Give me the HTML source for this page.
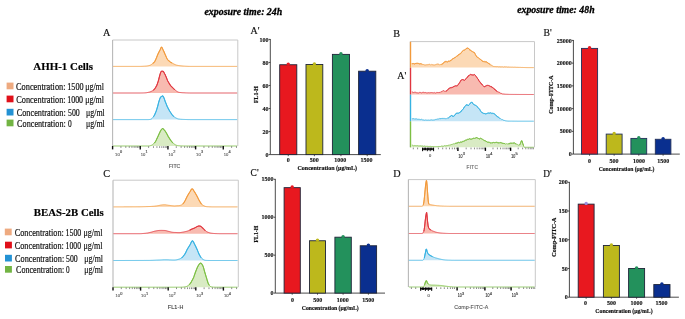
<!DOCTYPE html><html><head><meta charset="utf-8"><style>html,body{margin:0;padding:0;background:#fff;}svg{display:block;will-change:transform;}</style></head><body><svg width="685" height="319" viewBox="0 0 685 319"><rect width="685" height="319" fill="#fff"/><text x="204.5" y="15" font-family='"Liberation Serif", serif' font-size="10" font-weight="bold" font-style="italic" text-anchor="start" fill="#000" stroke="#000" stroke-width="0.3" textLength="77.7" lengthAdjust="spacingAndGlyphs">exposure time: 24h</text>
<text x="517.2" y="13.2" font-family='"Liberation Serif", serif' font-size="10" font-weight="bold" font-style="italic" text-anchor="start" fill="#000" stroke="#000" stroke-width="0.3" textLength="77.4" lengthAdjust="spacingAndGlyphs">exposure time: 48h</text>
<text x="102.9" y="36" font-family='"Liberation Serif", serif' font-size="10.2" font-weight="normal" font-style="normal" text-anchor="start" fill="#111" stroke="#111" stroke-width="0.18">A</text>
<text x="250.6" y="34.2" font-family='"Liberation Serif", serif' font-size="10.2" font-weight="normal" font-style="normal" text-anchor="start" fill="#111" stroke="#111" stroke-width="0.18" textLength="8.9" lengthAdjust="spacingAndGlyphs">A'</text>
<text x="393.2" y="37" font-family='"Liberation Serif", serif' font-size="10.2" font-weight="normal" font-style="normal" text-anchor="start" fill="#111" stroke="#111" stroke-width="0.18">B</text>
<text x="397.3" y="78.5" font-family='"Liberation Serif", serif' font-size="10.2" font-weight="normal" font-style="normal" text-anchor="start" fill="#111" stroke="#111" stroke-width="0.18" textLength="8.9" lengthAdjust="spacingAndGlyphs">A'</text>
<text x="543.5" y="36" font-family='"Liberation Serif", serif' font-size="10.2" font-weight="normal" font-style="normal" text-anchor="start" fill="#111" stroke="#111" stroke-width="0.18" textLength="8.2" lengthAdjust="spacingAndGlyphs">B'</text>
<text x="103.2" y="176.6" font-family='"Liberation Serif", serif' font-size="10.2" font-weight="normal" font-style="normal" text-anchor="start" fill="#111" stroke="#111" stroke-width="0.18">C</text>
<text x="250.6" y="176.3" font-family='"Liberation Serif", serif' font-size="10.2" font-weight="normal" font-style="normal" text-anchor="start" fill="#111" stroke="#111" stroke-width="0.18" textLength="8" lengthAdjust="spacingAndGlyphs">C'</text>
<text x="393.2" y="176.6" font-family='"Liberation Serif", serif' font-size="10.2" font-weight="normal" font-style="normal" text-anchor="start" fill="#111" stroke="#111" stroke-width="0.18">D</text>
<text x="543.2" y="177" font-family='"Liberation Serif", serif' font-size="10.2" font-weight="normal" font-style="normal" text-anchor="start" fill="#111" stroke="#111" stroke-width="0.18" textLength="8.4" lengthAdjust="spacingAndGlyphs">D'</text>
<text x="33.3" y="70" font-family='"Liberation Serif", serif' font-size="11.3" font-weight="bold" font-style="normal" text-anchor="start" fill="#000" stroke="#000" stroke-width="0.18" textLength="59.8" lengthAdjust="spacingAndGlyphs">AHH-1 Cells</text>
<text x="33.7" y="215.9" font-family='"Liberation Serif", serif' font-size="11.3" font-weight="bold" font-style="normal" text-anchor="start" fill="#000" stroke="#000" stroke-width="0.18" textLength="70.1" lengthAdjust="spacingAndGlyphs">BEAS-2B Cells</text>
<rect x="6.6" y="82.6" width="6.9" height="6.7" fill="#eeaa80" stroke="none" stroke-width="1"/>
<text x="16" y="90" font-family='"Liberation Serif", serif' font-size="9.5" font-weight="normal" font-style="normal" text-anchor="start" fill="#111" stroke="#111" stroke-width="0.18" textLength="49.6" lengthAdjust="spacingAndGlyphs">Concentration:</text>
<text x="67.2" y="90" font-family='"Liberation Serif", serif' font-size="9.5" font-weight="normal" font-style="normal" text-anchor="start" fill="#111" stroke="#111" stroke-width="0.18" textLength="16.4" lengthAdjust="spacingAndGlyphs">1500</text>
<text x="85.2" y="90" font-family='"Liberation Serif", serif' font-size="9.5" font-weight="normal" font-style="normal" text-anchor="start" fill="#111" stroke="#111" stroke-width="0.18" textLength="18.8" lengthAdjust="spacingAndGlyphs">μg/ml</text>
<rect x="6.6" y="95.6" width="6.9" height="6.7" fill="#e0101a" stroke="none" stroke-width="1"/>
<text x="16.3" y="103.1" font-family='"Liberation Serif", serif' font-size="9.5" font-weight="normal" font-style="normal" text-anchor="start" fill="#111" stroke="#111" stroke-width="0.18" textLength="49.3" lengthAdjust="spacingAndGlyphs">Concentration:</text>
<text x="67.2" y="103.1" font-family='"Liberation Serif", serif' font-size="9.5" font-weight="normal" font-style="normal" text-anchor="start" fill="#111" stroke="#111" stroke-width="0.18" textLength="15.9" lengthAdjust="spacingAndGlyphs">1000</text>
<text x="85.2" y="103.1" font-family='"Liberation Serif", serif' font-size="9.5" font-weight="normal" font-style="normal" text-anchor="start" fill="#111" stroke="#111" stroke-width="0.18" textLength="18.8" lengthAdjust="spacingAndGlyphs">μg/ml</text>
<rect x="6.6" y="108.8" width="6.9" height="6.7" fill="#2392d4" stroke="none" stroke-width="1"/>
<text x="16.7" y="115.8" font-family='"Liberation Serif", serif' font-size="9.5" font-weight="normal" font-style="normal" text-anchor="start" fill="#111" stroke="#111" stroke-width="0.18" textLength="49.1" lengthAdjust="spacingAndGlyphs">Concentration:</text>
<text x="68" y="115.8" font-family='"Liberation Serif", serif' font-size="9.5" font-weight="normal" font-style="normal" text-anchor="start" fill="#111" stroke="#111" stroke-width="0.18" textLength="11.8" lengthAdjust="spacingAndGlyphs">500</text>
<text x="86" y="115.8" font-family='"Liberation Serif", serif' font-size="9.5" font-weight="normal" font-style="normal" text-anchor="start" fill="#111" stroke="#111" stroke-width="0.18" textLength="18.8" lengthAdjust="spacingAndGlyphs">μg/ml</text>
<rect x="6.6" y="119.6" width="6.9" height="6.7" fill="#72b443" stroke="none" stroke-width="1"/>
<text x="17.1" y="126.8" font-family='"Liberation Serif", serif' font-size="9.5" font-weight="normal" font-style="normal" text-anchor="start" fill="#111" stroke="#111" stroke-width="0.18" textLength="48.7" lengthAdjust="spacingAndGlyphs">Concentration:</text>
<text x="68.1" y="126.8" font-family='"Liberation Serif", serif' font-size="9.5" font-weight="normal" font-style="normal" text-anchor="start" fill="#111" stroke="#111" stroke-width="0.18" textLength="3.7" lengthAdjust="spacingAndGlyphs">0</text>
<text x="86" y="126.8" font-family='"Liberation Serif", serif' font-size="9.5" font-weight="normal" font-style="normal" text-anchor="start" fill="#111" stroke="#111" stroke-width="0.18" textLength="18.8" lengthAdjust="spacingAndGlyphs">μg/ml</text>
<rect x="4.8" y="228.6" width="6.9" height="6.7" fill="#eeaa80" stroke="none" stroke-width="1"/>
<text x="14.7" y="236.2" font-family='"Liberation Serif", serif' font-size="9.5" font-weight="normal" font-style="normal" text-anchor="start" fill="#111" stroke="#111" stroke-width="0.18" textLength="49.2" lengthAdjust="spacingAndGlyphs">Concentration:</text>
<text x="65.5" y="236.2" font-family='"Liberation Serif", serif' font-size="9.5" font-weight="normal" font-style="normal" text-anchor="start" fill="#111" stroke="#111" stroke-width="0.18" textLength="15.8" lengthAdjust="spacingAndGlyphs">1500</text>
<text x="83.5" y="236.2" font-family='"Liberation Serif", serif' font-size="9.5" font-weight="normal" font-style="normal" text-anchor="start" fill="#111" stroke="#111" stroke-width="0.18" textLength="19.1" lengthAdjust="spacingAndGlyphs">μg/ml</text>
<rect x="5" y="241.7" width="6.9" height="6.7" fill="#e0101a" stroke="none" stroke-width="1"/>
<text x="14.7" y="249.3" font-family='"Liberation Serif", serif' font-size="9.5" font-weight="normal" font-style="normal" text-anchor="start" fill="#111" stroke="#111" stroke-width="0.18" textLength="49.2" lengthAdjust="spacingAndGlyphs">Concentration:</text>
<text x="65.5" y="249.3" font-family='"Liberation Serif", serif' font-size="9.5" font-weight="normal" font-style="normal" text-anchor="start" fill="#111" stroke="#111" stroke-width="0.18" textLength="15.5" lengthAdjust="spacingAndGlyphs">1000</text>
<text x="83.5" y="249.3" font-family='"Liberation Serif", serif' font-size="9.5" font-weight="normal" font-style="normal" text-anchor="start" fill="#111" stroke="#111" stroke-width="0.18" textLength="19.1" lengthAdjust="spacingAndGlyphs">μg/ml</text>
<rect x="5" y="254.8" width="6.9" height="6.7" fill="#2392d4" stroke="none" stroke-width="1"/>
<text x="15" y="261.6" font-family='"Liberation Serif", serif' font-size="9.5" font-weight="normal" font-style="normal" text-anchor="start" fill="#111" stroke="#111" stroke-width="0.18" textLength="49.2" lengthAdjust="spacingAndGlyphs">Concentration:</text>
<text x="66" y="261.6" font-family='"Liberation Serif", serif' font-size="9.5" font-weight="normal" font-style="normal" text-anchor="start" fill="#111" stroke="#111" stroke-width="0.18" textLength="11.7" lengthAdjust="spacingAndGlyphs">500</text>
<text x="84.3" y="261.6" font-family='"Liberation Serif", serif' font-size="9.5" font-weight="normal" font-style="normal" text-anchor="start" fill="#111" stroke="#111" stroke-width="0.18" textLength="18.7" lengthAdjust="spacingAndGlyphs">μg/ml</text>
<rect x="5" y="266" width="6.9" height="6.7" fill="#72b443" stroke="none" stroke-width="1"/>
<text x="16" y="272.8" font-family='"Liberation Serif", serif' font-size="9.5" font-weight="normal" font-style="normal" text-anchor="start" fill="#111" stroke="#111" stroke-width="0.18" textLength="48.2" lengthAdjust="spacingAndGlyphs">Concentration:</text>
<text x="66" y="272.8" font-family='"Liberation Serif", serif' font-size="9.5" font-weight="normal" font-style="normal" text-anchor="start" fill="#111" stroke="#111" stroke-width="0.18" textLength="3.6" lengthAdjust="spacingAndGlyphs">0</text>
<text x="84.3" y="272.8" font-family='"Liberation Serif", serif' font-size="9.5" font-weight="normal" font-style="normal" text-anchor="start" fill="#111" stroke="#111" stroke-width="0.18" textLength="18.7" lengthAdjust="spacingAndGlyphs">μg/ml</text>
<line x1="112.6" y1="40" x2="237.8" y2="40" stroke="#c8c8c8" stroke-width="1"/>
<line x1="237.8" y1="40" x2="237.8" y2="146" stroke="#c8c8c8" stroke-width="1"/>
<line x1="112.6" y1="40" x2="112.6" y2="146" stroke="#b8b8b8" stroke-width="1.1"/>
<path d="M113.1 66.4 L113.6 66.4 L114.1 66.4 L114.6 66.4 L115.1 66.4 L115.6 66.4 L116.1 66.4 L116.6 66.4 L117.1 66.4 L117.6 66.4 L118.1 66.4 L118.6 66.4 L119.1 66.4 L119.6 66.4 L120.1 66.4 L120.6 66.4 L121.1 66.4 L121.6 66.4 L122.1 66.4 L122.6 66.4 L123.1 66.4 L123.6 66.4 L124.1 66.4 L124.6 66.4 L125.1 66.4 L125.6 66.4 L126.1 66.4 L126.6 66.4 L127.1 66.4 L127.6 66.4 L128.1 66.4 L128.6 66.4 L129.1 66.4 L129.6 66.4 L130.1 66.4 L130.6 66.4 L131.1 66.4 L131.6 66.4 L132.1 66.4 L132.6 66.4 L133.1 66.4 L133.6 66.4 L134.1 66.4 L134.6 66.4 L135.1 66.4 L135.6 66.4 L136.1 66.4 L136.6 66.4 L137.1 66.4 L137.6 66.4 L138.1 66.4 L138.6 66.4 L139.1 66.4 L139.6 66.4 L140.1 66.4 L140.6 66.38 L141.1 66.37 L141.6 66.35 L142.1 66.33 L142.6 66.31 L143.1 66.28 L143.6 66.25 L144.1 66.22 L144.6 66.19 L145.1 66.16 L145.6 66.12 L146.1 66.08 L146.6 66.03 L147.1 65.96 L147.6 65.88 L148.1 65.79 L148.6 65.69 L149.1 65.57 L149.6 65.42 L150.1 65.24 L150.6 65 L151.1 64.71 L151.6 64.37 L152.1 63.99 L152.6 63.58 L153.1 63.16 L153.6 62.74 L154.1 62.33 L154.6 61.71 L155.1 60.81 L155.6 59.8 L156.1 58.66 L156.6 57.46 L157.1 56.15 L157.6 54.85 L158.1 53.79 L158.6 52.75 L159.1 51.72 L159.6 50.76 L160.1 49.9 L160.6 48.53 L161.1 47.44 L161.6 47.12 L162.1 47.66 L162.6 48.7 L163.1 49.9 L163.6 50.89 L164.1 52.01 L164.6 53.2 L165.1 54.37 L165.6 55.48 L166.1 56.62 L166.6 57.73 L167.1 58.76 L167.6 59.54 L168.1 60.08 L168.6 60.55 L169.1 60.98 L169.6 61.4 L170.1 61.82 L170.6 62.2 L171.1 62.46 L171.6 62.74 L172.1 63.02 L172.6 63.3 L173.1 63.58 L173.6 63.85 L174.1 64.12 L174.6 64.37 L175.1 64.6 L175.6 64.81 L176.1 65 L176.6 65.14 L177.1 65.26 L177.6 65.37 L178.1 65.47 L178.6 65.55 L179.1 65.62 L179.6 65.69 L180.1 65.75 L180.6 65.8 L181.1 65.85 L181.6 65.9 L182.1 65.95 L182.6 66 L183.1 66.05 L183.6 66.09 L184.1 66.13 L184.6 66.16 L185.1 66.19 L185.6 66.22 L186.1 66.25 L186.6 66.28 L187.1 66.3 L187.6 66.32 L188.1 66.34 L188.6 66.36 L189.1 66.37 L189.6 66.39 L190.1 66.4 L190.6 66.4 L191.1 66.4 L191.6 66.4 L192.1 66.4 L192.6 66.4 L193.1 66.4 L193.6 66.4 L194.1 66.4 L194.6 66.4 L195.1 66.4 L195.6 66.4 L196.1 66.4 L196.6 66.4 L197.1 66.4 L197.6 66.4 L198.1 66.4 L198.6 66.4 L199.1 66.4 L199.6 66.4 L200.1 66.4 L200.6 66.4 L201.1 66.4 L201.6 66.4 L202.1 66.4 L202.6 66.4 L203.1 66.4 L203.6 66.4 L204.1 66.4 L204.6 66.4 L205.1 66.4 L205.6 66.4 L206.1 66.4 L206.6 66.4 L207.1 66.4 L207.6 66.4 L208.1 66.4 L208.6 66.4 L209.1 66.4 L209.6 66.4 L210.1 66.4 L210.6 66.4 L211.1 66.4 L211.6 66.4 L212.1 66.4 L212.6 66.4 L213.1 66.4 L213.6 66.4 L214.1 66.4 L214.6 66.4 L215.1 66.4 L215.6 66.4 L216.1 66.4 L216.6 66.4 L217.1 66.4 L217.6 66.4 L218.1 66.4 L218.6 66.4 L219.1 66.4 L219.6 66.4 L220.1 66.4 L220.6 66.4 L221.1 66.4 L221.6 66.4 L222.1 66.4 L222.6 66.4 L223.1 66.4 L223.6 66.4 L224.1 66.4 L224.6 66.4 L225.1 66.4 L225.6 66.4 L226.1 66.4 L226.6 66.4 L227.1 66.4 L227.6 66.4 L228.1 66.4 L228.6 66.4 L229.1 66.4 L229.6 66.4 L230.1 66.4 L230.6 66.4 L231.1 66.4 L231.6 66.4 L232.1 66.4 L232.6 66.4 L233.1 66.4 L233.6 66.4 L234.1 66.4 L234.6 66.4 L235.1 66.4 L235.6 66.4 L236.1 66.4 L236.6 66.4 L237.1 66.4 L237.3 66.4 L113.1 66.4 Z" fill="#fcd9b5" stroke="none"/>
<path d="M113.1 66.4 L113.6 66.4 L114.1 66.4 L114.6 66.4 L115.1 66.4 L115.6 66.4 L116.1 66.4 L116.6 66.4 L117.1 66.4 L117.6 66.4 L118.1 66.4 L118.6 66.4 L119.1 66.4 L119.6 66.4 L120.1 66.4 L120.6 66.4 L121.1 66.4 L121.6 66.4 L122.1 66.4 L122.6 66.4 L123.1 66.4 L123.6 66.4 L124.1 66.4 L124.6 66.4 L125.1 66.4 L125.6 66.4 L126.1 66.4 L126.6 66.4 L127.1 66.4 L127.6 66.4 L128.1 66.4 L128.6 66.4 L129.1 66.4 L129.6 66.4 L130.1 66.4 L130.6 66.4 L131.1 66.4 L131.6 66.4 L132.1 66.4 L132.6 66.4 L133.1 66.4 L133.6 66.4 L134.1 66.4 L134.6 66.4 L135.1 66.4 L135.6 66.4 L136.1 66.4 L136.6 66.4 L137.1 66.4 L137.6 66.4 L138.1 66.4 L138.6 66.4 L139.1 66.4 L139.6 66.4 L140.1 66.4 L140.6 66.38 L141.1 66.37 L141.6 66.35 L142.1 66.33 L142.6 66.31 L143.1 66.28 L143.6 66.25 L144.1 66.22 L144.6 66.19 L145.1 66.16 L145.6 66.12 L146.1 66.08 L146.6 66.03 L147.1 65.96 L147.6 65.88 L148.1 65.79 L148.6 65.69 L149.1 65.57 L149.6 65.42 L150.1 65.24 L150.6 65 L151.1 64.71 L151.6 64.37 L152.1 63.99 L152.6 63.58 L153.1 63.16 L153.6 62.74 L154.1 62.33 L154.6 61.71 L155.1 60.81 L155.6 59.8 L156.1 58.66 L156.6 57.46 L157.1 56.15 L157.6 54.85 L158.1 53.79 L158.6 52.75 L159.1 51.72 L159.6 50.76 L160.1 49.9 L160.6 48.53 L161.1 47.44 L161.6 47.12 L162.1 47.66 L162.6 48.7 L163.1 49.9 L163.6 50.89 L164.1 52.01 L164.6 53.2 L165.1 54.37 L165.6 55.48 L166.1 56.62 L166.6 57.73 L167.1 58.76 L167.6 59.54 L168.1 60.08 L168.6 60.55 L169.1 60.98 L169.6 61.4 L170.1 61.82 L170.6 62.2 L171.1 62.46 L171.6 62.74 L172.1 63.02 L172.6 63.3 L173.1 63.58 L173.6 63.85 L174.1 64.12 L174.6 64.37 L175.1 64.6 L175.6 64.81 L176.1 65 L176.6 65.14 L177.1 65.26 L177.6 65.37 L178.1 65.47 L178.6 65.55 L179.1 65.62 L179.6 65.69 L180.1 65.75 L180.6 65.8 L181.1 65.85 L181.6 65.9 L182.1 65.95 L182.6 66 L183.1 66.05 L183.6 66.09 L184.1 66.13 L184.6 66.16 L185.1 66.19 L185.6 66.22 L186.1 66.25 L186.6 66.28 L187.1 66.3 L187.6 66.32 L188.1 66.34 L188.6 66.36 L189.1 66.37 L189.6 66.39 L190.1 66.4 L190.6 66.4 L191.1 66.4 L191.6 66.4 L192.1 66.4 L192.6 66.4 L193.1 66.4 L193.6 66.4 L194.1 66.4 L194.6 66.4 L195.1 66.4 L195.6 66.4 L196.1 66.4 L196.6 66.4 L197.1 66.4 L197.6 66.4 L198.1 66.4 L198.6 66.4 L199.1 66.4 L199.6 66.4 L200.1 66.4 L200.6 66.4 L201.1 66.4 L201.6 66.4 L202.1 66.4 L202.6 66.4 L203.1 66.4 L203.6 66.4 L204.1 66.4 L204.6 66.4 L205.1 66.4 L205.6 66.4 L206.1 66.4 L206.6 66.4 L207.1 66.4 L207.6 66.4 L208.1 66.4 L208.6 66.4 L209.1 66.4 L209.6 66.4 L210.1 66.4 L210.6 66.4 L211.1 66.4 L211.6 66.4 L212.1 66.4 L212.6 66.4 L213.1 66.4 L213.6 66.4 L214.1 66.4 L214.6 66.4 L215.1 66.4 L215.6 66.4 L216.1 66.4 L216.6 66.4 L217.1 66.4 L217.6 66.4 L218.1 66.4 L218.6 66.4 L219.1 66.4 L219.6 66.4 L220.1 66.4 L220.6 66.4 L221.1 66.4 L221.6 66.4 L222.1 66.4 L222.6 66.4 L223.1 66.4 L223.6 66.4 L224.1 66.4 L224.6 66.4 L225.1 66.4 L225.6 66.4 L226.1 66.4 L226.6 66.4 L227.1 66.4 L227.6 66.4 L228.1 66.4 L228.6 66.4 L229.1 66.4 L229.6 66.4 L230.1 66.4 L230.6 66.4 L231.1 66.4 L231.6 66.4 L232.1 66.4 L232.6 66.4 L233.1 66.4 L233.6 66.4 L234.1 66.4 L234.6 66.4 L235.1 66.4 L235.6 66.4 L236.1 66.4 L236.6 66.4 L237.1 66.4" fill="none" stroke="#f29a3c" stroke-width="1" stroke-opacity="0.85"/>
<path d="M153.1 63.16 L153.6 62.74 L154.1 62.33 L154.6 61.71 L155.1 60.81 L155.6 59.8 L156.1 58.66 L156.6 57.46 L157.1 56.15 L157.6 54.85 L158.1 53.79 L158.6 52.75 L159.1 51.72 L159.6 50.76 L160.1 49.9 L160.6 48.53 L161.1 47.44 L161.6 47.12 L162.1 47.66 L162.6 48.7 L163.1 49.9 L163.6 50.89 L164.1 52.01 L164.6 53.2 L165.1 54.37 L165.6 55.48 L166.1 56.62 L166.6 57.73 L167.1 58.76 L167.6 59.54 L168.1 60.08 L168.6 60.55 L169.1 60.98 L169.6 61.4 L170.1 61.82 L170.6 62.2 L171.1 62.46 L171.6 62.74" fill="none" stroke="#f29a3c" stroke-width="1.05" stroke-linejoin="round" stroke-linecap="round"/>
<path d="M113.1 93 L113.6 93 L114.1 93 L114.6 93 L115.1 93 L115.6 93 L116.1 93 L116.6 93 L117.1 93 L117.6 93 L118.1 93 L118.6 93 L119.1 93 L119.6 93 L120.1 93 L120.6 93 L121.1 93 L121.6 93 L122.1 93 L122.6 93 L123.1 93 L123.6 93 L124.1 93 L124.6 93 L125.1 93 L125.6 93 L126.1 93 L126.6 93 L127.1 93 L127.6 93 L128.1 93 L128.6 93 L129.1 93 L129.6 93 L130.1 93 L130.6 93 L131.1 93 L131.6 93 L132.1 93 L132.6 93 L133.1 93 L133.6 93 L134.1 93 L134.6 93 L135.1 93 L135.6 93 L136.1 93 L136.6 93 L137.1 93 L137.6 93 L138.1 93 L138.6 93 L139.1 93 L139.6 93 L140.1 93 L140.6 92.99 L141.1 92.98 L141.6 92.98 L142.1 92.97 L142.6 92.96 L143.1 92.95 L143.6 92.93 L144.1 92.91 L144.6 92.89 L145.1 92.86 L145.6 92.83 L146.1 92.79 L146.6 92.71 L147.1 92.61 L147.6 92.51 L148.1 92.39 L148.6 92.27 L149.1 92.15 L149.6 92.02 L150.1 91.85 L150.6 91.66 L151.1 91.46 L151.6 91.22 L152.1 90.94 L152.6 90.65 L153.1 90.34 L153.6 89.98 L154.1 89.53 L154.6 88.96 L155.1 88.27 L155.6 87.48 L156.1 86.63 L156.6 85.75 L157.1 84.57 L157.6 83.11 L158.1 81.59 L158.6 79.9 L159.1 77.84 L159.6 76 L160.1 74.14 L160.6 72.65 L161.1 71.5 L161.6 71.25 L162.1 71.2 L162.6 71.19 L163.1 71.29 L163.6 71.75 L164.1 72.66 L164.6 73.68 L165.1 74.58 L165.6 75.71 L166.1 76.85 L166.6 78.08 L167.1 79.41 L167.6 80.7 L168.1 81.55 L168.6 82.42 L169.1 83.28 L169.6 84.12 L170.1 84.93 L170.6 85.62 L171.1 86.17 L171.6 86.7 L172.1 87.22 L172.6 87.72 L173.1 88.2 L173.6 88.67 L174.1 89.11 L174.6 89.55 L175.1 89.98 L175.6 90.4 L176.1 90.79 L176.6 91.17 L177.1 91.5 L177.6 91.8 L178.1 92.04 L178.6 92.22 L179.1 92.36 L179.6 92.45 L180.1 92.52 L180.6 92.57 L181.1 92.61 L181.6 92.66 L182.1 92.71 L182.6 92.74 L183.1 92.76 L183.6 92.79 L184.1 92.81 L184.6 92.84 L185.1 92.86 L185.6 92.88 L186.1 92.9 L186.6 92.91 L187.1 92.93 L187.6 92.94 L188.1 92.96 L188.6 92.97 L189.1 92.98 L189.6 92.99 L190.1 93 L190.6 93 L191.1 93 L191.6 93 L192.1 93 L192.6 93 L193.1 93 L193.6 93 L194.1 93 L194.6 93 L195.1 93 L195.6 93 L196.1 93 L196.6 93 L197.1 93 L197.6 93 L198.1 93 L198.6 93 L199.1 93 L199.6 93 L200.1 93 L200.6 93 L201.1 93 L201.6 93 L202.1 93 L202.6 93 L203.1 93 L203.6 93 L204.1 93 L204.6 93 L205.1 93 L205.6 93 L206.1 93 L206.6 93 L207.1 93 L207.6 93 L208.1 93 L208.6 93 L209.1 93 L209.6 93 L210.1 93 L210.6 93 L211.1 93 L211.6 93 L212.1 93 L212.6 93 L213.1 93 L213.6 93 L214.1 93 L214.6 93 L215.1 93 L215.6 93 L216.1 93 L216.6 93 L217.1 93 L217.6 93 L218.1 93 L218.6 93 L219.1 93 L219.6 93 L220.1 93 L220.6 93 L221.1 93 L221.6 93 L222.1 93 L222.6 93 L223.1 93 L223.6 93 L224.1 93 L224.6 93 L225.1 93 L225.6 93 L226.1 93 L226.6 93 L227.1 93 L227.6 93 L228.1 93 L228.6 93 L229.1 93 L229.6 93 L230.1 93 L230.6 93 L231.1 93 L231.6 93 L232.1 93 L232.6 93 L233.1 93 L233.6 93 L234.1 93 L234.6 93 L235.1 93 L235.6 93 L236.1 93 L236.6 93 L237.1 93 L237.3 93 L113.1 93 Z" fill="#f8bab0" stroke="none"/>
<path d="M113.1 93 L113.6 93 L114.1 93 L114.6 93 L115.1 93 L115.6 93 L116.1 93 L116.6 93 L117.1 93 L117.6 93 L118.1 93 L118.6 93 L119.1 93 L119.6 93 L120.1 93 L120.6 93 L121.1 93 L121.6 93 L122.1 93 L122.6 93 L123.1 93 L123.6 93 L124.1 93 L124.6 93 L125.1 93 L125.6 93 L126.1 93 L126.6 93 L127.1 93 L127.6 93 L128.1 93 L128.6 93 L129.1 93 L129.6 93 L130.1 93 L130.6 93 L131.1 93 L131.6 93 L132.1 93 L132.6 93 L133.1 93 L133.6 93 L134.1 93 L134.6 93 L135.1 93 L135.6 93 L136.1 93 L136.6 93 L137.1 93 L137.6 93 L138.1 93 L138.6 93 L139.1 93 L139.6 93 L140.1 93 L140.6 92.99 L141.1 92.98 L141.6 92.98 L142.1 92.97 L142.6 92.96 L143.1 92.95 L143.6 92.93 L144.1 92.91 L144.6 92.89 L145.1 92.86 L145.6 92.83 L146.1 92.79 L146.6 92.71 L147.1 92.61 L147.6 92.51 L148.1 92.39 L148.6 92.27 L149.1 92.15 L149.6 92.02 L150.1 91.85 L150.6 91.66 L151.1 91.46 L151.6 91.22 L152.1 90.94 L152.6 90.65 L153.1 90.34 L153.6 89.98 L154.1 89.53 L154.6 88.96 L155.1 88.27 L155.6 87.48 L156.1 86.63 L156.6 85.75 L157.1 84.57 L157.6 83.11 L158.1 81.59 L158.6 79.9 L159.1 77.84 L159.6 76 L160.1 74.14 L160.6 72.65 L161.1 71.5 L161.6 71.25 L162.1 71.2 L162.6 71.19 L163.1 71.29 L163.6 71.75 L164.1 72.66 L164.6 73.68 L165.1 74.58 L165.6 75.71 L166.1 76.85 L166.6 78.08 L167.1 79.41 L167.6 80.7 L168.1 81.55 L168.6 82.42 L169.1 83.28 L169.6 84.12 L170.1 84.93 L170.6 85.62 L171.1 86.17 L171.6 86.7 L172.1 87.22 L172.6 87.72 L173.1 88.2 L173.6 88.67 L174.1 89.11 L174.6 89.55 L175.1 89.98 L175.6 90.4 L176.1 90.79 L176.6 91.17 L177.1 91.5 L177.6 91.8 L178.1 92.04 L178.6 92.22 L179.1 92.36 L179.6 92.45 L180.1 92.52 L180.6 92.57 L181.1 92.61 L181.6 92.66 L182.1 92.71 L182.6 92.74 L183.1 92.76 L183.6 92.79 L184.1 92.81 L184.6 92.84 L185.1 92.86 L185.6 92.88 L186.1 92.9 L186.6 92.91 L187.1 92.93 L187.6 92.94 L188.1 92.96 L188.6 92.97 L189.1 92.98 L189.6 92.99 L190.1 93 L190.6 93 L191.1 93 L191.6 93 L192.1 93 L192.6 93 L193.1 93 L193.6 93 L194.1 93 L194.6 93 L195.1 93 L195.6 93 L196.1 93 L196.6 93 L197.1 93 L197.6 93 L198.1 93 L198.6 93 L199.1 93 L199.6 93 L200.1 93 L200.6 93 L201.1 93 L201.6 93 L202.1 93 L202.6 93 L203.1 93 L203.6 93 L204.1 93 L204.6 93 L205.1 93 L205.6 93 L206.1 93 L206.6 93 L207.1 93 L207.6 93 L208.1 93 L208.6 93 L209.1 93 L209.6 93 L210.1 93 L210.6 93 L211.1 93 L211.6 93 L212.1 93 L212.6 93 L213.1 93 L213.6 93 L214.1 93 L214.6 93 L215.1 93 L215.6 93 L216.1 93 L216.6 93 L217.1 93 L217.6 93 L218.1 93 L218.6 93 L219.1 93 L219.6 93 L220.1 93 L220.6 93 L221.1 93 L221.6 93 L222.1 93 L222.6 93 L223.1 93 L223.6 93 L224.1 93 L224.6 93 L225.1 93 L225.6 93 L226.1 93 L226.6 93 L227.1 93 L227.6 93 L228.1 93 L228.6 93 L229.1 93 L229.6 93 L230.1 93 L230.6 93 L231.1 93 L231.6 93 L232.1 93 L232.6 93 L233.1 93 L233.6 93 L234.1 93 L234.6 93 L235.1 93 L235.6 93 L236.1 93 L236.6 93 L237.1 93" fill="none" stroke="#e0363f" stroke-width="1" stroke-opacity="0.85"/>
<path d="M153.6 89.98 L154.1 89.53 L154.6 88.96 L155.1 88.27 L155.6 87.48 L156.1 86.63 L156.6 85.75 L157.1 84.57 L157.6 83.11 L158.1 81.59 L158.6 79.9 L159.1 77.84 L159.6 76 L160.1 74.14 L160.6 72.65 L161.1 71.5 L161.6 71.25 L162.1 71.2 L162.6 71.19 L163.1 71.29 L163.6 71.75 L164.1 72.66 L164.6 73.68 L165.1 74.58 L165.6 75.71 L166.1 76.85 L166.6 78.08 L167.1 79.41 L167.6 80.7 L168.1 81.55 L168.6 82.42 L169.1 83.28 L169.6 84.12 L170.1 84.93 L170.6 85.62 L171.1 86.17 L171.6 86.7 L172.1 87.22 L172.6 87.72 L173.1 88.2 L173.6 88.67 L174.1 89.11 L174.6 89.55" fill="none" stroke="#e0363f" stroke-width="1.05" stroke-linejoin="round" stroke-linecap="round"/>
<path d="M113.1 119.6 L113.6 119.6 L114.1 119.6 L114.6 119.6 L115.1 119.6 L115.6 119.6 L116.1 119.6 L116.6 119.6 L117.1 119.6 L117.6 119.6 L118.1 119.6 L118.6 119.6 L119.1 119.6 L119.6 119.6 L120.1 119.6 L120.6 119.6 L121.1 119.6 L121.6 119.6 L122.1 119.6 L122.6 119.6 L123.1 119.6 L123.6 119.6 L124.1 119.6 L124.6 119.6 L125.1 119.6 L125.6 119.6 L126.1 119.6 L126.6 119.6 L127.1 119.6 L127.6 119.6 L128.1 119.6 L128.6 119.6 L129.1 119.6 L129.6 119.6 L130.1 119.6 L130.6 119.6 L131.1 119.6 L131.6 119.6 L132.1 119.6 L132.6 119.6 L133.1 119.6 L133.6 119.6 L134.1 119.6 L134.6 119.6 L135.1 119.6 L135.6 119.6 L136.1 119.6 L136.6 119.6 L137.1 119.6 L137.6 119.6 L138.1 119.6 L138.6 119.6 L139.1 119.6 L139.6 119.6 L140.1 119.6 L140.6 119.6 L141.1 119.6 L141.6 119.6 L142.1 119.6 L142.6 119.6 L143.1 119.6 L143.6 119.6 L144.1 119.6 L144.6 119.6 L145.1 119.6 L145.6 119.6 L146.1 119.6 L146.6 119.6 L147.1 119.6 L147.6 119.6 L148.1 119.6 L148.6 119.59 L149.1 119.55 L149.6 119.51 L150.1 119.44 L150.6 119.32 L151.1 119.13 L151.6 118.82 L152.1 118.37 L152.6 117.81 L153.1 117.17 L153.6 116.48 L154.1 115.75 L154.6 114.79 L155.1 113.68 L155.6 112.52 L156.1 111.35 L156.6 109.89 L157.1 108.21 L157.6 106.54 L158.1 104.61 L158.6 102.64 L159.1 100.93 L159.6 99.44 L160.1 98.09 L160.6 97.09 L161.1 96.71 L161.6 96.53 L162.1 96.1 L162.6 95.87 L163.1 96.25 L163.6 97.12 L164.1 98.28 L164.6 99.66 L165.1 101.19 L165.6 102.44 L166.1 103.67 L166.6 104.94 L167.1 106.2 L167.6 107.18 L168.1 108.16 L168.6 109.14 L169.1 110.12 L169.6 111.04 L170.1 111.78 L170.6 112.53 L171.1 113.29 L171.6 114.02 L172.1 114.72 L172.6 115.36 L173.1 115.87 L173.6 116.3 L174.1 116.7 L174.6 117.08 L175.1 117.43 L175.6 117.76 L176.1 118.05 L176.6 118.31 L177.1 118.55 L177.6 118.74 L178.1 118.89 L178.6 119 L179.1 119.08 L179.6 119.14 L180.1 119.19 L180.6 119.25 L181.1 119.31 L181.6 119.34 L182.1 119.36 L182.6 119.39 L183.1 119.41 L183.6 119.43 L184.1 119.45 L184.6 119.47 L185.1 119.49 L185.6 119.5 L186.1 119.52 L186.6 119.53 L187.1 119.54 L187.6 119.55 L188.1 119.57 L188.6 119.58 L189.1 119.58 L189.6 119.59 L190.1 119.6 L190.6 119.6 L191.1 119.6 L191.6 119.6 L192.1 119.6 L192.6 119.6 L193.1 119.6 L193.6 119.6 L194.1 119.6 L194.6 119.6 L195.1 119.6 L195.6 119.6 L196.1 119.6 L196.6 119.6 L197.1 119.6 L197.6 119.6 L198.1 119.6 L198.6 119.6 L199.1 119.6 L199.6 119.6 L200.1 119.6 L200.6 119.6 L201.1 119.6 L201.6 119.6 L202.1 119.6 L202.6 119.6 L203.1 119.6 L203.6 119.6 L204.1 119.6 L204.6 119.6 L205.1 119.6 L205.6 119.6 L206.1 119.6 L206.6 119.6 L207.1 119.6 L207.6 119.6 L208.1 119.6 L208.6 119.6 L209.1 119.6 L209.6 119.6 L210.1 119.6 L210.6 119.6 L211.1 119.6 L211.6 119.6 L212.1 119.6 L212.6 119.6 L213.1 119.6 L213.6 119.6 L214.1 119.6 L214.6 119.6 L215.1 119.6 L215.6 119.6 L216.1 119.6 L216.6 119.6 L217.1 119.6 L217.6 119.6 L218.1 119.6 L218.6 119.6 L219.1 119.6 L219.6 119.6 L220.1 119.6 L220.6 119.6 L221.1 119.6 L221.6 119.6 L222.1 119.6 L222.6 119.6 L223.1 119.6 L223.6 119.6 L224.1 119.6 L224.6 119.6 L225.1 119.6 L225.6 119.6 L226.1 119.6 L226.6 119.6 L227.1 119.6 L227.6 119.6 L228.1 119.6 L228.6 119.6 L229.1 119.6 L229.6 119.6 L230.1 119.6 L230.6 119.6 L231.1 119.6 L231.6 119.6 L232.1 119.6 L232.6 119.6 L233.1 119.6 L233.6 119.6 L234.1 119.6 L234.6 119.6 L235.1 119.6 L235.6 119.6 L236.1 119.6 L236.6 119.6 L237.1 119.6 L237.3 119.6 L113.1 119.6 Z" fill="#c5e5f6" stroke="none"/>
<path d="M113.1 119.6 L113.6 119.6 L114.1 119.6 L114.6 119.6 L115.1 119.6 L115.6 119.6 L116.1 119.6 L116.6 119.6 L117.1 119.6 L117.6 119.6 L118.1 119.6 L118.6 119.6 L119.1 119.6 L119.6 119.6 L120.1 119.6 L120.6 119.6 L121.1 119.6 L121.6 119.6 L122.1 119.6 L122.6 119.6 L123.1 119.6 L123.6 119.6 L124.1 119.6 L124.6 119.6 L125.1 119.6 L125.6 119.6 L126.1 119.6 L126.6 119.6 L127.1 119.6 L127.6 119.6 L128.1 119.6 L128.6 119.6 L129.1 119.6 L129.6 119.6 L130.1 119.6 L130.6 119.6 L131.1 119.6 L131.6 119.6 L132.1 119.6 L132.6 119.6 L133.1 119.6 L133.6 119.6 L134.1 119.6 L134.6 119.6 L135.1 119.6 L135.6 119.6 L136.1 119.6 L136.6 119.6 L137.1 119.6 L137.6 119.6 L138.1 119.6 L138.6 119.6 L139.1 119.6 L139.6 119.6 L140.1 119.6 L140.6 119.6 L141.1 119.6 L141.6 119.6 L142.1 119.6 L142.6 119.6 L143.1 119.6 L143.6 119.6 L144.1 119.6 L144.6 119.6 L145.1 119.6 L145.6 119.6 L146.1 119.6 L146.6 119.6 L147.1 119.6 L147.6 119.6 L148.1 119.6 L148.6 119.59 L149.1 119.55 L149.6 119.51 L150.1 119.44 L150.6 119.32 L151.1 119.13 L151.6 118.82 L152.1 118.37 L152.6 117.81 L153.1 117.17 L153.6 116.48 L154.1 115.75 L154.6 114.79 L155.1 113.68 L155.6 112.52 L156.1 111.35 L156.6 109.89 L157.1 108.21 L157.6 106.54 L158.1 104.61 L158.6 102.64 L159.1 100.93 L159.6 99.44 L160.1 98.09 L160.6 97.09 L161.1 96.71 L161.6 96.53 L162.1 96.1 L162.6 95.87 L163.1 96.25 L163.6 97.12 L164.1 98.28 L164.6 99.66 L165.1 101.19 L165.6 102.44 L166.1 103.67 L166.6 104.94 L167.1 106.2 L167.6 107.18 L168.1 108.16 L168.6 109.14 L169.1 110.12 L169.6 111.04 L170.1 111.78 L170.6 112.53 L171.1 113.29 L171.6 114.02 L172.1 114.72 L172.6 115.36 L173.1 115.87 L173.6 116.3 L174.1 116.7 L174.6 117.08 L175.1 117.43 L175.6 117.76 L176.1 118.05 L176.6 118.31 L177.1 118.55 L177.6 118.74 L178.1 118.89 L178.6 119 L179.1 119.08 L179.6 119.14 L180.1 119.19 L180.6 119.25 L181.1 119.31 L181.6 119.34 L182.1 119.36 L182.6 119.39 L183.1 119.41 L183.6 119.43 L184.1 119.45 L184.6 119.47 L185.1 119.49 L185.6 119.5 L186.1 119.52 L186.6 119.53 L187.1 119.54 L187.6 119.55 L188.1 119.57 L188.6 119.58 L189.1 119.58 L189.6 119.59 L190.1 119.6 L190.6 119.6 L191.1 119.6 L191.6 119.6 L192.1 119.6 L192.6 119.6 L193.1 119.6 L193.6 119.6 L194.1 119.6 L194.6 119.6 L195.1 119.6 L195.6 119.6 L196.1 119.6 L196.6 119.6 L197.1 119.6 L197.6 119.6 L198.1 119.6 L198.6 119.6 L199.1 119.6 L199.6 119.6 L200.1 119.6 L200.6 119.6 L201.1 119.6 L201.6 119.6 L202.1 119.6 L202.6 119.6 L203.1 119.6 L203.6 119.6 L204.1 119.6 L204.6 119.6 L205.1 119.6 L205.6 119.6 L206.1 119.6 L206.6 119.6 L207.1 119.6 L207.6 119.6 L208.1 119.6 L208.6 119.6 L209.1 119.6 L209.6 119.6 L210.1 119.6 L210.6 119.6 L211.1 119.6 L211.6 119.6 L212.1 119.6 L212.6 119.6 L213.1 119.6 L213.6 119.6 L214.1 119.6 L214.6 119.6 L215.1 119.6 L215.6 119.6 L216.1 119.6 L216.6 119.6 L217.1 119.6 L217.6 119.6 L218.1 119.6 L218.6 119.6 L219.1 119.6 L219.6 119.6 L220.1 119.6 L220.6 119.6 L221.1 119.6 L221.6 119.6 L222.1 119.6 L222.6 119.6 L223.1 119.6 L223.6 119.6 L224.1 119.6 L224.6 119.6 L225.1 119.6 L225.6 119.6 L226.1 119.6 L226.6 119.6 L227.1 119.6 L227.6 119.6 L228.1 119.6 L228.6 119.6 L229.1 119.6 L229.6 119.6 L230.1 119.6 L230.6 119.6 L231.1 119.6 L231.6 119.6 L232.1 119.6 L232.6 119.6 L233.1 119.6 L233.6 119.6 L234.1 119.6 L234.6 119.6 L235.1 119.6 L235.6 119.6 L236.1 119.6 L236.6 119.6 L237.1 119.6" fill="none" stroke="#36b2e2" stroke-width="1" stroke-opacity="0.85"/>
<path d="M153.6 116.48 L154.1 115.75 L154.6 114.79 L155.1 113.68 L155.6 112.52 L156.1 111.35 L156.6 109.89 L157.1 108.21 L157.6 106.54 L158.1 104.61 L158.6 102.64 L159.1 100.93 L159.6 99.44 L160.1 98.09 L160.6 97.09 L161.1 96.71 L161.6 96.53 L162.1 96.1 L162.6 95.87 L163.1 96.25 L163.6 97.12 L164.1 98.28 L164.6 99.66 L165.1 101.19 L165.6 102.44 L166.1 103.67 L166.6 104.94 L167.1 106.2 L167.6 107.18 L168.1 108.16 L168.6 109.14 L169.1 110.12 L169.6 111.04 L170.1 111.78 L170.6 112.53 L171.1 113.29 L171.6 114.02 L172.1 114.72 L172.6 115.36 L173.1 115.87 L173.6 116.3" fill="none" stroke="#36b2e2" stroke-width="1.05" stroke-linejoin="round" stroke-linecap="round"/>
<path d="M113.1 146 L113.6 146 L114.1 146 L114.6 146 L115.1 146 L115.6 146 L116.1 146 L116.6 146 L117.1 146 L117.6 146 L118.1 146 L118.6 146 L119.1 146 L119.6 146 L120.1 146 L120.6 146 L121.1 146 L121.6 146 L122.1 146 L122.6 146 L123.1 146 L123.6 146 L124.1 146 L124.6 146 L125.1 146 L125.6 146 L126.1 146 L126.6 146 L127.1 146 L127.6 146 L128.1 146 L128.6 146 L129.1 146 L129.6 146 L130.1 146 L130.6 146 L131.1 146 L131.6 146 L132.1 146 L132.6 146 L133.1 146 L133.6 146 L134.1 146 L134.6 146 L135.1 146 L135.6 146 L136.1 146 L136.6 146 L137.1 146 L137.6 146 L138.1 146 L138.6 146 L139.1 146 L139.6 146 L140.1 146 L140.6 146 L141.1 146 L141.6 146 L142.1 146 L142.6 146 L143.1 146 L143.6 146 L144.1 146 L144.6 146 L145.1 146 L145.6 146 L146.1 146 L146.6 146 L147.1 146 L147.6 145.99 L148.1 145.97 L148.6 145.95 L149.1 145.93 L149.6 145.88 L150.1 145.76 L150.6 145.62 L151.1 145.44 L151.6 145.23 L152.1 144.96 L152.6 144.63 L153.1 144.23 L153.6 143.77 L154.1 143.26 L154.6 142.7 L155.1 142.09 L155.6 141.35 L156.1 140.39 L156.6 139.35 L157.1 138.27 L157.6 137.21 L158.1 136.12 L158.6 134.99 L159.1 133.88 L159.6 132.85 L160.1 131.84 L160.6 130.79 L161.1 129.94 L161.6 129.25 L162.1 128.75 L162.6 128.59 L163.1 128.75 L163.6 129.19 L164.1 129.8 L164.6 130.34 L165.1 130.98 L165.6 131.76 L166.1 132.59 L166.6 133.41 L167.1 134.33 L167.6 135.29 L168.1 136.26 L168.6 137.14 L169.1 137.88 L169.6 138.63 L170.1 139.39 L170.6 140.12 L171.1 140.82 L171.6 141.46 L172.1 142.04 L172.6 142.57 L173.1 143.06 L173.6 143.5 L174.1 143.91 L174.6 144.28 L175.1 144.6 L175.6 144.92 L176.1 145.16 L176.6 145.35 L177.1 145.5 L177.6 145.63 L178.1 145.72 L178.6 145.76 L179.1 145.8 L179.6 145.83 L180.1 145.86 L180.6 145.89 L181.1 145.91 L181.6 145.92 L182.1 145.94 L182.6 145.95 L183.1 145.96 L183.6 145.97 L184.1 145.98 L184.6 145.99 L185.1 146 L185.6 146 L186.1 146 L186.6 146 L187.1 146 L187.6 146 L188.1 146 L188.6 146 L189.1 146 L189.6 146 L190.1 146 L190.6 146 L191.1 146 L191.6 146 L192.1 146 L192.6 146 L193.1 146 L193.6 146 L194.1 146 L194.6 146 L195.1 146 L195.6 146 L196.1 146 L196.6 146 L197.1 146 L197.6 146 L198.1 146 L198.6 146 L199.1 146 L199.6 146 L200.1 146 L200.6 146 L201.1 146 L201.6 146 L202.1 146 L202.6 146 L203.1 146 L203.6 146 L204.1 146 L204.6 146 L205.1 146 L205.6 146 L206.1 146 L206.6 146 L207.1 146 L207.6 146 L208.1 146 L208.6 146 L209.1 146 L209.6 146 L210.1 146 L210.6 146 L211.1 146 L211.6 146 L212.1 146 L212.6 146 L213.1 146 L213.6 146 L214.1 146 L214.6 146 L215.1 146 L215.6 146 L216.1 146 L216.6 146 L217.1 146 L217.6 146 L218.1 146 L218.6 146 L219.1 146 L219.6 146 L220.1 146 L220.6 146 L221.1 146 L221.6 146 L222.1 146 L222.6 146 L223.1 146 L223.6 146 L224.1 146 L224.6 146 L225.1 146 L225.6 146 L226.1 146 L226.6 146 L227.1 146 L227.6 146 L228.1 146 L228.6 146 L229.1 146 L229.6 146 L230.1 146 L230.6 146 L231.1 146 L231.6 146 L232.1 146 L232.6 146 L233.1 146 L233.6 146 L234.1 146 L234.6 146 L235.1 146 L235.6 146 L236.1 146 L236.6 146 L237.1 146 L237.3 146 L113.1 146 Z" fill="#d9ebc4" stroke="none"/>
<path d="M113.1 146 L113.6 146 L114.1 146 L114.6 146 L115.1 146 L115.6 146 L116.1 146 L116.6 146 L117.1 146 L117.6 146 L118.1 146 L118.6 146 L119.1 146 L119.6 146 L120.1 146 L120.6 146 L121.1 146 L121.6 146 L122.1 146 L122.6 146 L123.1 146 L123.6 146 L124.1 146 L124.6 146 L125.1 146 L125.6 146 L126.1 146 L126.6 146 L127.1 146 L127.6 146 L128.1 146 L128.6 146 L129.1 146 L129.6 146 L130.1 146 L130.6 146 L131.1 146 L131.6 146 L132.1 146 L132.6 146 L133.1 146 L133.6 146 L134.1 146 L134.6 146 L135.1 146 L135.6 146 L136.1 146 L136.6 146 L137.1 146 L137.6 146 L138.1 146 L138.6 146 L139.1 146 L139.6 146 L140.1 146 L140.6 146 L141.1 146 L141.6 146 L142.1 146 L142.6 146 L143.1 146 L143.6 146 L144.1 146 L144.6 146 L145.1 146 L145.6 146 L146.1 146 L146.6 146 L147.1 146 L147.6 145.99 L148.1 145.97 L148.6 145.95 L149.1 145.93 L149.6 145.88 L150.1 145.76 L150.6 145.62 L151.1 145.44 L151.6 145.23 L152.1 144.96 L152.6 144.63 L153.1 144.23 L153.6 143.77 L154.1 143.26 L154.6 142.7 L155.1 142.09 L155.6 141.35 L156.1 140.39 L156.6 139.35 L157.1 138.27 L157.6 137.21 L158.1 136.12 L158.6 134.99 L159.1 133.88 L159.6 132.85 L160.1 131.84 L160.6 130.79 L161.1 129.94 L161.6 129.25 L162.1 128.75 L162.6 128.59 L163.1 128.75 L163.6 129.19 L164.1 129.8 L164.6 130.34 L165.1 130.98 L165.6 131.76 L166.1 132.59 L166.6 133.41 L167.1 134.33 L167.6 135.29 L168.1 136.26 L168.6 137.14 L169.1 137.88 L169.6 138.63 L170.1 139.39 L170.6 140.12 L171.1 140.82 L171.6 141.46 L172.1 142.04 L172.6 142.57 L173.1 143.06 L173.6 143.5 L174.1 143.91 L174.6 144.28 L175.1 144.6 L175.6 144.92 L176.1 145.16 L176.6 145.35 L177.1 145.5 L177.6 145.63 L178.1 145.72 L178.6 145.76 L179.1 145.8 L179.6 145.83 L180.1 145.86 L180.6 145.89 L181.1 145.91 L181.6 145.92 L182.1 145.94 L182.6 145.95 L183.1 145.96 L183.6 145.97 L184.1 145.98 L184.6 145.99 L185.1 146 L185.6 146 L186.1 146 L186.6 146 L187.1 146 L187.6 146 L188.1 146 L188.6 146 L189.1 146 L189.6 146 L190.1 146 L190.6 146 L191.1 146 L191.6 146 L192.1 146 L192.6 146 L193.1 146 L193.6 146 L194.1 146 L194.6 146 L195.1 146 L195.6 146 L196.1 146 L196.6 146 L197.1 146 L197.6 146 L198.1 146 L198.6 146 L199.1 146 L199.6 146 L200.1 146 L200.6 146 L201.1 146 L201.6 146 L202.1 146 L202.6 146 L203.1 146 L203.6 146 L204.1 146 L204.6 146 L205.1 146 L205.6 146 L206.1 146 L206.6 146 L207.1 146 L207.6 146 L208.1 146 L208.6 146 L209.1 146 L209.6 146 L210.1 146 L210.6 146 L211.1 146 L211.6 146 L212.1 146 L212.6 146 L213.1 146 L213.6 146 L214.1 146 L214.6 146 L215.1 146 L215.6 146 L216.1 146 L216.6 146 L217.1 146 L217.6 146 L218.1 146 L218.6 146 L219.1 146 L219.6 146 L220.1 146 L220.6 146 L221.1 146 L221.6 146 L222.1 146 L222.6 146 L223.1 146 L223.6 146 L224.1 146 L224.6 146 L225.1 146 L225.6 146 L226.1 146 L226.6 146 L227.1 146 L227.6 146 L228.1 146 L228.6 146 L229.1 146 L229.6 146 L230.1 146 L230.6 146 L231.1 146 L231.6 146 L232.1 146 L232.6 146 L233.1 146 L233.6 146 L234.1 146 L234.6 146 L235.1 146 L235.6 146 L236.1 146 L236.6 146 L237.1 146" fill="none" stroke="#7cbf44" stroke-width="1" stroke-opacity="0.85"/>
<path d="M154.6 142.7 L155.1 142.09 L155.6 141.35 L156.1 140.39 L156.6 139.35 L157.1 138.27 L157.6 137.21 L158.1 136.12 L158.6 134.99 L159.1 133.88 L159.6 132.85 L160.1 131.84 L160.6 130.79 L161.1 129.94 L161.6 129.25 L162.1 128.75 L162.6 128.59 L163.1 128.75 L163.6 129.19 L164.1 129.8 L164.6 130.34 L165.1 130.98 L165.6 131.76 L166.1 132.59 L166.6 133.41 L167.1 134.33 L167.6 135.29 L168.1 136.26 L168.6 137.14 L169.1 137.88 L169.6 138.63 L170.1 139.39 L170.6 140.12 L171.1 140.82 L171.6 141.46 L172.1 142.04 L172.6 142.57" fill="none" stroke="#7cbf44" stroke-width="1.05" stroke-linejoin="round" stroke-linecap="round"/>
<line x1="112.6" y1="146" x2="112.6" y2="149.4" stroke="#111" stroke-width="1.4"/>
<text x="115.1" y="155.5" font-family='"Liberation Sans", sans-serif' font-size="4.3" font-weight="normal" font-style="normal" text-anchor="start" fill="#5a5a5a" stroke="#5a5a5a" stroke-width="0.12" textLength="4.6" lengthAdjust="spacingAndGlyphs">10</text>
<text x="119.9" y="153.3" font-family='"Liberation Sans", sans-serif' font-size="3.9" font-weight="normal" font-style="normal" text-anchor="start" fill="#4a4a4a" stroke="#4a4a4a" stroke-width="0.15">0</text>
<line x1="120.93" y1="146.2" x2="120.93" y2="147.9" stroke="#666" stroke-width="0.75"/>
<line x1="125.8" y1="146.2" x2="125.8" y2="147.9" stroke="#666" stroke-width="0.75"/>
<line x1="129.26" y1="146.2" x2="129.26" y2="147.9" stroke="#666" stroke-width="0.75"/>
<line x1="131.94" y1="146.2" x2="131.94" y2="147.9" stroke="#666" stroke-width="0.75"/>
<line x1="134.13" y1="146.2" x2="134.13" y2="147.9" stroke="#666" stroke-width="0.75"/>
<line x1="135.98" y1="146.2" x2="135.98" y2="147.9" stroke="#666" stroke-width="0.75"/>
<line x1="137.59" y1="146.2" x2="137.59" y2="147.9" stroke="#666" stroke-width="0.75"/>
<line x1="139" y1="146.2" x2="139" y2="147.9" stroke="#666" stroke-width="0.75"/>
<line x1="140.27" y1="146" x2="140.27" y2="149.4" stroke="#111" stroke-width="1.4"/>
<text x="140.77" y="155.5" font-family='"Liberation Sans", sans-serif' font-size="4.3" font-weight="normal" font-style="normal" text-anchor="start" fill="#5a5a5a" stroke="#5a5a5a" stroke-width="0.12" textLength="4.6" lengthAdjust="spacingAndGlyphs">10</text>
<text x="145.57" y="153.3" font-family='"Liberation Sans", sans-serif' font-size="3.9" font-weight="normal" font-style="normal" text-anchor="start" fill="#4a4a4a" stroke="#4a4a4a" stroke-width="0.15">1</text>
<line x1="148.6" y1="146.2" x2="148.6" y2="147.9" stroke="#666" stroke-width="0.75"/>
<line x1="153.47" y1="146.2" x2="153.47" y2="147.9" stroke="#666" stroke-width="0.75"/>
<line x1="156.93" y1="146.2" x2="156.93" y2="147.9" stroke="#666" stroke-width="0.75"/>
<line x1="159.61" y1="146.2" x2="159.61" y2="147.9" stroke="#666" stroke-width="0.75"/>
<line x1="161.8" y1="146.2" x2="161.8" y2="147.9" stroke="#666" stroke-width="0.75"/>
<line x1="163.65" y1="146.2" x2="163.65" y2="147.9" stroke="#666" stroke-width="0.75"/>
<line x1="165.26" y1="146.2" x2="165.26" y2="147.9" stroke="#666" stroke-width="0.75"/>
<line x1="166.67" y1="146.2" x2="166.67" y2="147.9" stroke="#666" stroke-width="0.75"/>
<line x1="167.94" y1="146" x2="167.94" y2="149.4" stroke="#111" stroke-width="1.4"/>
<text x="168.44" y="155.5" font-family='"Liberation Sans", sans-serif' font-size="4.3" font-weight="normal" font-style="normal" text-anchor="start" fill="#5a5a5a" stroke="#5a5a5a" stroke-width="0.12" textLength="4.6" lengthAdjust="spacingAndGlyphs">10</text>
<text x="173.24" y="153.3" font-family='"Liberation Sans", sans-serif' font-size="3.9" font-weight="normal" font-style="normal" text-anchor="start" fill="#4a4a4a" stroke="#4a4a4a" stroke-width="0.15">2</text>
<line x1="176.27" y1="146.2" x2="176.27" y2="147.9" stroke="#666" stroke-width="0.75"/>
<line x1="181.14" y1="146.2" x2="181.14" y2="147.9" stroke="#666" stroke-width="0.75"/>
<line x1="184.6" y1="146.2" x2="184.6" y2="147.9" stroke="#666" stroke-width="0.75"/>
<line x1="187.28" y1="146.2" x2="187.28" y2="147.9" stroke="#666" stroke-width="0.75"/>
<line x1="189.47" y1="146.2" x2="189.47" y2="147.9" stroke="#666" stroke-width="0.75"/>
<line x1="191.32" y1="146.2" x2="191.32" y2="147.9" stroke="#666" stroke-width="0.75"/>
<line x1="192.93" y1="146.2" x2="192.93" y2="147.9" stroke="#666" stroke-width="0.75"/>
<line x1="194.34" y1="146.2" x2="194.34" y2="147.9" stroke="#666" stroke-width="0.75"/>
<line x1="195.61" y1="146" x2="195.61" y2="149.4" stroke="#111" stroke-width="1.4"/>
<text x="196.11" y="155.5" font-family='"Liberation Sans", sans-serif' font-size="4.3" font-weight="normal" font-style="normal" text-anchor="start" fill="#5a5a5a" stroke="#5a5a5a" stroke-width="0.12" textLength="4.6" lengthAdjust="spacingAndGlyphs">10</text>
<text x="200.91" y="153.3" font-family='"Liberation Sans", sans-serif' font-size="3.9" font-weight="normal" font-style="normal" text-anchor="start" fill="#4a4a4a" stroke="#4a4a4a" stroke-width="0.15">3</text>
<line x1="203.94" y1="146.2" x2="203.94" y2="147.9" stroke="#666" stroke-width="0.75"/>
<line x1="208.81" y1="146.2" x2="208.81" y2="147.9" stroke="#666" stroke-width="0.75"/>
<line x1="212.27" y1="146.2" x2="212.27" y2="147.9" stroke="#666" stroke-width="0.75"/>
<line x1="214.95" y1="146.2" x2="214.95" y2="147.9" stroke="#666" stroke-width="0.75"/>
<line x1="217.14" y1="146.2" x2="217.14" y2="147.9" stroke="#666" stroke-width="0.75"/>
<line x1="218.99" y1="146.2" x2="218.99" y2="147.9" stroke="#666" stroke-width="0.75"/>
<line x1="220.6" y1="146.2" x2="220.6" y2="147.9" stroke="#666" stroke-width="0.75"/>
<line x1="222.01" y1="146.2" x2="222.01" y2="147.9" stroke="#666" stroke-width="0.75"/>
<line x1="223.28" y1="146" x2="223.28" y2="149.4" stroke="#111" stroke-width="1.4"/>
<text x="223.78" y="155.5" font-family='"Liberation Sans", sans-serif' font-size="4.3" font-weight="normal" font-style="normal" text-anchor="start" fill="#5a5a5a" stroke="#5a5a5a" stroke-width="0.12" textLength="4.6" lengthAdjust="spacingAndGlyphs">10</text>
<text x="228.58" y="153.3" font-family='"Liberation Sans", sans-serif' font-size="3.9" font-weight="normal" font-style="normal" text-anchor="start" fill="#4a4a4a" stroke="#4a4a4a" stroke-width="0.15">4</text>
<line x1="231.61" y1="146.2" x2="231.61" y2="147.9" stroke="#666" stroke-width="0.75"/>
<line x1="236.48" y1="146.2" x2="236.48" y2="147.9" stroke="#666" stroke-width="0.75"/>
<text x="174.6" y="168.2" font-family='"Liberation Sans", sans-serif' font-size="5.2" font-weight="normal" font-style="normal" text-anchor="middle" fill="#666" stroke="#666" stroke-width="0.18">FITC</text>
<line x1="113" y1="180.2" x2="238.3" y2="180.2" stroke="#c8c8c8" stroke-width="1"/>
<line x1="238.3" y1="180.2" x2="238.3" y2="287.2" stroke="#c8c8c8" stroke-width="1"/>
<line x1="113" y1="180.2" x2="113" y2="287.2" stroke="#b8b8b8" stroke-width="1.1"/>
<path d="M113.5 206.9 L114 206.9 L114.5 206.9 L115 206.89 L115.5 206.89 L116 206.89 L116.5 206.89 L117 206.89 L117.5 206.89 L118 206.89 L118.5 206.89 L119 206.89 L119.5 206.89 L120 206.88 L120.5 206.88 L121 206.88 L121.5 206.88 L122 206.88 L122.5 206.88 L123 206.88 L123.5 206.88 L124 206.87 L124.5 206.87 L125 206.87 L125.5 206.87 L126 206.87 L126.5 206.87 L127 206.87 L127.5 206.86 L128 206.86 L128.5 206.86 L129 206.86 L129.5 206.86 L130 206.85 L130.5 206.85 L131 206.85 L131.5 206.85 L132 206.85 L132.5 206.84 L133 206.84 L133.5 206.84 L134 206.84 L134.5 206.83 L135 206.83 L135.5 206.83 L136 206.83 L136.5 206.82 L137 206.82 L137.5 206.82 L138 206.81 L138.5 206.81 L139 206.81 L139.5 206.8 L140 206.8 L140.5 206.79 L141 206.78 L141.5 206.77 L142 206.75 L142.5 206.74 L143 206.72 L143.5 206.71 L144 206.69 L144.5 206.68 L145 206.66 L145.5 206.65 L146 206.63 L146.5 206.61 L147 206.6 L147.5 206.58 L148 206.56 L148.5 206.55 L149 206.53 L149.5 206.52 L150 206.5 L150.5 206.47 L151 206.43 L151.5 206.4 L152 206.37 L152.5 206.34 L153 206.31 L153.5 206.27 L154 206.23 L154.5 206.18 L155 206.12 L155.5 206.06 L156 206 L156.5 205.93 L157 205.85 L157.5 205.78 L158 205.7 L158.5 205.61 L159 205.5 L159.5 205.39 L160 205.28 L160.5 205.17 L161 205.08 L161.5 205 L162 204.94 L162.5 204.88 L163 204.84 L163.5 204.81 L164 204.79 L164.5 204.79 L165 204.8 L165.5 204.84 L166 204.9 L166.5 204.97 L167 205.05 L167.5 205.13 L168 205.22 L168.5 205.3 L169 205.35 L169.5 205.41 L170 205.47 L170.5 205.54 L171 205.61 L171.5 205.67 L172 205.73 L172.5 205.78 L173 205.83 L173.5 205.87 L174 205.9 L174.5 205.91 L175 205.9 L175.5 205.87 L176 205.83 L176.5 205.78 L177 205.74 L177.5 205.7 L178 205.67 L178.5 205.67 L179 205.64 L179.5 205.56 L180 205.42 L180.5 205.29 L181 205.13 L181.5 204.92 L182 204.65 L182.5 204.3 L183 203.77 L183.5 203.14 L184 202.43 L184.5 201.66 L185 200.82 L185.5 199.87 L186 198.84 L186.5 197.78 L187 196.71 L187.5 195.8 L188 194.95 L188.5 194.09 L189 193.24 L189.5 192.45 L190 191.73 L190.5 190.83 L191 189.9 L191.5 189.17 L192 188.81 L192.5 188.94 L193 189.45 L193.5 190.21 L194 191.08 L194.5 191.88 L195 192.64 L195.5 193.48 L196 194.36 L196.5 195.26 L197 196.13 L197.5 197.1 L198 198.12 L198.5 199.14 L199 200.11 L199.5 201 L200 201.85 L200.5 202.63 L201 203.35 L201.5 203.97 L202 204.53 L202.5 204.98 L203 205.3 L203.5 205.58 L204 205.84 L204.5 206.06 L205 206.26 L205.5 206.43 L206 206.57 L206.5 206.64 L207 206.68 L207.5 206.72 L208 206.75 L208.5 206.78 L209 206.8 L209.5 206.83 L210 206.84 L210.5 206.86 L211 206.87 L211.5 206.89 L212 206.9 L212.5 206.9 L213 206.9 L213.5 206.9 L214 206.9 L214.5 206.9 L215 206.9 L215.5 206.9 L216 206.9 L216.5 206.9 L217 206.9 L217.5 206.9 L218 206.9 L218.5 206.9 L219 206.9 L219.5 206.9 L220 206.9 L220.5 206.9 L221 206.9 L221.5 206.9 L222 206.9 L222.5 206.9 L223 206.9 L223.5 206.9 L224 206.9 L224.5 206.9 L225 206.9 L225.5 206.9 L226 206.9 L226.5 206.9 L227 206.9 L227.5 206.9 L228 206.9 L228.5 206.9 L229 206.9 L229.5 206.9 L230 206.9 L230.5 206.9 L231 206.9 L231.5 206.9 L232 206.9 L232.5 206.9 L233 206.9 L233.5 206.9 L234 206.9 L234.5 206.9 L235 206.9 L235.5 206.9 L236 206.9 L236.5 206.9 L237 206.9 L237.5 206.9 L237.8 206.9 L113.5 206.9 Z" fill="#fcd9b5" stroke="none"/>
<path d="M113.5 206.9 L114 206.9 L114.5 206.9 L115 206.89 L115.5 206.89 L116 206.89 L116.5 206.89 L117 206.89 L117.5 206.89 L118 206.89 L118.5 206.89 L119 206.89 L119.5 206.89 L120 206.88 L120.5 206.88 L121 206.88 L121.5 206.88 L122 206.88 L122.5 206.88 L123 206.88 L123.5 206.88 L124 206.87 L124.5 206.87 L125 206.87 L125.5 206.87 L126 206.87 L126.5 206.87 L127 206.87 L127.5 206.86 L128 206.86 L128.5 206.86 L129 206.86 L129.5 206.86 L130 206.85 L130.5 206.85 L131 206.85 L131.5 206.85 L132 206.85 L132.5 206.84 L133 206.84 L133.5 206.84 L134 206.84 L134.5 206.83 L135 206.83 L135.5 206.83 L136 206.83 L136.5 206.82 L137 206.82 L137.5 206.82 L138 206.81 L138.5 206.81 L139 206.81 L139.5 206.8 L140 206.8 L140.5 206.79 L141 206.78 L141.5 206.77 L142 206.75 L142.5 206.74 L143 206.72 L143.5 206.71 L144 206.69 L144.5 206.68 L145 206.66 L145.5 206.65 L146 206.63 L146.5 206.61 L147 206.6 L147.5 206.58 L148 206.56 L148.5 206.55 L149 206.53 L149.5 206.52 L150 206.5 L150.5 206.47 L151 206.43 L151.5 206.4 L152 206.37 L152.5 206.34 L153 206.31 L153.5 206.27 L154 206.23 L154.5 206.18 L155 206.12 L155.5 206.06 L156 206 L156.5 205.93 L157 205.85 L157.5 205.78 L158 205.7 L158.5 205.61 L159 205.5 L159.5 205.39 L160 205.28 L160.5 205.17 L161 205.08 L161.5 205 L162 204.94 L162.5 204.88 L163 204.84 L163.5 204.81 L164 204.79 L164.5 204.79 L165 204.8 L165.5 204.84 L166 204.9 L166.5 204.97 L167 205.05 L167.5 205.13 L168 205.22 L168.5 205.3 L169 205.35 L169.5 205.41 L170 205.47 L170.5 205.54 L171 205.61 L171.5 205.67 L172 205.73 L172.5 205.78 L173 205.83 L173.5 205.87 L174 205.9 L174.5 205.91 L175 205.9 L175.5 205.87 L176 205.83 L176.5 205.78 L177 205.74 L177.5 205.7 L178 205.67 L178.5 205.67 L179 205.64 L179.5 205.56 L180 205.42 L180.5 205.29 L181 205.13 L181.5 204.92 L182 204.65 L182.5 204.3 L183 203.77 L183.5 203.14 L184 202.43 L184.5 201.66 L185 200.82 L185.5 199.87 L186 198.84 L186.5 197.78 L187 196.71 L187.5 195.8 L188 194.95 L188.5 194.09 L189 193.24 L189.5 192.45 L190 191.73 L190.5 190.83 L191 189.9 L191.5 189.17 L192 188.81 L192.5 188.94 L193 189.45 L193.5 190.21 L194 191.08 L194.5 191.88 L195 192.64 L195.5 193.48 L196 194.36 L196.5 195.26 L197 196.13 L197.5 197.1 L198 198.12 L198.5 199.14 L199 200.11 L199.5 201 L200 201.85 L200.5 202.63 L201 203.35 L201.5 203.97 L202 204.53 L202.5 204.98 L203 205.3 L203.5 205.58 L204 205.84 L204.5 206.06 L205 206.26 L205.5 206.43 L206 206.57 L206.5 206.64 L207 206.68 L207.5 206.72 L208 206.75 L208.5 206.78 L209 206.8 L209.5 206.83 L210 206.84 L210.5 206.86 L211 206.87 L211.5 206.89 L212 206.9 L212.5 206.9 L213 206.9 L213.5 206.9 L214 206.9 L214.5 206.9 L215 206.9 L215.5 206.9 L216 206.9 L216.5 206.9 L217 206.9 L217.5 206.9 L218 206.9 L218.5 206.9 L219 206.9 L219.5 206.9 L220 206.9 L220.5 206.9 L221 206.9 L221.5 206.9 L222 206.9 L222.5 206.9 L223 206.9 L223.5 206.9 L224 206.9 L224.5 206.9 L225 206.9 L225.5 206.9 L226 206.9 L226.5 206.9 L227 206.9 L227.5 206.9 L228 206.9 L228.5 206.9 L229 206.9 L229.5 206.9 L230 206.9 L230.5 206.9 L231 206.9 L231.5 206.9 L232 206.9 L232.5 206.9 L233 206.9 L233.5 206.9 L234 206.9 L234.5 206.9 L235 206.9 L235.5 206.9 L236 206.9 L236.5 206.9 L237 206.9 L237.5 206.9" fill="none" stroke="#f29a3c" stroke-width="1" stroke-opacity="0.85"/>
<path d="M183 203.77 L183.5 203.14 L184 202.43 L184.5 201.66 L185 200.82 L185.5 199.87 L186 198.84 L186.5 197.78 L187 196.71 L187.5 195.8 L188 194.95 L188.5 194.09 L189 193.24 L189.5 192.45 L190 191.73 L190.5 190.83 L191 189.9 L191.5 189.17 L192 188.81 L192.5 188.94 L193 189.45 L193.5 190.21 L194 191.08 L194.5 191.88 L195 192.64 L195.5 193.48 L196 194.36 L196.5 195.26 L197 196.13 L197.5 197.1 L198 198.12 L198.5 199.14 L199 200.11 L199.5 201 L200 201.85 L200.5 202.63 L201 203.35 L201.5 203.97" fill="none" stroke="#f29a3c" stroke-width="1.05" stroke-linejoin="round" stroke-linecap="round"/>
<path d="M113.5 233.7 L114 233.7 L114.5 233.7 L115 233.7 L115.5 233.7 L116 233.7 L116.5 233.7 L117 233.7 L117.5 233.7 L118 233.7 L118.5 233.7 L119 233.7 L119.5 233.7 L120 233.7 L120.5 233.7 L121 233.7 L121.5 233.7 L122 233.7 L122.5 233.7 L123 233.7 L123.5 233.7 L124 233.7 L124.5 233.7 L125 233.7 L125.5 233.7 L126 233.7 L126.5 233.7 L127 233.7 L127.5 233.7 L128 233.7 L128.5 233.7 L129 233.7 L129.5 233.7 L130 233.7 L130.5 233.7 L131 233.7 L131.5 233.7 L132 233.7 L132.5 233.7 L133 233.7 L133.5 233.7 L134 233.7 L134.5 233.7 L135 233.7 L135.5 233.7 L136 233.7 L136.5 233.7 L137 233.7 L137.5 233.7 L138 233.7 L138.5 233.7 L139 233.7 L139.5 233.7 L140 233.7 L140.5 233.68 L141 233.66 L141.5 233.63 L142 233.6 L142.5 233.55 L143 233.5 L143.5 233.46 L144 233.42 L144.5 233.37 L145 233.32 L145.5 233.27 L146 233.21 L146.5 233.14 L147 233.07 L147.5 233 L148 232.91 L148.5 232.81 L149 232.7 L149.5 232.58 L150 232.46 L150.5 232.34 L151 232.22 L151.5 232.1 L152 231.96 L152.5 231.81 L153 231.66 L153.5 231.51 L154 231.36 L154.5 231.22 L155 231.1 L155.5 230.99 L156 230.89 L156.5 230.8 L157 230.71 L157.5 230.63 L158 230.57 L158.5 230.51 L159 230.46 L159.5 230.43 L160 230.41 L160.5 230.4 L161 230.39 L161.5 230.39 L162 230.4 L162.5 230.41 L163 230.41 L163.5 230.43 L164 230.45 L164.5 230.48 L165 230.52 L165.5 230.59 L166 230.67 L166.5 230.79 L167 230.93 L167.5 231.07 L168 231.22 L168.5 231.37 L169 231.5 L169.5 231.62 L170 231.74 L170.5 231.86 L171 231.98 L171.5 232.09 L172 232.19 L172.5 232.27 L173 232.34 L173.5 232.39 L174 232.43 L174.5 232.45 L175 232.47 L175.5 232.48 L176 232.5 L176.5 232.52 L177 232.55 L177.5 232.58 L178 232.6 L178.5 232.62 L179 232.62 L179.5 232.61 L180 232.58 L180.5 232.52 L181 232.46 L181.5 232.37 L182 232.29 L182.5 232.19 L183 232.1 L183.5 232.01 L184 231.91 L184.5 231.81 L185 231.7 L185.5 231.59 L186 231.47 L186.5 231.34 L187 231.19 L187.5 231.04 L188 230.88 L188.5 230.7 L189 230.5 L189.5 230.29 L190 230.05 L190.5 229.8 L191 229.54 L191.5 229.29 L192 229.06 L192.5 228.84 L193 228.64 L193.5 228.43 L194 228.22 L194.5 228.01 L195 227.8 L195.5 227.51 L196 227.2 L196.5 226.89 L197 226.62 L197.5 226.4 L198 226.17 L198.5 226.04 L199 226 L199.5 226.01 L200 226.1 L200.5 226.3 L201 226.58 L201.5 226.94 L202 227.35 L202.5 227.78 L203 228.25 L203.5 228.76 L204 229.3 L204.5 229.79 L205 230.31 L205.5 230.83 L206 231.31 L206.5 231.59 L207 231.83 L207.5 232.05 L208 232.26 L208.5 232.46 L209 232.65 L209.5 232.81 L210 232.95 L210.5 233.06 L211 233.15 L211.5 233.23 L212 233.29 L212.5 233.35 L213 233.4 L213.5 233.45 L214 233.5 L214.5 233.53 L215 233.56 L215.5 233.58 L216 233.6 L216.5 233.62 L217 233.64 L217.5 233.65 L218 233.66 L218.5 233.67 L219 233.68 L219.5 233.69 L220 233.7 L220.5 233.7 L221 233.7 L221.5 233.7 L222 233.7 L222.5 233.7 L223 233.7 L223.5 233.7 L224 233.7 L224.5 233.7 L225 233.7 L225.5 233.7 L226 233.7 L226.5 233.7 L227 233.7 L227.5 233.7 L228 233.7 L228.5 233.7 L229 233.7 L229.5 233.7 L230 233.7 L230.5 233.7 L231 233.7 L231.5 233.7 L232 233.7 L232.5 233.7 L233 233.7 L233.5 233.7 L234 233.7 L234.5 233.7 L235 233.7 L235.5 233.7 L236 233.7 L236.5 233.7 L237 233.7 L237.5 233.7 L237.8 233.7 L113.5 233.7 Z" fill="#f8bab0" stroke="none"/>
<path d="M113.5 233.7 L114 233.7 L114.5 233.7 L115 233.7 L115.5 233.7 L116 233.7 L116.5 233.7 L117 233.7 L117.5 233.7 L118 233.7 L118.5 233.7 L119 233.7 L119.5 233.7 L120 233.7 L120.5 233.7 L121 233.7 L121.5 233.7 L122 233.7 L122.5 233.7 L123 233.7 L123.5 233.7 L124 233.7 L124.5 233.7 L125 233.7 L125.5 233.7 L126 233.7 L126.5 233.7 L127 233.7 L127.5 233.7 L128 233.7 L128.5 233.7 L129 233.7 L129.5 233.7 L130 233.7 L130.5 233.7 L131 233.7 L131.5 233.7 L132 233.7 L132.5 233.7 L133 233.7 L133.5 233.7 L134 233.7 L134.5 233.7 L135 233.7 L135.5 233.7 L136 233.7 L136.5 233.7 L137 233.7 L137.5 233.7 L138 233.7 L138.5 233.7 L139 233.7 L139.5 233.7 L140 233.7 L140.5 233.68 L141 233.66 L141.5 233.63 L142 233.6 L142.5 233.55 L143 233.5 L143.5 233.46 L144 233.42 L144.5 233.37 L145 233.32 L145.5 233.27 L146 233.21 L146.5 233.14 L147 233.07 L147.5 233 L148 232.91 L148.5 232.81 L149 232.7 L149.5 232.58 L150 232.46 L150.5 232.34 L151 232.22 L151.5 232.1 L152 231.96 L152.5 231.81 L153 231.66 L153.5 231.51 L154 231.36 L154.5 231.22 L155 231.1 L155.5 230.99 L156 230.89 L156.5 230.8 L157 230.71 L157.5 230.63 L158 230.57 L158.5 230.51 L159 230.46 L159.5 230.43 L160 230.41 L160.5 230.4 L161 230.39 L161.5 230.39 L162 230.4 L162.5 230.41 L163 230.41 L163.5 230.43 L164 230.45 L164.5 230.48 L165 230.52 L165.5 230.59 L166 230.67 L166.5 230.79 L167 230.93 L167.5 231.07 L168 231.22 L168.5 231.37 L169 231.5 L169.5 231.62 L170 231.74 L170.5 231.86 L171 231.98 L171.5 232.09 L172 232.19 L172.5 232.27 L173 232.34 L173.5 232.39 L174 232.43 L174.5 232.45 L175 232.47 L175.5 232.48 L176 232.5 L176.5 232.52 L177 232.55 L177.5 232.58 L178 232.6 L178.5 232.62 L179 232.62 L179.5 232.61 L180 232.58 L180.5 232.52 L181 232.46 L181.5 232.37 L182 232.29 L182.5 232.19 L183 232.1 L183.5 232.01 L184 231.91 L184.5 231.81 L185 231.7 L185.5 231.59 L186 231.47 L186.5 231.34 L187 231.19 L187.5 231.04 L188 230.88 L188.5 230.7 L189 230.5 L189.5 230.29 L190 230.05 L190.5 229.8 L191 229.54 L191.5 229.29 L192 229.06 L192.5 228.84 L193 228.64 L193.5 228.43 L194 228.22 L194.5 228.01 L195 227.8 L195.5 227.51 L196 227.2 L196.5 226.89 L197 226.62 L197.5 226.4 L198 226.17 L198.5 226.04 L199 226 L199.5 226.01 L200 226.1 L200.5 226.3 L201 226.58 L201.5 226.94 L202 227.35 L202.5 227.78 L203 228.25 L203.5 228.76 L204 229.3 L204.5 229.79 L205 230.31 L205.5 230.83 L206 231.31 L206.5 231.59 L207 231.83 L207.5 232.05 L208 232.26 L208.5 232.46 L209 232.65 L209.5 232.81 L210 232.95 L210.5 233.06 L211 233.15 L211.5 233.23 L212 233.29 L212.5 233.35 L213 233.4 L213.5 233.45 L214 233.5 L214.5 233.53 L215 233.56 L215.5 233.58 L216 233.6 L216.5 233.62 L217 233.64 L217.5 233.65 L218 233.66 L218.5 233.67 L219 233.68 L219.5 233.69 L220 233.7 L220.5 233.7 L221 233.7 L221.5 233.7 L222 233.7 L222.5 233.7 L223 233.7 L223.5 233.7 L224 233.7 L224.5 233.7 L225 233.7 L225.5 233.7 L226 233.7 L226.5 233.7 L227 233.7 L227.5 233.7 L228 233.7 L228.5 233.7 L229 233.7 L229.5 233.7 L230 233.7 L230.5 233.7 L231 233.7 L231.5 233.7 L232 233.7 L232.5 233.7 L233 233.7 L233.5 233.7 L234 233.7 L234.5 233.7 L235 233.7 L235.5 233.7 L236 233.7 L236.5 233.7 L237 233.7 L237.5 233.7" fill="none" stroke="#e0363f" stroke-width="1" stroke-opacity="0.85"/>
<path d="M190 230.05 L190.5 229.8 L191 229.54 L191.5 229.29 L192 229.06 L192.5 228.84 L193 228.64 L193.5 228.43 L194 228.22 L194.5 228.01 L195 227.8 L195.5 227.51 L196 227.2 L196.5 226.89 L197 226.62 L197.5 226.4 L198 226.17 L198.5 226.04 L199 226 L199.5 226.01 L200 226.1 L200.5 226.3 L201 226.58 L201.5 226.94 L202 227.35 L202.5 227.78 L203 228.25 L203.5 228.76 L204 229.3 L204.5 229.79 L205 230.31" fill="none" stroke="#e0363f" stroke-width="1.05" stroke-linejoin="round" stroke-linecap="round"/>
<path d="M113.5 260.5 L114 260.5 L114.5 260.5 L115 260.5 L115.5 260.5 L116 260.5 L116.5 260.49 L117 260.49 L117.5 260.49 L118 260.49 L118.5 260.49 L119 260.49 L119.5 260.49 L120 260.49 L120.5 260.49 L121 260.49 L121.5 260.49 L122 260.49 L122.5 260.49 L123 260.49 L123.5 260.49 L124 260.49 L124.5 260.49 L125 260.48 L125.5 260.48 L126 260.48 L126.5 260.48 L127 260.48 L127.5 260.48 L128 260.48 L128.5 260.48 L129 260.48 L129.5 260.48 L130 260.48 L130.5 260.48 L131 260.48 L131.5 260.47 L132 260.47 L132.5 260.47 L133 260.47 L133.5 260.47 L134 260.47 L134.5 260.47 L135 260.47 L135.5 260.46 L136 260.46 L136.5 260.46 L137 260.46 L137.5 260.46 L138 260.46 L138.5 260.46 L139 260.45 L139.5 260.45 L140 260.45 L140.5 260.45 L141 260.45 L141.5 260.44 L142 260.44 L142.5 260.44 L143 260.44 L143.5 260.44 L144 260.43 L144.5 260.43 L145 260.43 L145.5 260.43 L146 260.42 L146.5 260.42 L147 260.42 L147.5 260.42 L148 260.41 L148.5 260.41 L149 260.41 L149.5 260.4 L150 260.4 L150.5 260.39 L151 260.37 L151.5 260.35 L152 260.34 L152.5 260.32 L153 260.3 L153.5 260.27 L154 260.25 L154.5 260.23 L155 260.21 L155.5 260.18 L156 260.16 L156.5 260.14 L157 260.11 L157.5 260.09 L158 260.07 L158.5 260.05 L159 260.03 L159.5 260.02 L160 260 L160.5 259.98 L161 259.95 L161.5 259.93 L162 259.9 L162.5 259.88 L163 259.86 L163.5 259.84 L164 259.83 L164.5 259.82 L165 259.81 L165.5 259.8 L166 259.8 L166.5 259.8 L167 259.81 L167.5 259.83 L168 259.84 L168.5 259.87 L169 259.89 L169.5 259.91 L170 259.93 L170.5 259.95 L171 259.97 L171.5 259.99 L172 260 L172.5 260.02 L173 260.03 L173.5 260.04 L174 260.04 L174.5 260.03 L175 260 L175.5 259.96 L176 259.9 L176.5 259.83 L177 259.74 L177.5 259.6 L178 259.44 L178.5 259.3 L179 259.15 L179.5 258.98 L180 258.79 L180.5 258.56 L181 258.29 L181.5 257.97 L182 257.55 L182.5 257.05 L183 256.49 L183.5 255.89 L184 255.26 L184.5 254.62 L185 253.91 L185.5 252.94 L186 251.91 L186.5 250.86 L187 249.81 L187.5 248.91 L188 248.08 L188.5 247.25 L189 246.42 L189.5 245.62 L190 244.85 L190.5 243.88 L191 242.75 L191.5 241.72 L192 241.01 L192.5 240.81 L193 241.21 L193.5 242.02 L194 243.05 L194.5 244.12 L195 245.08 L195.5 246.07 L196 247.1 L196.5 248.15 L197 249.19 L197.5 250.41 L198 251.68 L198.5 252.93 L199 254.1 L199.5 254.99 L200 255.86 L200.5 256.68 L201 257.4 L201.5 258.04 L202 258.63 L202.5 259.04 L203 259.37 L203.5 259.68 L204 259.92 L204.5 260.12 L205 260.27 L205.5 260.34 L206 260.38 L206.5 260.41 L207 260.43 L207.5 260.45 L208 260.46 L208.5 260.47 L209 260.48 L209.5 260.49 L210 260.5 L210.5 260.5 L211 260.5 L211.5 260.5 L212 260.5 L212.5 260.5 L213 260.5 L213.5 260.5 L214 260.5 L214.5 260.5 L215 260.5 L215.5 260.5 L216 260.5 L216.5 260.5 L217 260.5 L217.5 260.5 L218 260.5 L218.5 260.5 L219 260.5 L219.5 260.5 L220 260.5 L220.5 260.5 L221 260.5 L221.5 260.5 L222 260.5 L222.5 260.5 L223 260.5 L223.5 260.5 L224 260.5 L224.5 260.5 L225 260.5 L225.5 260.5 L226 260.5 L226.5 260.5 L227 260.5 L227.5 260.5 L228 260.5 L228.5 260.5 L229 260.5 L229.5 260.5 L230 260.5 L230.5 260.5 L231 260.5 L231.5 260.5 L232 260.5 L232.5 260.5 L233 260.5 L233.5 260.5 L234 260.5 L234.5 260.5 L235 260.5 L235.5 260.5 L236 260.5 L236.5 260.5 L237 260.5 L237.5 260.5 L237.8 260.5 L113.5 260.5 Z" fill="#c5e5f6" stroke="none"/>
<path d="M113.5 260.5 L114 260.5 L114.5 260.5 L115 260.5 L115.5 260.5 L116 260.5 L116.5 260.49 L117 260.49 L117.5 260.49 L118 260.49 L118.5 260.49 L119 260.49 L119.5 260.49 L120 260.49 L120.5 260.49 L121 260.49 L121.5 260.49 L122 260.49 L122.5 260.49 L123 260.49 L123.5 260.49 L124 260.49 L124.5 260.49 L125 260.48 L125.5 260.48 L126 260.48 L126.5 260.48 L127 260.48 L127.5 260.48 L128 260.48 L128.5 260.48 L129 260.48 L129.5 260.48 L130 260.48 L130.5 260.48 L131 260.48 L131.5 260.47 L132 260.47 L132.5 260.47 L133 260.47 L133.5 260.47 L134 260.47 L134.5 260.47 L135 260.47 L135.5 260.46 L136 260.46 L136.5 260.46 L137 260.46 L137.5 260.46 L138 260.46 L138.5 260.46 L139 260.45 L139.5 260.45 L140 260.45 L140.5 260.45 L141 260.45 L141.5 260.44 L142 260.44 L142.5 260.44 L143 260.44 L143.5 260.44 L144 260.43 L144.5 260.43 L145 260.43 L145.5 260.43 L146 260.42 L146.5 260.42 L147 260.42 L147.5 260.42 L148 260.41 L148.5 260.41 L149 260.41 L149.5 260.4 L150 260.4 L150.5 260.39 L151 260.37 L151.5 260.35 L152 260.34 L152.5 260.32 L153 260.3 L153.5 260.27 L154 260.25 L154.5 260.23 L155 260.21 L155.5 260.18 L156 260.16 L156.5 260.14 L157 260.11 L157.5 260.09 L158 260.07 L158.5 260.05 L159 260.03 L159.5 260.02 L160 260 L160.5 259.98 L161 259.95 L161.5 259.93 L162 259.9 L162.5 259.88 L163 259.86 L163.5 259.84 L164 259.83 L164.5 259.82 L165 259.81 L165.5 259.8 L166 259.8 L166.5 259.8 L167 259.81 L167.5 259.83 L168 259.84 L168.5 259.87 L169 259.89 L169.5 259.91 L170 259.93 L170.5 259.95 L171 259.97 L171.5 259.99 L172 260 L172.5 260.02 L173 260.03 L173.5 260.04 L174 260.04 L174.5 260.03 L175 260 L175.5 259.96 L176 259.9 L176.5 259.83 L177 259.74 L177.5 259.6 L178 259.44 L178.5 259.3 L179 259.15 L179.5 258.98 L180 258.79 L180.5 258.56 L181 258.29 L181.5 257.97 L182 257.55 L182.5 257.05 L183 256.49 L183.5 255.89 L184 255.26 L184.5 254.62 L185 253.91 L185.5 252.94 L186 251.91 L186.5 250.86 L187 249.81 L187.5 248.91 L188 248.08 L188.5 247.25 L189 246.42 L189.5 245.62 L190 244.85 L190.5 243.88 L191 242.75 L191.5 241.72 L192 241.01 L192.5 240.81 L193 241.21 L193.5 242.02 L194 243.05 L194.5 244.12 L195 245.08 L195.5 246.07 L196 247.1 L196.5 248.15 L197 249.19 L197.5 250.41 L198 251.68 L198.5 252.93 L199 254.1 L199.5 254.99 L200 255.86 L200.5 256.68 L201 257.4 L201.5 258.04 L202 258.63 L202.5 259.04 L203 259.37 L203.5 259.68 L204 259.92 L204.5 260.12 L205 260.27 L205.5 260.34 L206 260.38 L206.5 260.41 L207 260.43 L207.5 260.45 L208 260.46 L208.5 260.47 L209 260.48 L209.5 260.49 L210 260.5 L210.5 260.5 L211 260.5 L211.5 260.5 L212 260.5 L212.5 260.5 L213 260.5 L213.5 260.5 L214 260.5 L214.5 260.5 L215 260.5 L215.5 260.5 L216 260.5 L216.5 260.5 L217 260.5 L217.5 260.5 L218 260.5 L218.5 260.5 L219 260.5 L219.5 260.5 L220 260.5 L220.5 260.5 L221 260.5 L221.5 260.5 L222 260.5 L222.5 260.5 L223 260.5 L223.5 260.5 L224 260.5 L224.5 260.5 L225 260.5 L225.5 260.5 L226 260.5 L226.5 260.5 L227 260.5 L227.5 260.5 L228 260.5 L228.5 260.5 L229 260.5 L229.5 260.5 L230 260.5 L230.5 260.5 L231 260.5 L231.5 260.5 L232 260.5 L232.5 260.5 L233 260.5 L233.5 260.5 L234 260.5 L234.5 260.5 L235 260.5 L235.5 260.5 L236 260.5 L236.5 260.5 L237 260.5 L237.5 260.5" fill="none" stroke="#36b2e2" stroke-width="1" stroke-opacity="0.85"/>
<path d="M182 257.55 L182.5 257.05 L183 256.49 L183.5 255.89 L184 255.26 L184.5 254.62 L185 253.91 L185.5 252.94 L186 251.91 L186.5 250.86 L187 249.81 L187.5 248.91 L188 248.08 L188.5 247.25 L189 246.42 L189.5 245.62 L190 244.85 L190.5 243.88 L191 242.75 L191.5 241.72 L192 241.01 L192.5 240.81 L193 241.21 L193.5 242.02 L194 243.05 L194.5 244.12 L195 245.08 L195.5 246.07 L196 247.1 L196.5 248.15 L197 249.19 L197.5 250.41 L198 251.68 L198.5 252.93 L199 254.1 L199.5 254.99 L200 255.86 L200.5 256.68 L201 257.4" fill="none" stroke="#36b2e2" stroke-width="1.05" stroke-linejoin="round" stroke-linecap="round"/>
<path d="M113.5 287.2 L114 287.2 L114.5 287.2 L115 287.2 L115.5 287.2 L116 287.2 L116.5 287.2 L117 287.2 L117.5 287.2 L118 287.2 L118.5 287.2 L119 287.2 L119.5 287.2 L120 287.2 L120.5 287.2 L121 287.2 L121.5 287.2 L122 287.2 L122.5 287.2 L123 287.2 L123.5 287.2 L124 287.2 L124.5 287.2 L125 287.2 L125.5 287.2 L126 287.2 L126.5 287.2 L127 287.2 L127.5 287.2 L128 287.2 L128.5 287.2 L129 287.2 L129.5 287.2 L130 287.2 L130.5 287.2 L131 287.2 L131.5 287.2 L132 287.2 L132.5 287.2 L133 287.2 L133.5 287.2 L134 287.2 L134.5 287.2 L135 287.2 L135.5 287.2 L136 287.2 L136.5 287.2 L137 287.2 L137.5 287.2 L138 287.2 L138.5 287.2 L139 287.2 L139.5 287.2 L140 287.2 L140.5 287.2 L141 287.2 L141.5 287.2 L142 287.2 L142.5 287.2 L143 287.2 L143.5 287.2 L144 287.2 L144.5 287.2 L145 287.2 L145.5 287.2 L146 287.2 L146.5 287.2 L147 287.2 L147.5 287.2 L148 287.2 L148.5 287.2 L149 287.2 L149.5 287.2 L150 287.2 L150.5 287.2 L151 287.2 L151.5 287.2 L152 287.2 L152.5 287.2 L153 287.2 L153.5 287.2 L154 287.2 L154.5 287.2 L155 287.2 L155.5 287.2 L156 287.2 L156.5 287.2 L157 287.2 L157.5 287.2 L158 287.2 L158.5 287.2 L159 287.2 L159.5 287.2 L160 287.2 L160.5 287.2 L161 287.2 L161.5 287.2 L162 287.2 L162.5 287.2 L163 287.2 L163.5 287.2 L164 287.2 L164.5 287.2 L165 287.2 L165.5 287.2 L166 287.2 L166.5 287.2 L167 287.2 L167.5 287.2 L168 287.2 L168.5 287.2 L169 287.2 L169.5 287.2 L170 287.2 L170.5 287.2 L171 287.2 L171.5 287.2 L172 287.2 L172.5 287.2 L173 287.2 L173.5 287.2 L174 287.2 L174.5 287.2 L175 287.2 L175.5 287.2 L176 287.2 L176.5 287.2 L177 287.2 L177.5 287.2 L178 287.2 L178.5 287.2 L179 287.2 L179.5 287.2 L180 287.2 L180.5 287.19 L181 287.18 L181.5 287.16 L182 287.15 L182.5 287.12 L183 287.08 L183.5 287.04 L184 286.97 L184.5 286.91 L185 286.84 L185.5 286.76 L186 286.64 L186.5 286.48 L187 286.25 L187.5 285.96 L188 285.64 L188.5 285.26 L189 284.84 L189.5 284.35 L190 283.8 L190.5 283.16 L191 282.4 L191.5 281.54 L192 280.62 L192.5 279.66 L193 278.7 L193.5 277.78 L194 276.42 L194.5 274.95 L195 273.48 L195.5 272 L196 270.78 L196.5 269.51 L197 268.26 L197.5 267.11 L198 266.14 L198.5 265.33 L199 264.56 L199.5 263.89 L200 263.39 L200.5 263.13 L201 263.18 L201.5 263.6 L202 264.3 L202.5 265.17 L203 266.11 L203.5 267.55 L204 269.38 L204.5 271.28 L205 272.99 L205.5 274.64 L206 276.28 L206.5 277.92 L207 279.6 L207.5 281.28 L208 282.79 L208.5 283.94 L209 284.83 L209.5 285.53 L210 286.1 L210.5 286.52 L211 286.75 L211.5 286.89 L212 287 L212.5 287.06 L213 287.1 L213.5 287.13 L214 287.15 L214.5 287.17 L215 287.18 L215.5 287.19 L216 287.2 L216.5 287.2 L217 287.2 L217.5 287.2 L218 287.2 L218.5 287.2 L219 287.2 L219.5 287.2 L220 287.2 L220.5 287.2 L221 287.2 L221.5 287.2 L222 287.2 L222.5 287.2 L223 287.2 L223.5 287.2 L224 287.2 L224.5 287.2 L225 287.2 L225.5 287.2 L226 287.2 L226.5 287.2 L227 287.2 L227.5 287.2 L228 287.2 L228.5 287.2 L229 287.2 L229.5 287.2 L230 287.2 L230.5 287.2 L231 287.2 L231.5 287.2 L232 287.2 L232.5 287.2 L233 287.2 L233.5 287.2 L234 287.2 L234.5 287.2 L235 287.2 L235.5 287.2 L236 287.2 L236.5 287.2 L237 287.2 L237.5 287.2 L237.8 287.2 L113.5 287.2 Z" fill="#d9ebc4" stroke="none"/>
<path d="M113.5 287.2 L114 287.2 L114.5 287.2 L115 287.2 L115.5 287.2 L116 287.2 L116.5 287.2 L117 287.2 L117.5 287.2 L118 287.2 L118.5 287.2 L119 287.2 L119.5 287.2 L120 287.2 L120.5 287.2 L121 287.2 L121.5 287.2 L122 287.2 L122.5 287.2 L123 287.2 L123.5 287.2 L124 287.2 L124.5 287.2 L125 287.2 L125.5 287.2 L126 287.2 L126.5 287.2 L127 287.2 L127.5 287.2 L128 287.2 L128.5 287.2 L129 287.2 L129.5 287.2 L130 287.2 L130.5 287.2 L131 287.2 L131.5 287.2 L132 287.2 L132.5 287.2 L133 287.2 L133.5 287.2 L134 287.2 L134.5 287.2 L135 287.2 L135.5 287.2 L136 287.2 L136.5 287.2 L137 287.2 L137.5 287.2 L138 287.2 L138.5 287.2 L139 287.2 L139.5 287.2 L140 287.2 L140.5 287.2 L141 287.2 L141.5 287.2 L142 287.2 L142.5 287.2 L143 287.2 L143.5 287.2 L144 287.2 L144.5 287.2 L145 287.2 L145.5 287.2 L146 287.2 L146.5 287.2 L147 287.2 L147.5 287.2 L148 287.2 L148.5 287.2 L149 287.2 L149.5 287.2 L150 287.2 L150.5 287.2 L151 287.2 L151.5 287.2 L152 287.2 L152.5 287.2 L153 287.2 L153.5 287.2 L154 287.2 L154.5 287.2 L155 287.2 L155.5 287.2 L156 287.2 L156.5 287.2 L157 287.2 L157.5 287.2 L158 287.2 L158.5 287.2 L159 287.2 L159.5 287.2 L160 287.2 L160.5 287.2 L161 287.2 L161.5 287.2 L162 287.2 L162.5 287.2 L163 287.2 L163.5 287.2 L164 287.2 L164.5 287.2 L165 287.2 L165.5 287.2 L166 287.2 L166.5 287.2 L167 287.2 L167.5 287.2 L168 287.2 L168.5 287.2 L169 287.2 L169.5 287.2 L170 287.2 L170.5 287.2 L171 287.2 L171.5 287.2 L172 287.2 L172.5 287.2 L173 287.2 L173.5 287.2 L174 287.2 L174.5 287.2 L175 287.2 L175.5 287.2 L176 287.2 L176.5 287.2 L177 287.2 L177.5 287.2 L178 287.2 L178.5 287.2 L179 287.2 L179.5 287.2 L180 287.2 L180.5 287.19 L181 287.18 L181.5 287.16 L182 287.15 L182.5 287.12 L183 287.08 L183.5 287.04 L184 286.97 L184.5 286.91 L185 286.84 L185.5 286.76 L186 286.64 L186.5 286.48 L187 286.25 L187.5 285.96 L188 285.64 L188.5 285.26 L189 284.84 L189.5 284.35 L190 283.8 L190.5 283.16 L191 282.4 L191.5 281.54 L192 280.62 L192.5 279.66 L193 278.7 L193.5 277.78 L194 276.42 L194.5 274.95 L195 273.48 L195.5 272 L196 270.78 L196.5 269.51 L197 268.26 L197.5 267.11 L198 266.14 L198.5 265.33 L199 264.56 L199.5 263.89 L200 263.39 L200.5 263.13 L201 263.18 L201.5 263.6 L202 264.3 L202.5 265.17 L203 266.11 L203.5 267.55 L204 269.38 L204.5 271.28 L205 272.99 L205.5 274.64 L206 276.28 L206.5 277.92 L207 279.6 L207.5 281.28 L208 282.79 L208.5 283.94 L209 284.83 L209.5 285.53 L210 286.1 L210.5 286.52 L211 286.75 L211.5 286.89 L212 287 L212.5 287.06 L213 287.1 L213.5 287.13 L214 287.15 L214.5 287.17 L215 287.18 L215.5 287.19 L216 287.2 L216.5 287.2 L217 287.2 L217.5 287.2 L218 287.2 L218.5 287.2 L219 287.2 L219.5 287.2 L220 287.2 L220.5 287.2 L221 287.2 L221.5 287.2 L222 287.2 L222.5 287.2 L223 287.2 L223.5 287.2 L224 287.2 L224.5 287.2 L225 287.2 L225.5 287.2 L226 287.2 L226.5 287.2 L227 287.2 L227.5 287.2 L228 287.2 L228.5 287.2 L229 287.2 L229.5 287.2 L230 287.2 L230.5 287.2 L231 287.2 L231.5 287.2 L232 287.2 L232.5 287.2 L233 287.2 L233.5 287.2 L234 287.2 L234.5 287.2 L235 287.2 L235.5 287.2 L236 287.2 L236.5 287.2 L237 287.2 L237.5 287.2" fill="none" stroke="#7cbf44" stroke-width="1" stroke-opacity="0.85"/>
<path d="M189.5 284.35 L190 283.8 L190.5 283.16 L191 282.4 L191.5 281.54 L192 280.62 L192.5 279.66 L193 278.7 L193.5 277.78 L194 276.42 L194.5 274.95 L195 273.48 L195.5 272 L196 270.78 L196.5 269.51 L197 268.26 L197.5 267.11 L198 266.14 L198.5 265.33 L199 264.56 L199.5 263.89 L200 263.39 L200.5 263.13 L201 263.18 L201.5 263.6 L202 264.3 L202.5 265.17 L203 266.11 L203.5 267.55 L204 269.38 L204.5 271.28 L205 272.99 L205.5 274.64 L206 276.28 L206.5 277.92 L207 279.6 L207.5 281.28 L208 282.79 L208.5 283.94 L209 284.83" fill="none" stroke="#7cbf44" stroke-width="1.05" stroke-linejoin="round" stroke-linecap="round"/>
<line x1="113" y1="287.2" x2="113" y2="290.6" stroke="#111" stroke-width="1.4"/>
<text x="115.5" y="296.7" font-family='"Liberation Sans", sans-serif' font-size="4.3" font-weight="normal" font-style="normal" text-anchor="start" fill="#5a5a5a" stroke="#5a5a5a" stroke-width="0.12" textLength="4.6" lengthAdjust="spacingAndGlyphs">10</text>
<text x="120.3" y="294.5" font-family='"Liberation Sans", sans-serif' font-size="3.9" font-weight="normal" font-style="normal" text-anchor="start" fill="#4a4a4a" stroke="#4a4a4a" stroke-width="0.15">0</text>
<line x1="121.31" y1="287.4" x2="121.31" y2="289.1" stroke="#666" stroke-width="0.75"/>
<line x1="126.17" y1="287.4" x2="126.17" y2="289.1" stroke="#666" stroke-width="0.75"/>
<line x1="129.62" y1="287.4" x2="129.62" y2="289.1" stroke="#666" stroke-width="0.75"/>
<line x1="132.29" y1="287.4" x2="132.29" y2="289.1" stroke="#666" stroke-width="0.75"/>
<line x1="134.48" y1="287.4" x2="134.48" y2="289.1" stroke="#666" stroke-width="0.75"/>
<line x1="136.32" y1="287.4" x2="136.32" y2="289.1" stroke="#666" stroke-width="0.75"/>
<line x1="137.93" y1="287.4" x2="137.93" y2="289.1" stroke="#666" stroke-width="0.75"/>
<line x1="139.34" y1="287.4" x2="139.34" y2="289.1" stroke="#666" stroke-width="0.75"/>
<line x1="140.6" y1="287.2" x2="140.6" y2="290.6" stroke="#111" stroke-width="1.4"/>
<text x="141.1" y="296.7" font-family='"Liberation Sans", sans-serif' font-size="4.3" font-weight="normal" font-style="normal" text-anchor="start" fill="#5a5a5a" stroke="#5a5a5a" stroke-width="0.12" textLength="4.6" lengthAdjust="spacingAndGlyphs">10</text>
<text x="145.9" y="294.5" font-family='"Liberation Sans", sans-serif' font-size="3.9" font-weight="normal" font-style="normal" text-anchor="start" fill="#4a4a4a" stroke="#4a4a4a" stroke-width="0.15">1</text>
<line x1="148.91" y1="287.4" x2="148.91" y2="289.1" stroke="#666" stroke-width="0.75"/>
<line x1="153.77" y1="287.4" x2="153.77" y2="289.1" stroke="#666" stroke-width="0.75"/>
<line x1="157.22" y1="287.4" x2="157.22" y2="289.1" stroke="#666" stroke-width="0.75"/>
<line x1="159.89" y1="287.4" x2="159.89" y2="289.1" stroke="#666" stroke-width="0.75"/>
<line x1="162.08" y1="287.4" x2="162.08" y2="289.1" stroke="#666" stroke-width="0.75"/>
<line x1="163.92" y1="287.4" x2="163.92" y2="289.1" stroke="#666" stroke-width="0.75"/>
<line x1="165.53" y1="287.4" x2="165.53" y2="289.1" stroke="#666" stroke-width="0.75"/>
<line x1="166.94" y1="287.4" x2="166.94" y2="289.1" stroke="#666" stroke-width="0.75"/>
<line x1="168.2" y1="287.2" x2="168.2" y2="290.6" stroke="#111" stroke-width="1.4"/>
<text x="168.7" y="296.7" font-family='"Liberation Sans", sans-serif' font-size="4.3" font-weight="normal" font-style="normal" text-anchor="start" fill="#5a5a5a" stroke="#5a5a5a" stroke-width="0.12" textLength="4.6" lengthAdjust="spacingAndGlyphs">10</text>
<text x="173.5" y="294.5" font-family='"Liberation Sans", sans-serif' font-size="3.9" font-weight="normal" font-style="normal" text-anchor="start" fill="#4a4a4a" stroke="#4a4a4a" stroke-width="0.15">2</text>
<line x1="176.51" y1="287.4" x2="176.51" y2="289.1" stroke="#666" stroke-width="0.75"/>
<line x1="181.37" y1="287.4" x2="181.37" y2="289.1" stroke="#666" stroke-width="0.75"/>
<line x1="184.82" y1="287.4" x2="184.82" y2="289.1" stroke="#666" stroke-width="0.75"/>
<line x1="187.49" y1="287.4" x2="187.49" y2="289.1" stroke="#666" stroke-width="0.75"/>
<line x1="189.68" y1="287.4" x2="189.68" y2="289.1" stroke="#666" stroke-width="0.75"/>
<line x1="191.52" y1="287.4" x2="191.52" y2="289.1" stroke="#666" stroke-width="0.75"/>
<line x1="193.13" y1="287.4" x2="193.13" y2="289.1" stroke="#666" stroke-width="0.75"/>
<line x1="194.54" y1="287.4" x2="194.54" y2="289.1" stroke="#666" stroke-width="0.75"/>
<line x1="195.8" y1="287.2" x2="195.8" y2="290.6" stroke="#111" stroke-width="1.4"/>
<text x="196.3" y="296.7" font-family='"Liberation Sans", sans-serif' font-size="4.3" font-weight="normal" font-style="normal" text-anchor="start" fill="#5a5a5a" stroke="#5a5a5a" stroke-width="0.12" textLength="4.6" lengthAdjust="spacingAndGlyphs">10</text>
<text x="201.1" y="294.5" font-family='"Liberation Sans", sans-serif' font-size="3.9" font-weight="normal" font-style="normal" text-anchor="start" fill="#4a4a4a" stroke="#4a4a4a" stroke-width="0.15">3</text>
<line x1="204.11" y1="287.4" x2="204.11" y2="289.1" stroke="#666" stroke-width="0.75"/>
<line x1="208.97" y1="287.4" x2="208.97" y2="289.1" stroke="#666" stroke-width="0.75"/>
<line x1="212.42" y1="287.4" x2="212.42" y2="289.1" stroke="#666" stroke-width="0.75"/>
<line x1="215.09" y1="287.4" x2="215.09" y2="289.1" stroke="#666" stroke-width="0.75"/>
<line x1="217.28" y1="287.4" x2="217.28" y2="289.1" stroke="#666" stroke-width="0.75"/>
<line x1="219.12" y1="287.4" x2="219.12" y2="289.1" stroke="#666" stroke-width="0.75"/>
<line x1="220.73" y1="287.4" x2="220.73" y2="289.1" stroke="#666" stroke-width="0.75"/>
<line x1="222.14" y1="287.4" x2="222.14" y2="289.1" stroke="#666" stroke-width="0.75"/>
<line x1="223.4" y1="287.2" x2="223.4" y2="290.6" stroke="#111" stroke-width="1.4"/>
<text x="223.9" y="296.7" font-family='"Liberation Sans", sans-serif' font-size="4.3" font-weight="normal" font-style="normal" text-anchor="start" fill="#5a5a5a" stroke="#5a5a5a" stroke-width="0.12" textLength="4.6" lengthAdjust="spacingAndGlyphs">10</text>
<text x="228.7" y="294.5" font-family='"Liberation Sans", sans-serif' font-size="3.9" font-weight="normal" font-style="normal" text-anchor="start" fill="#4a4a4a" stroke="#4a4a4a" stroke-width="0.15">4</text>
<line x1="231.71" y1="287.4" x2="231.71" y2="289.1" stroke="#666" stroke-width="0.75"/>
<line x1="236.57" y1="287.4" x2="236.57" y2="289.1" stroke="#666" stroke-width="0.75"/>
<text x="175.5" y="308.6" font-family='"Liberation Sans", sans-serif' font-size="5.4" font-weight="normal" font-style="normal" text-anchor="middle" fill="#444" stroke="#444" stroke-width="0.15" textLength="15.6" lengthAdjust="spacing">FL1-H</text>
<line x1="410.3" y1="41.6" x2="534.5" y2="41.6" stroke="#c8c8c8" stroke-width="1"/>
<line x1="534.5" y1="41.6" x2="534.5" y2="147.3" stroke="#c8c8c8" stroke-width="1"/>
<line x1="410.3" y1="41.6" x2="410.3" y2="147.3" stroke="#b8b8b8" stroke-width="1.1"/>
<path d="M411.8 63.78 L412.3 63.59 L412.8 63.75 L413.3 63.62 L413.8 63.62 L414.3 63.99 L414.8 63.97 L415.3 63.32 L415.8 63.66 L416.3 63.62 L416.8 63.05 L417.3 63.43 L417.8 63.22 L418.3 63.53 L418.8 63.49 L419.3 63.92 L419.8 63.67 L420.3 63.59 L420.8 63.93 L421.3 63.88 L421.8 64.03 L422.3 64.56 L422.8 64.18 L423.3 64.4 L423.8 64.73 L424.3 65.04 L424.8 64.58 L425.3 64.95 L425.8 64.84 L426.3 64.73 L426.8 64.8 L427.3 64.57 L427.8 64.85 L428.3 64.47 L428.8 64.65 L429.3 64.28 L429.8 64.33 L430.3 64.89 L430.8 64.89 L431.3 64.86 L431.8 64.37 L432.3 64.76 L432.8 64.65 L433.3 64.91 L433.8 64.8 L434.3 64.9 L434.8 64.92 L435.3 64.71 L435.8 64.62 L436.3 64.28 L436.8 64.32 L437.3 64.05 L437.8 64.05 L438.3 64 L438.8 64.4 L439.3 64.97 L439.8 64.63 L440.3 64.57 L440.8 64.54 L441.3 64.62 L441.8 64.23 L442.3 64.23 L442.8 63.35 L443.3 63.02 L443.8 62.72 L444.3 62.45 L444.8 61.61 L445.3 61.39 L445.8 62.02 L446.3 61.56 L446.8 61.86 L447.3 62 L447.8 61.77 L448.3 61.28 L448.8 61.03 L449.3 61.4 L449.8 60.78 L450.3 60.93 L450.8 60.21 L451.3 60.22 L451.8 59.51 L452.3 59.1 L452.8 59.06 L453.3 58.33 L453.8 58.43 L454.3 58.22 L454.8 57.48 L455.3 57.5 L455.8 57 L456.3 56.46 L456.8 55.95 L457.3 55.92 L457.8 55.68 L458.3 54.76 L458.8 54.88 L459.3 54.18 L459.8 53.94 L460.3 53.89 L460.8 53.29 L461.3 52.62 L461.8 51.88 L462.3 51.33 L462.8 50.89 L463.3 50.5 L463.8 50 L464.3 50.05 L464.8 49.81 L465.3 49.33 L465.8 49.35 L466.3 48.96 L466.8 48.16 L467.3 48.21 L467.8 48.01 L468.3 48.36 L468.8 48.54 L469.3 49.21 L469.8 50.17 L470.3 50.09 L470.8 50.43 L471.3 51.19 L471.8 51.13 L472.3 51.56 L472.8 51.71 L473.3 52.18 L473.8 52.16 L474.3 52.43 L474.8 53.33 L475.3 54.39 L475.8 55.25 L476.3 56.06 L476.8 56.95 L477.3 57.15 L477.8 57.38 L478.3 57.89 L478.8 58.19 L479.3 58.58 L479.8 58.91 L480.3 59.15 L480.8 59.79 L481.3 60.18 L481.8 60.33 L482.3 61.25 L482.8 61.2 L483.3 61.34 L483.8 61.8 L484.3 61.87 L484.8 61.39 L485.3 61.73 L485.8 61.81 L486.3 61.83 L486.8 61.91 L487.3 62.66 L487.8 62.89 L488.3 63.28 L488.8 63.34 L489.3 64 L489.8 64.05 L490.3 64.85 L490.8 65.05 L491.3 65.14 L491.8 65.28 L492.3 65.86 L492.8 66.22 L493.3 66.47 L493.8 66.43 L494.3 66.64 L494.8 66.47 L495.3 66.52 L495.8 66.77 L496.3 66.76 L496.8 66.62 L497.3 66.68 L497.8 66.64 L498.3 66.79 L498.8 66.86 L499.3 66.83 L499.8 66.71 L500.3 66.87 L500.8 66.87 L501.3 66.87 L501.8 66.88 L502.3 66.9 L502.8 66.79 L503.3 66.99 L503.8 67.04 L504.3 66.83 L504.8 66.86 L505.3 66.86 L505.8 66.99 L506.3 66.9 L506.8 66.92 L507.3 67.08 L507.8 66.99 L508.3 66.99 L508.8 67.03 L509.3 67.08 L509.8 67.13 L510.3 67.14 L510.8 67.17 L511.3 67.21 L511.8 67.14 L512.3 67.2 L512.8 67.14 L513.3 67.27 L513.8 67.16 L514.3 67.21 L514.8 67.2 L515.3 67.22 L515.8 67.24 L516.3 67.29 L516.8 67.36 L517.3 67.3 L517.8 67.37 L518.3 67.37 L518.8 67.36 L519.3 67.38 L519.8 67.4 L520.3 67.38 L520.8 67.42 L521.3 67.45 L521.8 67.47 L522.3 67.45 L522.8 67.49 L523.3 67.49 L523.8 67.52 L524.3 67.53 L524.8 67.54 L525.3 67.55 L525.8 67.57 L526.3 67.57 L526.8 67.58 L527.3 67.59 L527.8 67.6 L528.3 67.6 L528.8 67.6 L529.3 67.6 L529.8 67.6 L530.3 67.6 L530.8 67.6 L531.3 67.6 L531.8 67.6 L532.3 67.6 L532.8 67.6 L533.3 67.6 L533.8 67.6 L534 67.6 L411.8 67.6 Z" fill="#fcd9b5" stroke="none"/>
<path d="M411.8 63.78 L412.3 63.59 L412.8 63.75 L413.3 63.62 L413.8 63.62 L414.3 63.99 L414.8 63.97 L415.3 63.32 L415.8 63.66 L416.3 63.62 L416.8 63.05 L417.3 63.43 L417.8 63.22 L418.3 63.53 L418.8 63.49 L419.3 63.92 L419.8 63.67 L420.3 63.59 L420.8 63.93 L421.3 63.88 L421.8 64.03 L422.3 64.56 L422.8 64.18 L423.3 64.4 L423.8 64.73 L424.3 65.04 L424.8 64.58 L425.3 64.95 L425.8 64.84 L426.3 64.73 L426.8 64.8 L427.3 64.57 L427.8 64.85 L428.3 64.47 L428.8 64.65 L429.3 64.28 L429.8 64.33 L430.3 64.89 L430.8 64.89 L431.3 64.86 L431.8 64.37 L432.3 64.76 L432.8 64.65 L433.3 64.91 L433.8 64.8 L434.3 64.9 L434.8 64.92 L435.3 64.71 L435.8 64.62 L436.3 64.28 L436.8 64.32 L437.3 64.05 L437.8 64.05 L438.3 64 L438.8 64.4 L439.3 64.97 L439.8 64.63 L440.3 64.57 L440.8 64.54 L441.3 64.62 L441.8 64.23 L442.3 64.23 L442.8 63.35 L443.3 63.02 L443.8 62.72 L444.3 62.45 L444.8 61.61 L445.3 61.39 L445.8 62.02 L446.3 61.56 L446.8 61.86 L447.3 62 L447.8 61.77 L448.3 61.28 L448.8 61.03 L449.3 61.4 L449.8 60.78 L450.3 60.93 L450.8 60.21 L451.3 60.22 L451.8 59.51 L452.3 59.1 L452.8 59.06 L453.3 58.33 L453.8 58.43 L454.3 58.22 L454.8 57.48 L455.3 57.5 L455.8 57 L456.3 56.46 L456.8 55.95 L457.3 55.92 L457.8 55.68 L458.3 54.76 L458.8 54.88 L459.3 54.18 L459.8 53.94 L460.3 53.89 L460.8 53.29 L461.3 52.62 L461.8 51.88 L462.3 51.33 L462.8 50.89 L463.3 50.5 L463.8 50 L464.3 50.05 L464.8 49.81 L465.3 49.33 L465.8 49.35 L466.3 48.96 L466.8 48.16 L467.3 48.21 L467.8 48.01 L468.3 48.36 L468.8 48.54 L469.3 49.21 L469.8 50.17 L470.3 50.09 L470.8 50.43 L471.3 51.19 L471.8 51.13 L472.3 51.56 L472.8 51.71 L473.3 52.18 L473.8 52.16 L474.3 52.43 L474.8 53.33 L475.3 54.39 L475.8 55.25 L476.3 56.06 L476.8 56.95 L477.3 57.15 L477.8 57.38 L478.3 57.89 L478.8 58.19 L479.3 58.58 L479.8 58.91 L480.3 59.15 L480.8 59.79 L481.3 60.18 L481.8 60.33 L482.3 61.25 L482.8 61.2 L483.3 61.34 L483.8 61.8 L484.3 61.87 L484.8 61.39 L485.3 61.73 L485.8 61.81 L486.3 61.83 L486.8 61.91 L487.3 62.66 L487.8 62.89 L488.3 63.28 L488.8 63.34 L489.3 64 L489.8 64.05 L490.3 64.85 L490.8 65.05 L491.3 65.14 L491.8 65.28 L492.3 65.86 L492.8 66.22 L493.3 66.47 L493.8 66.43 L494.3 66.64 L494.8 66.47 L495.3 66.52 L495.8 66.77 L496.3 66.76 L496.8 66.62 L497.3 66.68 L497.8 66.64 L498.3 66.79 L498.8 66.86 L499.3 66.83 L499.8 66.71 L500.3 66.87 L500.8 66.87 L501.3 66.87 L501.8 66.88 L502.3 66.9 L502.8 66.79 L503.3 66.99 L503.8 67.04 L504.3 66.83 L504.8 66.86 L505.3 66.86 L505.8 66.99 L506.3 66.9 L506.8 66.92 L507.3 67.08 L507.8 66.99 L508.3 66.99 L508.8 67.03 L509.3 67.08 L509.8 67.13 L510.3 67.14 L510.8 67.17 L511.3 67.21 L511.8 67.14 L512.3 67.2 L512.8 67.14 L513.3 67.27 L513.8 67.16 L514.3 67.21 L514.8 67.2 L515.3 67.22 L515.8 67.24 L516.3 67.29 L516.8 67.36 L517.3 67.3 L517.8 67.37 L518.3 67.37 L518.8 67.36 L519.3 67.38 L519.8 67.4 L520.3 67.38 L520.8 67.42 L521.3 67.45 L521.8 67.47 L522.3 67.45 L522.8 67.49 L523.3 67.49 L523.8 67.52 L524.3 67.53 L524.8 67.54 L525.3 67.55 L525.8 67.57 L526.3 67.57 L526.8 67.58 L527.3 67.59 L527.8 67.6 L528.3 67.6 L528.8 67.6 L529.3 67.6 L529.8 67.6 L530.3 67.6 L530.8 67.6 L531.3 67.6 L531.8 67.6 L532.3 67.6 L532.8 67.6 L533.3 67.6 L533.8 67.6" fill="none" stroke="#f29a3c" stroke-width="1" stroke-opacity="0.85"/>
<path d="M411.8 63.78 L412.3 63.59 L412.8 63.75 L413.3 63.62" fill="none" stroke="#f29a3c" stroke-width="0.95" stroke-linejoin="round" stroke-linecap="round"/>
<path d="M414.3 63.99 L414.8 63.97 L415.3 63.32 L415.8 63.66 L416.3 63.62 L416.8 63.05 L417.3 63.43 L417.8 63.22 L418.3 63.53 L418.8 63.49 L419.3 63.92 L419.8 63.67 L420.3 63.59 L420.8 63.93 L421.3 63.88" fill="none" stroke="#f29a3c" stroke-width="0.95" stroke-linejoin="round" stroke-linecap="round"/>
<path d="M441.8 64.23 L442.3 64.23 L442.8 63.35 L443.3 63.02 L443.8 62.72 L444.3 62.45 L444.8 61.61 L445.3 61.39 L445.8 62.02 L446.3 61.56 L446.8 61.86 L447.3 62 L447.8 61.77 L448.3 61.28 L448.8 61.03 L449.3 61.4 L449.8 60.78 L450.3 60.93 L450.8 60.21 L451.3 60.22 L451.8 59.51 L452.3 59.1 L452.8 59.06 L453.3 58.33 L453.8 58.43 L454.3 58.22 L454.8 57.48 L455.3 57.5 L455.8 57 L456.3 56.46 L456.8 55.95 L457.3 55.92 L457.8 55.68 L458.3 54.76 L458.8 54.88 L459.3 54.18 L459.8 53.94 L460.3 53.89 L460.8 53.29 L461.3 52.62 L461.8 51.88 L462.3 51.33 L462.8 50.89 L463.3 50.5 L463.8 50 L464.3 50.05 L464.8 49.81 L465.3 49.33 L465.8 49.35 L466.3 48.96 L466.8 48.16 L467.3 48.21 L467.8 48.01 L468.3 48.36 L468.8 48.54 L469.3 49.21 L469.8 50.17 L470.3 50.09 L470.8 50.43 L471.3 51.19 L471.8 51.13 L472.3 51.56 L472.8 51.71 L473.3 52.18 L473.8 52.16 L474.3 52.43 L474.8 53.33 L475.3 54.39 L475.8 55.25 L476.3 56.06 L476.8 56.95 L477.3 57.15 L477.8 57.38 L478.3 57.89 L478.8 58.19 L479.3 58.58 L479.8 58.91 L480.3 59.15 L480.8 59.79 L481.3 60.18 L481.8 60.33 L482.3 61.25 L482.8 61.2 L483.3 61.34 L483.8 61.8 L484.3 61.87 L484.8 61.39 L485.3 61.73 L485.8 61.81 L486.3 61.83 L486.8 61.91 L487.3 62.66 L487.8 62.89 L488.3 63.28 L488.8 63.34 L489.3 64 L489.8 64.05" fill="none" stroke="#f29a3c" stroke-width="0.95" stroke-linejoin="round" stroke-linecap="round"/>
<rect x="409.9" y="41.8" width="1.3" height="25.8" fill="#f29a3c" stroke="none" stroke-width="1"/>
<rect x="411.2" y="63.6" width="0.8" height="4" fill="#fcd9b5" stroke="none" stroke-width="1"/>
<path d="M411.8 91.88 L412.3 92.08 L412.8 92.02 L413.3 92.35 L413.8 92.56 L414.3 92.41 L414.8 92.11 L415.3 92.25 L415.8 92.32 L416.3 92.74 L416.8 92.56 L417.3 92.77 L417.8 92.86 L418.3 92.93 L418.8 92.87 L419.3 92.43 L419.8 92.5 L420.3 92.5 L420.8 92.48 L421.3 92.84 L421.8 92.73 L422.3 92.48 L422.8 92.37 L423.3 92.26 L423.8 92.23 L424.3 92.8 L424.8 92.46 L425.3 92.46 L425.8 92.62 L426.3 92.88 L426.8 92.74 L427.3 93.01 L427.8 92.53 L428.3 92.59 L428.8 92.78 L429.3 92.92 L429.8 92.54 L430.3 92.72 L430.8 92.51 L431.3 92.51 L431.8 92.7 L432.3 92.75 L432.8 92.62 L433.3 92.72 L433.8 92.89 L434.3 92.79 L434.8 92.45 L435.3 92.93 L435.8 92.91 L436.3 92.5 L436.8 92.7 L437.3 92.5 L437.8 92.52 L438.3 92.57 L438.8 92.05 L439.3 92.55 L439.8 92.3 L440.3 92.31 L440.8 91.8 L441.3 91.79 L441.8 91.47 L442.3 90.95 L442.8 91.05 L443.3 90.76 L443.8 90.52 L444.3 91.21 L444.8 91.41 L445.3 91.43 L445.8 91.09 L446.3 91.01 L446.8 90.83 L447.3 90.17 L447.8 89.65 L448.3 88.9 L448.8 88.88 L449.3 88.22 L449.8 87.91 L450.3 87.73 L450.8 87.75 L451.3 87.45 L451.8 87.97 L452.3 87.6 L452.8 86.88 L453.3 86.75 L453.8 86.75 L454.3 86.12 L454.8 86.1 L455.3 85.77 L455.8 86.01 L456.3 85.99 L456.8 85.7 L457.3 85.73 L457.8 85.26 L458.3 84.27 L458.8 83.88 L459.3 83.19 L459.8 82.29 L460.3 81.49 L460.8 80.39 L461.3 80.13 L461.8 79.79 L462.3 79.75 L462.8 79.24 L463.3 79.87 L463.8 80.24 L464.3 80.38 L464.8 80.14 L465.3 79.63 L465.8 78.72 L466.3 78.48 L466.8 77.95 L467.3 77.11 L467.8 76.8 L468.3 75.79 L468.8 75.94 L469.3 75.25 L469.8 74.75 L470.3 74.79 L470.8 74.29 L471.3 74.63 L471.8 74.84 L472.3 74.79 L472.8 75.11 L473.3 74.88 L473.8 75.01 L474.3 74.6 L474.8 74.78 L475.3 75.3 L475.8 76.12 L476.3 76.62 L476.8 77.38 L477.3 78.21 L477.8 78.96 L478.3 79.25 L478.8 80.55 L479.3 81.42 L479.8 81.6 L480.3 82.61 L480.8 82.89 L481.3 83.88 L481.8 84.12 L482.3 84.87 L482.8 85.3 L483.3 85.78 L483.8 86.31 L484.3 86.83 L484.8 86.79 L485.3 86.15 L485.8 85.85 L486.3 85.54 L486.8 85.75 L487.3 85.47 L487.8 85.38 L488.3 85.54 L488.8 85.51 L489.3 85.86 L489.8 85.99 L490.3 86.18 L490.8 86.73 L491.3 86.56 L491.8 86.85 L492.3 87.8 L492.8 87.52 L493.3 87.87 L493.8 88.44 L494.3 89.3 L494.8 89.15 L495.3 90.15 L495.8 90.01 L496.3 90.64 L496.8 91.44 L497.3 91.7 L497.8 91.67 L498.3 91.98 L498.8 92.09 L499.3 92.19 L499.8 92.89 L500.3 93.21 L500.8 92.97 L501.3 93.58 L501.8 93.48 L502.3 93.88 L502.8 93.88 L503.3 93.99 L503.8 94.03 L504.3 94.12 L504.8 94.12 L505.3 94.23 L505.8 94.22 L506.3 94.27 L506.8 94.25 L507.3 94.29 L507.8 94.33 L508.3 94.34 L508.8 94.38 L509.3 94.4 L509.8 94.39 L510.3 94.4 L510.8 94.4 L511.3 94.41 L511.8 94.43 L512.3 94.43 L512.8 94.42 L513.3 94.43 L513.8 94.45 L514.3 94.43 L514.8 94.43 L515.3 94.45 L515.8 94.45 L516.3 94.45 L516.8 94.45 L517.3 94.46 L517.8 94.46 L518.3 94.46 L518.8 94.46 L519.3 94.47 L519.8 94.47 L520.3 94.47 L520.8 94.47 L521.3 94.47 L521.8 94.47 L522.3 94.47 L522.8 94.48 L523.3 94.48 L523.8 94.48 L524.3 94.48 L524.8 94.48 L525.3 94.48 L525.8 94.49 L526.3 94.48 L526.8 94.49 L527.3 94.49 L527.8 94.49 L528.3 94.49 L528.8 94.49 L529.3 94.49 L529.8 94.49 L530.3 94.49 L530.8 94.49 L531.3 94.5 L531.8 94.5 L532.3 94.5 L532.8 94.5 L533.3 94.5 L533.8 94.5 L534 94.5 L411.8 94.5 Z" fill="#f8bab0" stroke="none"/>
<path d="M411.8 91.88 L412.3 92.08 L412.8 92.02 L413.3 92.35 L413.8 92.56 L414.3 92.41 L414.8 92.11 L415.3 92.25 L415.8 92.32 L416.3 92.74 L416.8 92.56 L417.3 92.77 L417.8 92.86 L418.3 92.93 L418.8 92.87 L419.3 92.43 L419.8 92.5 L420.3 92.5 L420.8 92.48 L421.3 92.84 L421.8 92.73 L422.3 92.48 L422.8 92.37 L423.3 92.26 L423.8 92.23 L424.3 92.8 L424.8 92.46 L425.3 92.46 L425.8 92.62 L426.3 92.88 L426.8 92.74 L427.3 93.01 L427.8 92.53 L428.3 92.59 L428.8 92.78 L429.3 92.92 L429.8 92.54 L430.3 92.72 L430.8 92.51 L431.3 92.51 L431.8 92.7 L432.3 92.75 L432.8 92.62 L433.3 92.72 L433.8 92.89 L434.3 92.79 L434.8 92.45 L435.3 92.93 L435.8 92.91 L436.3 92.5 L436.8 92.7 L437.3 92.5 L437.8 92.52 L438.3 92.57 L438.8 92.05 L439.3 92.55 L439.8 92.3 L440.3 92.31 L440.8 91.8 L441.3 91.79 L441.8 91.47 L442.3 90.95 L442.8 91.05 L443.3 90.76 L443.8 90.52 L444.3 91.21 L444.8 91.41 L445.3 91.43 L445.8 91.09 L446.3 91.01 L446.8 90.83 L447.3 90.17 L447.8 89.65 L448.3 88.9 L448.8 88.88 L449.3 88.22 L449.8 87.91 L450.3 87.73 L450.8 87.75 L451.3 87.45 L451.8 87.97 L452.3 87.6 L452.8 86.88 L453.3 86.75 L453.8 86.75 L454.3 86.12 L454.8 86.1 L455.3 85.77 L455.8 86.01 L456.3 85.99 L456.8 85.7 L457.3 85.73 L457.8 85.26 L458.3 84.27 L458.8 83.88 L459.3 83.19 L459.8 82.29 L460.3 81.49 L460.8 80.39 L461.3 80.13 L461.8 79.79 L462.3 79.75 L462.8 79.24 L463.3 79.87 L463.8 80.24 L464.3 80.38 L464.8 80.14 L465.3 79.63 L465.8 78.72 L466.3 78.48 L466.8 77.95 L467.3 77.11 L467.8 76.8 L468.3 75.79 L468.8 75.94 L469.3 75.25 L469.8 74.75 L470.3 74.79 L470.8 74.29 L471.3 74.63 L471.8 74.84 L472.3 74.79 L472.8 75.11 L473.3 74.88 L473.8 75.01 L474.3 74.6 L474.8 74.78 L475.3 75.3 L475.8 76.12 L476.3 76.62 L476.8 77.38 L477.3 78.21 L477.8 78.96 L478.3 79.25 L478.8 80.55 L479.3 81.42 L479.8 81.6 L480.3 82.61 L480.8 82.89 L481.3 83.88 L481.8 84.12 L482.3 84.87 L482.8 85.3 L483.3 85.78 L483.8 86.31 L484.3 86.83 L484.8 86.79 L485.3 86.15 L485.8 85.85 L486.3 85.54 L486.8 85.75 L487.3 85.47 L487.8 85.38 L488.3 85.54 L488.8 85.51 L489.3 85.86 L489.8 85.99 L490.3 86.18 L490.8 86.73 L491.3 86.56 L491.8 86.85 L492.3 87.8 L492.8 87.52 L493.3 87.87 L493.8 88.44 L494.3 89.3 L494.8 89.15 L495.3 90.15 L495.8 90.01 L496.3 90.64 L496.8 91.44 L497.3 91.7 L497.8 91.67 L498.3 91.98 L498.8 92.09 L499.3 92.19 L499.8 92.89 L500.3 93.21 L500.8 92.97 L501.3 93.58 L501.8 93.48 L502.3 93.88 L502.8 93.88 L503.3 93.99 L503.8 94.03 L504.3 94.12 L504.8 94.12 L505.3 94.23 L505.8 94.22 L506.3 94.27 L506.8 94.25 L507.3 94.29 L507.8 94.33 L508.3 94.34 L508.8 94.38 L509.3 94.4 L509.8 94.39 L510.3 94.4 L510.8 94.4 L511.3 94.41 L511.8 94.43 L512.3 94.43 L512.8 94.42 L513.3 94.43 L513.8 94.45 L514.3 94.43 L514.8 94.43 L515.3 94.45 L515.8 94.45 L516.3 94.45 L516.8 94.45 L517.3 94.46 L517.8 94.46 L518.3 94.46 L518.8 94.46 L519.3 94.47 L519.8 94.47 L520.3 94.47 L520.8 94.47 L521.3 94.47 L521.8 94.47 L522.3 94.47 L522.8 94.48 L523.3 94.48 L523.8 94.48 L524.3 94.48 L524.8 94.48 L525.3 94.48 L525.8 94.49 L526.3 94.48 L526.8 94.49 L527.3 94.49 L527.8 94.49 L528.3 94.49 L528.8 94.49 L529.3 94.49 L529.8 94.49 L530.3 94.49 L530.8 94.49 L531.3 94.5 L531.8 94.5 L532.3 94.5 L532.8 94.5 L533.3 94.5 L533.8 94.5" fill="none" stroke="#e0363f" stroke-width="1" stroke-opacity="0.85"/>
<path d="M446.3 91.01 L446.8 90.83 L447.3 90.17 L447.8 89.65 L448.3 88.9 L448.8 88.88 L449.3 88.22 L449.8 87.91 L450.3 87.73 L450.8 87.75 L451.3 87.45 L451.8 87.97 L452.3 87.6 L452.8 86.88 L453.3 86.75 L453.8 86.75 L454.3 86.12 L454.8 86.1 L455.3 85.77 L455.8 86.01 L456.3 85.99 L456.8 85.7 L457.3 85.73 L457.8 85.26 L458.3 84.27 L458.8 83.88 L459.3 83.19 L459.8 82.29 L460.3 81.49 L460.8 80.39 L461.3 80.13 L461.8 79.79 L462.3 79.75 L462.8 79.24 L463.3 79.87 L463.8 80.24 L464.3 80.38 L464.8 80.14 L465.3 79.63 L465.8 78.72 L466.3 78.48 L466.8 77.95 L467.3 77.11 L467.8 76.8 L468.3 75.79 L468.8 75.94 L469.3 75.25 L469.8 74.75 L470.3 74.79 L470.8 74.29 L471.3 74.63 L471.8 74.84 L472.3 74.79 L472.8 75.11 L473.3 74.88 L473.8 75.01 L474.3 74.6 L474.8 74.78 L475.3 75.3 L475.8 76.12 L476.3 76.62 L476.8 77.38 L477.3 78.21 L477.8 78.96 L478.3 79.25 L478.8 80.55 L479.3 81.42 L479.8 81.6 L480.3 82.61 L480.8 82.89 L481.3 83.88 L481.8 84.12 L482.3 84.87 L482.8 85.3 L483.3 85.78 L483.8 86.31 L484.3 86.83 L484.8 86.79 L485.3 86.15 L485.8 85.85 L486.3 85.54 L486.8 85.75 L487.3 85.47 L487.8 85.38 L488.3 85.54 L488.8 85.51 L489.3 85.86 L489.8 85.99 L490.3 86.18 L490.8 86.73 L491.3 86.56 L491.8 86.85 L492.3 87.8 L492.8 87.52 L493.3 87.87 L493.8 88.44 L494.3 89.3 L494.8 89.15 L495.3 90.15 L495.8 90.01 L496.3 90.64 L496.8 91.44" fill="none" stroke="#e0363f" stroke-width="0.95" stroke-linejoin="round" stroke-linecap="round"/>
<rect x="409.9" y="67.8" width="1.3" height="26.7" fill="#e0363f" stroke="none" stroke-width="1"/>
<rect x="411.2" y="91.7" width="0.8" height="2.8" fill="#f8bab0" stroke="none" stroke-width="1"/>
<path d="M411.8 118.81 L412.3 118.74 L412.8 118.71 L413.3 118.62 L413.8 118.78 L414.3 118.67 L414.8 119.32 L415.3 119.03 L415.8 118.72 L416.3 118.94 L416.8 118.78 L417.3 119.35 L417.8 119.13 L418.3 119.32 L418.8 119.15 L419.3 119.18 L419.8 119.62 L420.3 119.55 L420.8 119.59 L421.3 119.3 L421.8 119.48 L422.3 119.88 L422.8 119.63 L423.3 120 L423.8 119.83 L424.3 120.1 L424.8 120.2 L425.3 119.88 L425.8 120.19 L426.3 120.22 L426.8 119.97 L427.3 120.04 L427.8 120.27 L428.3 120.04 L428.8 120.19 L429.3 120.13 L429.8 120.28 L430.3 119.98 L430.8 120.04 L431.3 119.88 L431.8 119.86 L432.3 120.06 L432.8 119.97 L433.3 120 L433.8 119.95 L434.3 119.92 L434.8 119.72 L435.3 119.46 L435.8 119.74 L436.3 119.23 L436.8 119.35 L437.3 119.27 L437.8 118.8 L438.3 118.92 L438.8 118.93 L439.3 118.72 L439.8 118.48 L440.3 118.87 L440.8 118.19 L441.3 118.82 L441.8 118.29 L442.3 118.21 L442.8 118.77 L443.3 118.22 L443.8 118.49 L444.3 118.34 L444.8 118.75 L445.3 118.74 L445.8 118.66 L446.3 118.13 L446.8 118.64 L447.3 118.19 L447.8 117.96 L448.3 117.74 L448.8 117.8 L449.3 117.34 L449.8 116.75 L450.3 116.12 L450.8 116.21 L451.3 115.53 L451.8 115.46 L452.3 115.63 L452.8 116.48 L453.3 115.96 L453.8 116.39 L454.3 115.82 L454.8 115.1 L455.3 114.3 L455.8 114.13 L456.3 113.25 L456.8 113.22 L457.3 113.22 L457.8 113.12 L458.3 113.16 L458.8 113.14 L459.3 112.94 L459.8 112.3 L460.3 111.71 L460.8 111.86 L461.3 111.45 L461.8 110.24 L462.3 109.96 L462.8 109.45 L463.3 108.93 L463.8 107.96 L464.3 107.04 L464.8 106.55 L465.3 105.9 L465.8 105.6 L466.3 104.61 L466.8 105.06 L467.3 104.94 L467.8 105.03 L468.3 105.73 L468.8 105.18 L469.3 104.52 L469.8 104 L470.3 103.09 L470.8 102.86 L471.3 102.2 L471.8 102.42 L472.3 102.43 L472.8 103.57 L473.3 104.25 L473.8 104.47 L474.3 104.87 L474.8 104.82 L475.3 105.21 L475.8 105.47 L476.3 105.65 L476.8 106.26 L477.3 106.9 L477.8 107.36 L478.3 108.11 L478.8 108.53 L479.3 108.78 L479.8 109.54 L480.3 110.51 L480.8 111.29 L481.3 112.01 L481.8 112.59 L482.3 112.81 L482.8 112.78 L483.3 113 L483.8 113.6 L484.3 113.5 L484.8 113.65 L485.3 113.79 L485.8 113.78 L486.3 113.58 L486.8 113.67 L487.3 113.23 L487.8 113.39 L488.3 113.18 L488.8 112.95 L489.3 112.99 L489.8 113.26 L490.3 112.81 L490.8 113.03 L491.3 113.11 L491.8 113.56 L492.3 113.24 L492.8 113.53 L493.3 113.37 L493.8 113.73 L494.3 113.79 L494.8 114.27 L495.3 114.59 L495.8 115.38 L496.3 115.65 L496.8 116.05 L497.3 116.4 L497.8 117.15 L498.3 117.19 L498.8 117.52 L499.3 117.99 L499.8 118.13 L500.3 118.42 L500.8 118.97 L501.3 119.21 L501.8 119.68 L502.3 119.54 L502.8 119.75 L503.3 120.16 L503.8 120.28 L504.3 120.43 L504.8 120.57 L505.3 120.78 L505.8 120.79 L506.3 120.89 L506.8 120.96 L507.3 121.03 L507.8 121.07 L508.3 121.1 L508.8 121.11 L509.3 121.11 L509.8 121.14 L510.3 121.14 L510.8 121.14 L511.3 121.14 L511.8 121.15 L512.3 121.15 L512.8 121.15 L513.3 121.17 L513.8 121.16 L514.3 121.17 L514.8 121.18 L515.3 121.18 L515.8 121.18 L516.3 121.18 L516.8 121.18 L517.3 121.19 L517.8 121.19 L518.3 121.19 L518.8 121.19 L519.3 121.19 L519.8 121.19 L520.3 121.19 L520.8 121.19 L521.3 121.19 L521.8 121.2 L522.3 121.2 L522.8 121.2 L523.3 121.2 L523.8 121.2 L524.3 121.2 L524.8 121.2 L525.3 121.2 L525.8 121.2 L526.3 121.2 L526.8 121.2 L527.3 121.2 L527.8 121.2 L528.3 121.2 L528.8 121.2 L529.3 121.2 L529.8 121.2 L530.3 121.2 L530.8 121.2 L531.3 121.2 L531.8 121.2 L532.3 121.2 L532.8 121.2 L533.3 121.2 L533.8 121.2 L534 121.2 L411.8 121.2 Z" fill="#c5e5f6" stroke="none"/>
<path d="M411.8 118.81 L412.3 118.74 L412.8 118.71 L413.3 118.62 L413.8 118.78 L414.3 118.67 L414.8 119.32 L415.3 119.03 L415.8 118.72 L416.3 118.94 L416.8 118.78 L417.3 119.35 L417.8 119.13 L418.3 119.32 L418.8 119.15 L419.3 119.18 L419.8 119.62 L420.3 119.55 L420.8 119.59 L421.3 119.3 L421.8 119.48 L422.3 119.88 L422.8 119.63 L423.3 120 L423.8 119.83 L424.3 120.1 L424.8 120.2 L425.3 119.88 L425.8 120.19 L426.3 120.22 L426.8 119.97 L427.3 120.04 L427.8 120.27 L428.3 120.04 L428.8 120.19 L429.3 120.13 L429.8 120.28 L430.3 119.98 L430.8 120.04 L431.3 119.88 L431.8 119.86 L432.3 120.06 L432.8 119.97 L433.3 120 L433.8 119.95 L434.3 119.92 L434.8 119.72 L435.3 119.46 L435.8 119.74 L436.3 119.23 L436.8 119.35 L437.3 119.27 L437.8 118.8 L438.3 118.92 L438.8 118.93 L439.3 118.72 L439.8 118.48 L440.3 118.87 L440.8 118.19 L441.3 118.82 L441.8 118.29 L442.3 118.21 L442.8 118.77 L443.3 118.22 L443.8 118.49 L444.3 118.34 L444.8 118.75 L445.3 118.74 L445.8 118.66 L446.3 118.13 L446.8 118.64 L447.3 118.19 L447.8 117.96 L448.3 117.74 L448.8 117.8 L449.3 117.34 L449.8 116.75 L450.3 116.12 L450.8 116.21 L451.3 115.53 L451.8 115.46 L452.3 115.63 L452.8 116.48 L453.3 115.96 L453.8 116.39 L454.3 115.82 L454.8 115.1 L455.3 114.3 L455.8 114.13 L456.3 113.25 L456.8 113.22 L457.3 113.22 L457.8 113.12 L458.3 113.16 L458.8 113.14 L459.3 112.94 L459.8 112.3 L460.3 111.71 L460.8 111.86 L461.3 111.45 L461.8 110.24 L462.3 109.96 L462.8 109.45 L463.3 108.93 L463.8 107.96 L464.3 107.04 L464.8 106.55 L465.3 105.9 L465.8 105.6 L466.3 104.61 L466.8 105.06 L467.3 104.94 L467.8 105.03 L468.3 105.73 L468.8 105.18 L469.3 104.52 L469.8 104 L470.3 103.09 L470.8 102.86 L471.3 102.2 L471.8 102.42 L472.3 102.43 L472.8 103.57 L473.3 104.25 L473.8 104.47 L474.3 104.87 L474.8 104.82 L475.3 105.21 L475.8 105.47 L476.3 105.65 L476.8 106.26 L477.3 106.9 L477.8 107.36 L478.3 108.11 L478.8 108.53 L479.3 108.78 L479.8 109.54 L480.3 110.51 L480.8 111.29 L481.3 112.01 L481.8 112.59 L482.3 112.81 L482.8 112.78 L483.3 113 L483.8 113.6 L484.3 113.5 L484.8 113.65 L485.3 113.79 L485.8 113.78 L486.3 113.58 L486.8 113.67 L487.3 113.23 L487.8 113.39 L488.3 113.18 L488.8 112.95 L489.3 112.99 L489.8 113.26 L490.3 112.81 L490.8 113.03 L491.3 113.11 L491.8 113.56 L492.3 113.24 L492.8 113.53 L493.3 113.37 L493.8 113.73 L494.3 113.79 L494.8 114.27 L495.3 114.59 L495.8 115.38 L496.3 115.65 L496.8 116.05 L497.3 116.4 L497.8 117.15 L498.3 117.19 L498.8 117.52 L499.3 117.99 L499.8 118.13 L500.3 118.42 L500.8 118.97 L501.3 119.21 L501.8 119.68 L502.3 119.54 L502.8 119.75 L503.3 120.16 L503.8 120.28 L504.3 120.43 L504.8 120.57 L505.3 120.78 L505.8 120.79 L506.3 120.89 L506.8 120.96 L507.3 121.03 L507.8 121.07 L508.3 121.1 L508.8 121.11 L509.3 121.11 L509.8 121.14 L510.3 121.14 L510.8 121.14 L511.3 121.14 L511.8 121.15 L512.3 121.15 L512.8 121.15 L513.3 121.17 L513.8 121.16 L514.3 121.17 L514.8 121.18 L515.3 121.18 L515.8 121.18 L516.3 121.18 L516.8 121.18 L517.3 121.19 L517.8 121.19 L518.3 121.19 L518.8 121.19 L519.3 121.19 L519.8 121.19 L520.3 121.19 L520.8 121.19 L521.3 121.19 L521.8 121.2 L522.3 121.2 L522.8 121.2 L523.3 121.2 L523.8 121.2 L524.3 121.2 L524.8 121.2 L525.3 121.2 L525.8 121.2 L526.3 121.2 L526.8 121.2 L527.3 121.2 L527.8 121.2 L528.3 121.2 L528.8 121.2 L529.3 121.2 L529.8 121.2 L530.3 121.2 L530.8 121.2 L531.3 121.2 L531.8 121.2 L532.3 121.2 L532.8 121.2 L533.3 121.2 L533.8 121.2" fill="none" stroke="#36b2e2" stroke-width="1" stroke-opacity="0.85"/>
<path d="M448.8 117.8 L449.3 117.34 L449.8 116.75 L450.3 116.12 L450.8 116.21 L451.3 115.53 L451.8 115.46 L452.3 115.63 L452.8 116.48 L453.3 115.96 L453.8 116.39 L454.3 115.82 L454.8 115.1 L455.3 114.3 L455.8 114.13 L456.3 113.25 L456.8 113.22 L457.3 113.22 L457.8 113.12 L458.3 113.16 L458.8 113.14 L459.3 112.94 L459.8 112.3 L460.3 111.71 L460.8 111.86 L461.3 111.45 L461.8 110.24 L462.3 109.96 L462.8 109.45 L463.3 108.93 L463.8 107.96 L464.3 107.04 L464.8 106.55 L465.3 105.9 L465.8 105.6 L466.3 104.61 L466.8 105.06 L467.3 104.94 L467.8 105.03 L468.3 105.73 L468.8 105.18 L469.3 104.52 L469.8 104 L470.3 103.09 L470.8 102.86 L471.3 102.2 L471.8 102.42 L472.3 102.43 L472.8 103.57 L473.3 104.25 L473.8 104.47 L474.3 104.87 L474.8 104.82 L475.3 105.21 L475.8 105.47 L476.3 105.65 L476.8 106.26 L477.3 106.9 L477.8 107.36 L478.3 108.11 L478.8 108.53 L479.3 108.78 L479.8 109.54 L480.3 110.51 L480.8 111.29 L481.3 112.01 L481.8 112.59 L482.3 112.81 L482.8 112.78 L483.3 113 L483.8 113.6 L484.3 113.5 L484.8 113.65 L485.3 113.79 L485.8 113.78 L486.3 113.58 L486.8 113.67 L487.3 113.23 L487.8 113.39 L488.3 113.18 L488.8 112.95 L489.3 112.99 L489.8 113.26 L490.3 112.81 L490.8 113.03 L491.3 113.11 L491.8 113.56 L492.3 113.24 L492.8 113.53 L493.3 113.37 L493.8 113.73 L494.3 113.79 L494.8 114.27 L495.3 114.59 L495.8 115.38 L496.3 115.65 L496.8 116.05 L497.3 116.4 L497.8 117.15 L498.3 117.19 L498.8 117.52 L499.3 117.99" fill="none" stroke="#36b2e2" stroke-width="0.95" stroke-linejoin="round" stroke-linecap="round"/>
<rect x="409.9" y="94.7" width="1.3" height="26.5" fill="#36b2e2" stroke="none" stroke-width="1"/>
<rect x="411.2" y="118.9" width="0.8" height="2.3" fill="#c5e5f6" stroke="none" stroke-width="1"/>
<path d="M411.8 145.09 L412.3 145.12 L412.8 145.41 L413.3 145.63 L413.8 145.85 L414.3 145.52 L414.8 145.7 L415.3 145.57 L415.8 145.81 L416.3 145.62 L416.8 145.9 L417.3 145.64 L417.8 145.7 L418.3 145.88 L418.8 145.83 L419.3 145.78 L419.8 146.04 L420.3 145.89 L420.8 145.8 L421.3 146.08 L421.8 145.86 L422.3 145.95 L422.8 145.91 L423.3 146.16 L423.8 146.29 L424.3 146.04 L424.8 146.07 L425.3 146.24 L425.8 146.4 L426.3 146.39 L426.8 146.27 L427.3 146.41 L427.8 146.23 L428.3 146.38 L428.8 146.53 L429.3 146.42 L429.8 146.53 L430.3 146.4 L430.8 146.43 L431.3 146.57 L431.8 146.56 L432.3 146.58 L432.8 146.58 L433.3 146.57 L433.8 146.79 L434.3 146.73 L434.8 146.68 L435.3 146.74 L435.8 146.67 L436.3 146.76 L436.8 146.56 L437.3 146.61 L437.8 146.68 L438.3 146.51 L438.8 146.56 L439.3 146.56 L439.8 146.42 L440.3 146.49 L440.8 146.42 L441.3 146.13 L441.8 146.12 L442.3 146.33 L442.8 145.94 L443.3 146.21 L443.8 146 L444.3 145.65 L444.8 145.73 L445.3 145.84 L445.8 145.74 L446.3 145.67 L446.8 145.77 L447.3 145.17 L447.8 145.73 L448.3 145.43 L448.8 145.13 L449.3 145.29 L449.8 144.78 L450.3 145.19 L450.8 144.56 L451.3 144.49 L451.8 144.51 L452.3 144.22 L452.8 144.37 L453.3 143.94 L453.8 143.81 L454.3 143.84 L454.8 143.69 L455.3 143.34 L455.8 143.36 L456.3 143.41 L456.8 142.77 L457.3 142.94 L457.8 142.64 L458.3 142.3 L458.8 142.63 L459.3 142.66 L459.8 142.51 L460.3 142.12 L460.8 142.21 L461.3 142.19 L461.8 141.95 L462.3 141.49 L462.8 141.8 L463.3 141.49 L463.8 140.93 L464.3 140.85 L464.8 140.83 L465.3 140.41 L465.8 140.14 L466.3 140.14 L466.8 139.76 L467.3 139.64 L467.8 139.16 L468.3 139.4 L468.8 139.1 L469.3 138.84 L469.8 138.84 L470.3 139.19 L470.8 138.99 L471.3 139.14 L471.8 139.01 L472.3 138.84 L472.8 138.48 L473.3 138.21 L473.8 138.48 L474.3 138.5 L474.8 138.01 L475.3 138.13 L475.8 138.03 L476.3 137.43 L476.8 137.88 L477.3 137.73 L477.8 138.44 L478.3 138.46 L478.8 138.67 L479.3 139.05 L479.8 138.71 L480.3 138.07 L480.8 138.41 L481.3 138.73 L481.8 138.73 L482.3 138.99 L482.8 139.51 L483.3 139.82 L483.8 140.32 L484.3 140.39 L484.8 140.82 L485.3 140.76 L485.8 141.04 L486.3 141.63 L486.8 141.52 L487.3 142.1 L487.8 142.3 L488.3 142.12 L488.8 142.43 L489.3 142.29 L489.8 142.62 L490.3 142.68 L490.8 143.16 L491.3 142.7 L491.8 143.21 L492.3 142.81 L492.8 142.55 L493.3 142.5 L493.8 142.44 L494.3 142.7 L494.8 142.49 L495.3 142.4 L495.8 142.86 L496.3 142.3 L496.8 142.34 L497.3 142.69 L497.8 142.48 L498.3 142.74 L498.8 142.89 L499.3 142.62 L499.8 143.12 L500.3 142.64 L500.8 142.57 L501.3 143.1 L501.8 142.69 L502.3 143.38 L502.8 142.96 L503.3 143.49 L503.8 143.15 L504.3 143.65 L504.8 143.43 L505.3 144.15 L505.8 144.17 L506.3 143.69 L506.8 143.81 L507.3 143.84 L507.8 144.14 L508.3 143.97 L508.8 143.76 L509.3 143.91 L509.8 143.18 L510.3 143.28 L510.8 143.07 L511.3 143.15 L511.8 143.3 L512.3 143.39 L512.8 142.85 L513.3 143.23 L513.8 142.91 L514.3 143 L514.8 143.07 L515.3 143.54 L515.8 143.8 L516.3 143.78 L516.8 144.44 L517.3 144.39 L517.8 144.93 L518.3 145.05 L518.8 145.26 L519.3 144.98 L519.8 144.74 L520.3 143.73 L520.8 142.36 L521.3 141.04 L521.8 140.56 L522.3 141.96 L522.8 143.67 L523.3 145 L523.8 146.51 L524.3 147.3 L524.8 147.3 L525.3 147.3 L525.8 147.3 L526.3 147.3 L526.8 147.3 L527.3 147.3 L527.8 147.3 L528.3 147.3 L528.8 147.3 L529.3 147.3 L529.8 147.3 L530.3 147.3 L530.8 147.3 L531.3 147.3 L531.8 147.3 L532.3 147.3 L532.8 147.3 L533.3 147.3 L533.8 147.3 L534 147.3 L411.8 147.3 Z" fill="#d9ebc4" stroke="none"/>
<path d="M411.8 145.09 L412.3 145.12 L412.8 145.41 L413.3 145.63 L413.8 145.85 L414.3 145.52 L414.8 145.7 L415.3 145.57 L415.8 145.81 L416.3 145.62 L416.8 145.9 L417.3 145.64 L417.8 145.7 L418.3 145.88 L418.8 145.83 L419.3 145.78 L419.8 146.04 L420.3 145.89 L420.8 145.8 L421.3 146.08 L421.8 145.86 L422.3 145.95 L422.8 145.91 L423.3 146.16 L423.8 146.29 L424.3 146.04 L424.8 146.07 L425.3 146.24 L425.8 146.4 L426.3 146.39 L426.8 146.27 L427.3 146.41 L427.8 146.23 L428.3 146.38 L428.8 146.53 L429.3 146.42 L429.8 146.53 L430.3 146.4 L430.8 146.43 L431.3 146.57 L431.8 146.56 L432.3 146.58 L432.8 146.58 L433.3 146.57 L433.8 146.79 L434.3 146.73 L434.8 146.68 L435.3 146.74 L435.8 146.67 L436.3 146.76 L436.8 146.56 L437.3 146.61 L437.8 146.68 L438.3 146.51 L438.8 146.56 L439.3 146.56 L439.8 146.42 L440.3 146.49 L440.8 146.42 L441.3 146.13 L441.8 146.12 L442.3 146.33 L442.8 145.94 L443.3 146.21 L443.8 146 L444.3 145.65 L444.8 145.73 L445.3 145.84 L445.8 145.74 L446.3 145.67 L446.8 145.77 L447.3 145.17 L447.8 145.73 L448.3 145.43 L448.8 145.13 L449.3 145.29 L449.8 144.78 L450.3 145.19 L450.8 144.56 L451.3 144.49 L451.8 144.51 L452.3 144.22 L452.8 144.37 L453.3 143.94 L453.8 143.81 L454.3 143.84 L454.8 143.69 L455.3 143.34 L455.8 143.36 L456.3 143.41 L456.8 142.77 L457.3 142.94 L457.8 142.64 L458.3 142.3 L458.8 142.63 L459.3 142.66 L459.8 142.51 L460.3 142.12 L460.8 142.21 L461.3 142.19 L461.8 141.95 L462.3 141.49 L462.8 141.8 L463.3 141.49 L463.8 140.93 L464.3 140.85 L464.8 140.83 L465.3 140.41 L465.8 140.14 L466.3 140.14 L466.8 139.76 L467.3 139.64 L467.8 139.16 L468.3 139.4 L468.8 139.1 L469.3 138.84 L469.8 138.84 L470.3 139.19 L470.8 138.99 L471.3 139.14 L471.8 139.01 L472.3 138.84 L472.8 138.48 L473.3 138.21 L473.8 138.48 L474.3 138.5 L474.8 138.01 L475.3 138.13 L475.8 138.03 L476.3 137.43 L476.8 137.88 L477.3 137.73 L477.8 138.44 L478.3 138.46 L478.8 138.67 L479.3 139.05 L479.8 138.71 L480.3 138.07 L480.8 138.41 L481.3 138.73 L481.8 138.73 L482.3 138.99 L482.8 139.51 L483.3 139.82 L483.8 140.32 L484.3 140.39 L484.8 140.82 L485.3 140.76 L485.8 141.04 L486.3 141.63 L486.8 141.52 L487.3 142.1 L487.8 142.3 L488.3 142.12 L488.8 142.43 L489.3 142.29 L489.8 142.62 L490.3 142.68 L490.8 143.16 L491.3 142.7 L491.8 143.21 L492.3 142.81 L492.8 142.55 L493.3 142.5 L493.8 142.44 L494.3 142.7 L494.8 142.49 L495.3 142.4 L495.8 142.86 L496.3 142.3 L496.8 142.34 L497.3 142.69 L497.8 142.48 L498.3 142.74 L498.8 142.89 L499.3 142.62 L499.8 143.12 L500.3 142.64 L500.8 142.57 L501.3 143.1 L501.8 142.69 L502.3 143.38 L502.8 142.96 L503.3 143.49 L503.8 143.15 L504.3 143.65 L504.8 143.43 L505.3 144.15 L505.8 144.17 L506.3 143.69 L506.8 143.81 L507.3 143.84 L507.8 144.14 L508.3 143.97 L508.8 143.76 L509.3 143.91 L509.8 143.18 L510.3 143.28 L510.8 143.07 L511.3 143.15 L511.8 143.3 L512.3 143.39 L512.8 142.85 L513.3 143.23 L513.8 142.91 L514.3 143 L514.8 143.07 L515.3 143.54 L515.8 143.8 L516.3 143.78 L516.8 144.44 L517.3 144.39 L517.8 144.93 L518.3 145.05 L518.8 145.26 L519.3 144.98 L519.8 144.74 L520.3 143.73 L520.8 142.36 L521.3 141.04 L521.8 140.56 L522.3 141.96 L522.8 143.67 L523.3 145 L523.8 146.51 L524.3 147.3 L524.8 147.3 L525.3 147.3 L525.8 147.3 L526.3 147.3 L526.8 147.3 L527.3 147.3 L527.8 147.3 L528.3 147.3 L528.8 147.3 L529.3 147.3 L529.8 147.3 L530.3 147.3 L530.8 147.3 L531.3 147.3 L531.8 147.3 L532.3 147.3 L532.8 147.3 L533.3 147.3 L533.8 147.3" fill="none" stroke="#7cbf44" stroke-width="1" stroke-opacity="0.85"/>
<path d="M455.8 143.36 L456.3 143.41 L456.8 142.77 L457.3 142.94 L457.8 142.64 L458.3 142.3 L458.8 142.63 L459.3 142.66 L459.8 142.51 L460.3 142.12 L460.8 142.21 L461.3 142.19 L461.8 141.95 L462.3 141.49 L462.8 141.8 L463.3 141.49 L463.8 140.93 L464.3 140.85 L464.8 140.83 L465.3 140.41 L465.8 140.14 L466.3 140.14 L466.8 139.76 L467.3 139.64 L467.8 139.16 L468.3 139.4 L468.8 139.1 L469.3 138.84 L469.8 138.84 L470.3 139.19 L470.8 138.99 L471.3 139.14 L471.8 139.01 L472.3 138.84 L472.8 138.48 L473.3 138.21 L473.8 138.48 L474.3 138.5 L474.8 138.01 L475.3 138.13 L475.8 138.03 L476.3 137.43 L476.8 137.88 L477.3 137.73 L477.8 138.44 L478.3 138.46 L478.8 138.67 L479.3 139.05 L479.8 138.71 L480.3 138.07 L480.8 138.41 L481.3 138.73 L481.8 138.73 L482.3 138.99 L482.8 139.51 L483.3 139.82 L483.8 140.32 L484.3 140.39 L484.8 140.82 L485.3 140.76 L485.8 141.04 L486.3 141.63 L486.8 141.52 L487.3 142.1 L487.8 142.3 L488.3 142.12 L488.8 142.43 L489.3 142.29 L489.8 142.62 L490.3 142.68 L490.8 143.16 L491.3 142.7 L491.8 143.21 L492.3 142.81 L492.8 142.55 L493.3 142.5 L493.8 142.44 L494.3 142.7 L494.8 142.49 L495.3 142.4 L495.8 142.86 L496.3 142.3 L496.8 142.34 L497.3 142.69 L497.8 142.48 L498.3 142.74 L498.8 142.89 L499.3 142.62 L499.8 143.12 L500.3 142.64 L500.8 142.57 L501.3 143.1 L501.8 142.69 L502.3 143.38 L502.8 142.96 L503.3 143.49 L503.8 143.15 L504.3 143.65 L504.8 143.43" fill="none" stroke="#7cbf44" stroke-width="0.95" stroke-linejoin="round" stroke-linecap="round"/>
<path d="M508.8 143.76 L509.3 143.91 L509.8 143.18 L510.3 143.28 L510.8 143.07 L511.3 143.15 L511.8 143.3 L512.3 143.39 L512.8 142.85 L513.3 143.23 L513.8 142.91 L514.3 143 L514.8 143.07 L515.3 143.54 L515.8 143.8" fill="none" stroke="#7cbf44" stroke-width="0.95" stroke-linejoin="round" stroke-linecap="round"/>
<path d="M519.8 144.74 L520.3 143.73 L520.8 142.36 L521.3 141.04 L521.8 140.56 L522.3 141.96 L522.8 143.67 L523.3 145" fill="none" stroke="#7cbf44" stroke-width="0.95" stroke-linejoin="round" stroke-linecap="round"/>
<rect x="409.9" y="121.4" width="1.3" height="25.9" fill="#7cbf44" stroke="none" stroke-width="1"/>
<rect x="411.2" y="145.3" width="0.8" height="2" fill="#d9ebc4" stroke="none" stroke-width="1"/>
<line x1="413.3" y1="147.6" x2="413.3" y2="149.3" stroke="#666" stroke-width="0.75"/>
<line x1="417.6" y1="147.6" x2="417.6" y2="149.3" stroke="#666" stroke-width="0.75"/>
<rect x="422" y="148.4" width="12" height="1.3" fill="#000" stroke="none" stroke-width="1"/>
<line x1="422.6" y1="147.6" x2="422.6" y2="151.2" stroke="#000" stroke-width="1"/>
<line x1="424.2" y1="147.6" x2="424.2" y2="150.3" stroke="#000" stroke-width="1"/>
<line x1="425.6" y1="147.6" x2="425.6" y2="150.3" stroke="#000" stroke-width="1"/>
<line x1="427.3" y1="147.6" x2="427.3" y2="151.2" stroke="#000" stroke-width="1"/>
<line x1="428.8" y1="147.6" x2="428.8" y2="150.3" stroke="#000" stroke-width="1"/>
<line x1="430.2" y1="147.6" x2="430.2" y2="151.2" stroke="#000" stroke-width="1"/>
<line x1="431.8" y1="147.6" x2="431.8" y2="150.3" stroke="#000" stroke-width="1"/>
<line x1="433.6" y1="147.6" x2="433.6" y2="151.2" stroke="#000" stroke-width="1"/>
<line x1="438.4" y1="147.6" x2="438.4" y2="149.3" stroke="#666" stroke-width="0.75"/>
<line x1="442.7" y1="147.6" x2="442.7" y2="149.3" stroke="#666" stroke-width="0.75"/>
<line x1="446.2" y1="147.6" x2="446.2" y2="149.3" stroke="#666" stroke-width="0.75"/>
<line x1="449.5" y1="147.6" x2="449.5" y2="149.3" stroke="#666" stroke-width="0.75"/>
<line x1="452.3" y1="147.6" x2="452.3" y2="149.3" stroke="#666" stroke-width="0.75"/>
<line x1="454.5" y1="147.6" x2="454.5" y2="149.3" stroke="#666" stroke-width="0.75"/>
<line x1="456.4" y1="147.6" x2="456.4" y2="149.3" stroke="#666" stroke-width="0.75"/>
<text x="430.2" y="157.3" font-family='"Liberation Sans", sans-serif' font-size="4" font-weight="normal" font-style="normal" text-anchor="middle" fill="#666" stroke="#666" stroke-width="0.18">0</text>
<line x1="457.9" y1="147.6" x2="457.9" y2="150.9" stroke="#000" stroke-width="1.4"/>
<text x="458.5" y="157.5" font-family='"Liberation Sans", sans-serif' font-size="4.6" font-weight="normal" font-style="normal" text-anchor="start" fill="#444" stroke="#444" stroke-width="0.18" textLength="4" lengthAdjust="spacingAndGlyphs">10</text>
<text x="462.8" y="154.9" font-family='"Liberation Sans", sans-serif' font-size="3.9" font-weight="normal" font-style="normal" text-anchor="start" fill="#444" stroke="#444" stroke-width="0.18">3</text>
<line x1="466.18" y1="147.6" x2="466.18" y2="149.3" stroke="#666" stroke-width="0.75"/>
<line x1="471.02" y1="147.6" x2="471.02" y2="149.3" stroke="#666" stroke-width="0.75"/>
<line x1="474.46" y1="147.6" x2="474.46" y2="149.3" stroke="#666" stroke-width="0.75"/>
<line x1="477.12" y1="147.6" x2="477.12" y2="149.3" stroke="#666" stroke-width="0.75"/>
<line x1="479.3" y1="147.6" x2="479.3" y2="149.3" stroke="#666" stroke-width="0.75"/>
<line x1="481.14" y1="147.6" x2="481.14" y2="149.3" stroke="#666" stroke-width="0.75"/>
<line x1="482.73" y1="147.6" x2="482.73" y2="149.3" stroke="#666" stroke-width="0.75"/>
<line x1="484.14" y1="147.6" x2="484.14" y2="149.3" stroke="#666" stroke-width="0.75"/>
<line x1="485.4" y1="147.6" x2="485.4" y2="150.9" stroke="#000" stroke-width="1.4"/>
<text x="486" y="157.5" font-family='"Liberation Sans", sans-serif' font-size="4.6" font-weight="normal" font-style="normal" text-anchor="start" fill="#444" stroke="#444" stroke-width="0.18" textLength="4" lengthAdjust="spacingAndGlyphs">10</text>
<text x="490.3" y="154.9" font-family='"Liberation Sans", sans-serif' font-size="3.9" font-weight="normal" font-style="normal" text-anchor="start" fill="#444" stroke="#444" stroke-width="0.18">4</text>
<line x1="492.99" y1="147.6" x2="492.99" y2="149.3" stroke="#666" stroke-width="0.75"/>
<line x1="497.42" y1="147.6" x2="497.42" y2="149.3" stroke="#666" stroke-width="0.75"/>
<line x1="500.57" y1="147.6" x2="500.57" y2="149.3" stroke="#666" stroke-width="0.75"/>
<line x1="503.01" y1="147.6" x2="503.01" y2="149.3" stroke="#666" stroke-width="0.75"/>
<line x1="505.01" y1="147.6" x2="505.01" y2="149.3" stroke="#666" stroke-width="0.75"/>
<line x1="506.7" y1="147.6" x2="506.7" y2="149.3" stroke="#666" stroke-width="0.75"/>
<line x1="508.16" y1="147.6" x2="508.16" y2="149.3" stroke="#666" stroke-width="0.75"/>
<line x1="509.45" y1="147.6" x2="509.45" y2="149.3" stroke="#666" stroke-width="0.75"/>
<line x1="510.6" y1="147.6" x2="510.6" y2="150.9" stroke="#000" stroke-width="1.4"/>
<text x="511.2" y="157.5" font-family='"Liberation Sans", sans-serif' font-size="4.6" font-weight="normal" font-style="normal" text-anchor="start" fill="#444" stroke="#444" stroke-width="0.18" textLength="4" lengthAdjust="spacingAndGlyphs">10</text>
<text x="515.5" y="154.9" font-family='"Liberation Sans", sans-serif' font-size="3.9" font-weight="normal" font-style="normal" text-anchor="start" fill="#444" stroke="#444" stroke-width="0.18">5</text>
<line x1="518.19" y1="147.6" x2="518.19" y2="149.3" stroke="#666" stroke-width="0.75"/>
<line x1="522.62" y1="147.6" x2="522.62" y2="149.3" stroke="#666" stroke-width="0.75"/>
<line x1="525.77" y1="147.6" x2="525.77" y2="149.3" stroke="#666" stroke-width="0.75"/>
<line x1="528.21" y1="147.6" x2="528.21" y2="149.3" stroke="#666" stroke-width="0.75"/>
<line x1="530.21" y1="147.6" x2="530.21" y2="149.3" stroke="#666" stroke-width="0.75"/>
<line x1="531.9" y1="147.6" x2="531.9" y2="149.3" stroke="#666" stroke-width="0.75"/>
<line x1="533.36" y1="147.6" x2="533.36" y2="149.3" stroke="#666" stroke-width="0.75"/>
<text x="472.2" y="169" font-family='"Liberation Sans", sans-serif' font-size="4.8" font-weight="normal" font-style="normal" text-anchor="middle" fill="#777" stroke="#777" stroke-width="0.18" textLength="11.5" lengthAdjust="spacing">FITC</text>
<line x1="408.4" y1="179.6" x2="535.3" y2="179.6" stroke="#c8c8c8" stroke-width="1"/>
<line x1="535.3" y1="179.6" x2="535.3" y2="287" stroke="#c8c8c8" stroke-width="1"/>
<line x1="408.4" y1="179.6" x2="408.4" y2="287" stroke="#b8b8b8" stroke-width="1.1"/>
<path d="M408.9 206.3 L409.15 206.3 L409.4 206.3 L409.65 206.3 L409.9 206.3 L410.15 206.3 L410.4 206.3 L410.65 206.3 L410.9 206.3 L411.15 206.3 L411.4 206.3 L411.65 206.3 L411.9 206.3 L412.15 206.3 L412.4 206.3 L412.65 206.3 L412.9 206.3 L413.15 206.3 L413.4 206.3 L413.65 206.3 L413.9 206.3 L414.15 206.3 L414.4 206.3 L414.65 206.3 L414.9 206.3 L415.15 206.3 L415.4 206.3 L415.65 206.3 L415.9 206.3 L416.15 206.3 L416.4 206.3 L416.65 206.3 L416.9 206.3 L417.15 206.3 L417.4 206.3 L417.65 206.3 L417.9 206.3 L418.15 206.3 L418.4 206.3 L418.65 206.3 L418.9 206.3 L419.15 206.3 L419.4 206.3 L419.65 206.3 L419.9 206.3 L420.15 206.3 L420.4 206.3 L420.65 206.3 L420.9 206.3 L421.15 206.3 L421.4 206.3 L421.65 206.28 L421.9 206.23 L422.15 206.16 L422.4 206.06 L422.65 205.92 L422.9 205.79 L423.15 205.29 L423.4 204.4 L423.65 203.27 L423.9 201.79 L424.15 199.91 L424.4 197.57 L424.65 194.85 L424.9 192.16 L425.15 189.72 L425.4 187.1 L425.65 184.92 L425.9 183.1 L426.15 181.51 L426.4 180.57 L426.65 181.05 L426.9 183.29 L427.15 186.21 L427.4 190.3 L427.65 193.34 L427.9 196.84 L428.15 199.84 L428.4 202.09 L428.65 203.36 L428.9 204.06 L429.15 204.3 L429.4 204.41 L429.65 204.44 L429.9 204.47 L430.15 204.55 L430.4 204.61 L430.65 204.67 L430.9 204.72 L431.15 204.78 L431.4 204.83 L431.65 204.87 L431.9 204.91 L432.15 204.96 L432.4 205.01 L432.65 205.05 L432.9 205.1 L433.15 205.15 L433.4 205.2 L433.65 205.24 L433.9 205.28 L434.15 205.32 L434.4 205.36 L434.65 205.4 L434.9 205.44 L435.15 205.48 L435.4 205.51 L435.65 205.55 L435.9 205.58 L436.15 205.62 L436.4 205.65 L436.65 205.68 L436.9 205.71 L437.15 205.73 L437.4 205.75 L437.65 205.77 L437.9 205.79 L438.15 205.81 L438.4 205.83 L438.65 205.84 L438.9 205.86 L439.15 205.88 L439.4 205.9 L439.65 205.91 L439.9 205.93 L440.15 205.95 L440.4 205.96 L440.65 205.98 L440.9 205.99 L441.15 206.01 L441.4 206.02 L441.65 206.04 L441.9 206.05 L442.15 206.07 L442.4 206.08 L442.65 206.09 L442.9 206.11 L443.15 206.12 L443.4 206.13 L443.65 206.14 L443.9 206.15 L444.15 206.17 L444.4 206.18 L444.65 206.19 L444.9 206.2 L445.15 206.2 L445.4 206.21 L445.65 206.22 L445.9 206.23 L446.15 206.23 L446.4 206.24 L446.65 206.24 L446.9 206.25 L447.15 206.26 L447.4 206.26 L447.65 206.27 L447.9 206.27 L448.15 206.27 L448.4 206.28 L448.65 206.28 L448.9 206.29 L449.15 206.29 L449.4 206.29 L449.65 206.3 L449.9 206.3 L450.15 206.3 L450.4 206.3 L450.65 206.3 L450.9 206.3 L451.15 206.3 L451.4 206.3 L451.65 206.3 L451.9 206.3 L452.15 206.3 L452.4 206.3 L452.65 206.3 L452.9 206.3 L453.15 206.3 L453.4 206.3 L453.65 206.3 L453.9 206.3 L454.15 206.3 L454.4 206.3 L454.65 206.3 L454.9 206.3 L455.15 206.3 L455.4 206.3 L455.65 206.3 L455.9 206.3 L456.15 206.3 L456.4 206.3 L456.65 206.3 L456.9 206.3 L457.15 206.3 L457.4 206.3 L457.65 206.3 L457.9 206.3 L458.15 206.3 L458.4 206.3 L458.65 206.3 L458.9 206.3 L459.15 206.3 L459.4 206.3 L459.65 206.3 L459.9 206.3 L460.15 206.3 L460.4 206.3 L460.65 206.3 L460.9 206.3 L461.15 206.3 L461.4 206.3 L461.65 206.3 L461.9 206.3 L462.15 206.3 L462.4 206.3 L462.65 206.3 L462.9 206.3 L463.15 206.3 L463.4 206.3 L463.65 206.3 L463.9 206.3 L464.15 206.3 L464.4 206.3 L464.65 206.3 L464.9 206.3 L465.15 206.3 L465.4 206.3 L465.65 206.3 L465.9 206.3 L466.15 206.3 L466.4 206.3 L466.65 206.3 L466.9 206.3 L467.15 206.3 L467.4 206.3 L467.65 206.3 L467.9 206.3 L468.15 206.3 L468.4 206.3 L468.65 206.3 L468.9 206.3 L469.15 206.3 L469.4 206.3 L469.65 206.3 L469.9 206.3 L470.15 206.3 L470.4 206.3 L470.65 206.3 L470.9 206.3 L471.15 206.3 L471.4 206.3 L471.65 206.3 L471.9 206.3 L472.15 206.3 L472.4 206.3 L472.65 206.3 L472.9 206.3 L473.15 206.3 L473.4 206.3 L473.65 206.3 L473.9 206.3 L474.15 206.3 L474.4 206.3 L474.65 206.3 L474.9 206.3 L475.15 206.3 L475.4 206.3 L475.65 206.3 L475.9 206.3 L476.15 206.3 L476.4 206.3 L476.65 206.3 L476.9 206.3 L477.15 206.3 L477.4 206.3 L477.65 206.3 L477.9 206.3 L478.15 206.3 L478.4 206.3 L478.65 206.3 L478.9 206.3 L479.15 206.3 L479.4 206.3 L479.65 206.3 L479.9 206.3 L480.15 206.3 L480.4 206.3 L480.65 206.3 L480.9 206.3 L481.15 206.3 L481.4 206.3 L481.65 206.3 L481.9 206.3 L482.15 206.3 L482.4 206.3 L482.65 206.3 L482.9 206.3 L483.15 206.3 L483.4 206.3 L483.65 206.3 L483.9 206.3 L484.15 206.3 L484.4 206.3 L484.65 206.3 L484.9 206.3 L485.15 206.3 L485.4 206.3 L485.65 206.3 L485.9 206.3 L486.15 206.3 L486.4 206.3 L486.65 206.3 L486.9 206.3 L487.15 206.3 L487.4 206.3 L487.65 206.3 L487.9 206.3 L488.15 206.3 L488.4 206.3 L488.65 206.3 L488.9 206.3 L489.15 206.3 L489.4 206.3 L489.65 206.3 L489.9 206.3 L490.15 206.3 L490.4 206.3 L490.65 206.3 L490.9 206.3 L491.15 206.3 L491.4 206.3 L491.65 206.3 L491.9 206.3 L492.15 206.3 L492.4 206.3 L492.65 206.3 L492.9 206.3 L493.15 206.3 L493.4 206.3 L493.65 206.3 L493.9 206.3 L494.15 206.3 L494.4 206.3 L494.65 206.3 L494.9 206.3 L495.15 206.3 L495.4 206.3 L495.65 206.3 L495.9 206.3 L496.15 206.3 L496.4 206.3 L496.65 206.3 L496.9 206.3 L497.15 206.3 L497.4 206.3 L497.65 206.3 L497.9 206.3 L498.15 206.3 L498.4 206.3 L498.65 206.3 L498.9 206.3 L499.15 206.3 L499.4 206.3 L499.65 206.3 L499.9 206.3 L500.15 206.3 L500.4 206.3 L500.65 206.3 L500.9 206.3 L501.15 206.3 L501.4 206.3 L501.65 206.3 L501.9 206.3 L502.15 206.3 L502.4 206.3 L502.65 206.3 L502.9 206.3 L503.15 206.3 L503.4 206.3 L503.65 206.3 L503.9 206.3 L504.15 206.3 L504.4 206.3 L504.65 206.3 L504.9 206.3 L505.15 206.3 L505.4 206.3 L505.65 206.3 L505.9 206.3 L506.15 206.3 L506.4 206.3 L506.65 206.3 L506.9 206.3 L507.15 206.3 L507.4 206.3 L507.65 206.3 L507.9 206.3 L508.15 206.3 L508.4 206.3 L508.65 206.3 L508.9 206.3 L509.15 206.3 L509.4 206.3 L509.65 206.3 L509.9 206.3 L510.15 206.3 L510.4 206.3 L510.65 206.3 L510.9 206.3 L511.15 206.3 L511.4 206.3 L511.65 206.3 L511.9 206.3 L512.15 206.3 L512.4 206.3 L512.65 206.3 L512.9 206.3 L513.15 206.3 L513.4 206.3 L513.65 206.3 L513.9 206.3 L514.15 206.3 L514.4 206.3 L514.65 206.3 L514.9 206.3 L515.15 206.3 L515.4 206.3 L515.65 206.3 L515.9 206.3 L516.15 206.3 L516.4 206.3 L516.65 206.3 L516.9 206.3 L517.15 206.3 L517.4 206.3 L517.65 206.3 L517.9 206.3 L518.15 206.3 L518.4 206.3 L518.65 206.3 L518.9 206.3 L519.15 206.3 L519.4 206.3 L519.65 206.3 L519.9 206.3 L520.15 206.3 L520.4 206.3 L520.65 206.3 L520.9 206.3 L521.15 206.3 L521.4 206.3 L521.65 206.3 L521.9 206.3 L522.15 206.3 L522.4 206.3 L522.65 206.3 L522.9 206.3 L523.15 206.3 L523.4 206.3 L523.65 206.3 L523.9 206.3 L524.15 206.3 L524.4 206.3 L524.65 206.3 L524.9 206.3 L525.15 206.3 L525.4 206.3 L525.65 206.3 L525.9 206.3 L526.15 206.3 L526.4 206.3 L526.65 206.3 L526.9 206.3 L527.15 206.3 L527.4 206.3 L527.65 206.3 L527.9 206.3 L528.15 206.3 L528.4 206.3 L528.65 206.3 L528.9 206.3 L529.15 206.3 L529.4 206.3 L529.65 206.3 L529.9 206.3 L530.15 206.3 L530.4 206.3 L530.65 206.3 L530.9 206.3 L531.15 206.3 L531.4 206.3 L531.65 206.3 L531.9 206.3 L532.15 206.3 L532.4 206.3 L532.65 206.3 L532.9 206.3 L533.15 206.3 L533.4 206.3 L533.65 206.3 L533.9 206.3 L534.15 206.3 L534.4 206.3 L534.65 206.3 L534.8 206.3 L408.9 206.3 Z" fill="#fcd9b5" stroke="none"/>
<path d="M408.9 206.3 L409.15 206.3 L409.4 206.3 L409.65 206.3 L409.9 206.3 L410.15 206.3 L410.4 206.3 L410.65 206.3 L410.9 206.3 L411.15 206.3 L411.4 206.3 L411.65 206.3 L411.9 206.3 L412.15 206.3 L412.4 206.3 L412.65 206.3 L412.9 206.3 L413.15 206.3 L413.4 206.3 L413.65 206.3 L413.9 206.3 L414.15 206.3 L414.4 206.3 L414.65 206.3 L414.9 206.3 L415.15 206.3 L415.4 206.3 L415.65 206.3 L415.9 206.3 L416.15 206.3 L416.4 206.3 L416.65 206.3 L416.9 206.3 L417.15 206.3 L417.4 206.3 L417.65 206.3 L417.9 206.3 L418.15 206.3 L418.4 206.3 L418.65 206.3 L418.9 206.3 L419.15 206.3 L419.4 206.3 L419.65 206.3 L419.9 206.3 L420.15 206.3 L420.4 206.3 L420.65 206.3 L420.9 206.3 L421.15 206.3 L421.4 206.3 L421.65 206.28 L421.9 206.23 L422.15 206.16 L422.4 206.06 L422.65 205.92 L422.9 205.79 L423.15 205.29 L423.4 204.4 L423.65 203.27 L423.9 201.79 L424.15 199.91 L424.4 197.57 L424.65 194.85 L424.9 192.16 L425.15 189.72 L425.4 187.1 L425.65 184.92 L425.9 183.1 L426.15 181.51 L426.4 180.57 L426.65 181.05 L426.9 183.29 L427.15 186.21 L427.4 190.3 L427.65 193.34 L427.9 196.84 L428.15 199.84 L428.4 202.09 L428.65 203.36 L428.9 204.06 L429.15 204.3 L429.4 204.41 L429.65 204.44 L429.9 204.47 L430.15 204.55 L430.4 204.61 L430.65 204.67 L430.9 204.72 L431.15 204.78 L431.4 204.83 L431.65 204.87 L431.9 204.91 L432.15 204.96 L432.4 205.01 L432.65 205.05 L432.9 205.1 L433.15 205.15 L433.4 205.2 L433.65 205.24 L433.9 205.28 L434.15 205.32 L434.4 205.36 L434.65 205.4 L434.9 205.44 L435.15 205.48 L435.4 205.51 L435.65 205.55 L435.9 205.58 L436.15 205.62 L436.4 205.65 L436.65 205.68 L436.9 205.71 L437.15 205.73 L437.4 205.75 L437.65 205.77 L437.9 205.79 L438.15 205.81 L438.4 205.83 L438.65 205.84 L438.9 205.86 L439.15 205.88 L439.4 205.9 L439.65 205.91 L439.9 205.93 L440.15 205.95 L440.4 205.96 L440.65 205.98 L440.9 205.99 L441.15 206.01 L441.4 206.02 L441.65 206.04 L441.9 206.05 L442.15 206.07 L442.4 206.08 L442.65 206.09 L442.9 206.11 L443.15 206.12 L443.4 206.13 L443.65 206.14 L443.9 206.15 L444.15 206.17 L444.4 206.18 L444.65 206.19 L444.9 206.2 L445.15 206.2 L445.4 206.21 L445.65 206.22 L445.9 206.23 L446.15 206.23 L446.4 206.24 L446.65 206.24 L446.9 206.25 L447.15 206.26 L447.4 206.26 L447.65 206.27 L447.9 206.27 L448.15 206.27 L448.4 206.28 L448.65 206.28 L448.9 206.29 L449.15 206.29 L449.4 206.29 L449.65 206.3 L449.9 206.3 L450.15 206.3 L450.4 206.3 L450.65 206.3 L450.9 206.3 L451.15 206.3 L451.4 206.3 L451.65 206.3 L451.9 206.3 L452.15 206.3 L452.4 206.3 L452.65 206.3 L452.9 206.3 L453.15 206.3 L453.4 206.3 L453.65 206.3 L453.9 206.3 L454.15 206.3 L454.4 206.3 L454.65 206.3 L454.9 206.3 L455.15 206.3 L455.4 206.3 L455.65 206.3 L455.9 206.3 L456.15 206.3 L456.4 206.3 L456.65 206.3 L456.9 206.3 L457.15 206.3 L457.4 206.3 L457.65 206.3 L457.9 206.3 L458.15 206.3 L458.4 206.3 L458.65 206.3 L458.9 206.3 L459.15 206.3 L459.4 206.3 L459.65 206.3 L459.9 206.3 L460.15 206.3 L460.4 206.3 L460.65 206.3 L460.9 206.3 L461.15 206.3 L461.4 206.3 L461.65 206.3 L461.9 206.3 L462.15 206.3 L462.4 206.3 L462.65 206.3 L462.9 206.3 L463.15 206.3 L463.4 206.3 L463.65 206.3 L463.9 206.3 L464.15 206.3 L464.4 206.3 L464.65 206.3 L464.9 206.3 L465.15 206.3 L465.4 206.3 L465.65 206.3 L465.9 206.3 L466.15 206.3 L466.4 206.3 L466.65 206.3 L466.9 206.3 L467.15 206.3 L467.4 206.3 L467.65 206.3 L467.9 206.3 L468.15 206.3 L468.4 206.3 L468.65 206.3 L468.9 206.3 L469.15 206.3 L469.4 206.3 L469.65 206.3 L469.9 206.3 L470.15 206.3 L470.4 206.3 L470.65 206.3 L470.9 206.3 L471.15 206.3 L471.4 206.3 L471.65 206.3 L471.9 206.3 L472.15 206.3 L472.4 206.3 L472.65 206.3 L472.9 206.3 L473.15 206.3 L473.4 206.3 L473.65 206.3 L473.9 206.3 L474.15 206.3 L474.4 206.3 L474.65 206.3 L474.9 206.3 L475.15 206.3 L475.4 206.3 L475.65 206.3 L475.9 206.3 L476.15 206.3 L476.4 206.3 L476.65 206.3 L476.9 206.3 L477.15 206.3 L477.4 206.3 L477.65 206.3 L477.9 206.3 L478.15 206.3 L478.4 206.3 L478.65 206.3 L478.9 206.3 L479.15 206.3 L479.4 206.3 L479.65 206.3 L479.9 206.3 L480.15 206.3 L480.4 206.3 L480.65 206.3 L480.9 206.3 L481.15 206.3 L481.4 206.3 L481.65 206.3 L481.9 206.3 L482.15 206.3 L482.4 206.3 L482.65 206.3 L482.9 206.3 L483.15 206.3 L483.4 206.3 L483.65 206.3 L483.9 206.3 L484.15 206.3 L484.4 206.3 L484.65 206.3 L484.9 206.3 L485.15 206.3 L485.4 206.3 L485.65 206.3 L485.9 206.3 L486.15 206.3 L486.4 206.3 L486.65 206.3 L486.9 206.3 L487.15 206.3 L487.4 206.3 L487.65 206.3 L487.9 206.3 L488.15 206.3 L488.4 206.3 L488.65 206.3 L488.9 206.3 L489.15 206.3 L489.4 206.3 L489.65 206.3 L489.9 206.3 L490.15 206.3 L490.4 206.3 L490.65 206.3 L490.9 206.3 L491.15 206.3 L491.4 206.3 L491.65 206.3 L491.9 206.3 L492.15 206.3 L492.4 206.3 L492.65 206.3 L492.9 206.3 L493.15 206.3 L493.4 206.3 L493.65 206.3 L493.9 206.3 L494.15 206.3 L494.4 206.3 L494.65 206.3 L494.9 206.3 L495.15 206.3 L495.4 206.3 L495.65 206.3 L495.9 206.3 L496.15 206.3 L496.4 206.3 L496.65 206.3 L496.9 206.3 L497.15 206.3 L497.4 206.3 L497.65 206.3 L497.9 206.3 L498.15 206.3 L498.4 206.3 L498.65 206.3 L498.9 206.3 L499.15 206.3 L499.4 206.3 L499.65 206.3 L499.9 206.3 L500.15 206.3 L500.4 206.3 L500.65 206.3 L500.9 206.3 L501.15 206.3 L501.4 206.3 L501.65 206.3 L501.9 206.3 L502.15 206.3 L502.4 206.3 L502.65 206.3 L502.9 206.3 L503.15 206.3 L503.4 206.3 L503.65 206.3 L503.9 206.3 L504.15 206.3 L504.4 206.3 L504.65 206.3 L504.9 206.3 L505.15 206.3 L505.4 206.3 L505.65 206.3 L505.9 206.3 L506.15 206.3 L506.4 206.3 L506.65 206.3 L506.9 206.3 L507.15 206.3 L507.4 206.3 L507.65 206.3 L507.9 206.3 L508.15 206.3 L508.4 206.3 L508.65 206.3 L508.9 206.3 L509.15 206.3 L509.4 206.3 L509.65 206.3 L509.9 206.3 L510.15 206.3 L510.4 206.3 L510.65 206.3 L510.9 206.3 L511.15 206.3 L511.4 206.3 L511.65 206.3 L511.9 206.3 L512.15 206.3 L512.4 206.3 L512.65 206.3 L512.9 206.3 L513.15 206.3 L513.4 206.3 L513.65 206.3 L513.9 206.3 L514.15 206.3 L514.4 206.3 L514.65 206.3 L514.9 206.3 L515.15 206.3 L515.4 206.3 L515.65 206.3 L515.9 206.3 L516.15 206.3 L516.4 206.3 L516.65 206.3 L516.9 206.3 L517.15 206.3 L517.4 206.3 L517.65 206.3 L517.9 206.3 L518.15 206.3 L518.4 206.3 L518.65 206.3 L518.9 206.3 L519.15 206.3 L519.4 206.3 L519.65 206.3 L519.9 206.3 L520.15 206.3 L520.4 206.3 L520.65 206.3 L520.9 206.3 L521.15 206.3 L521.4 206.3 L521.65 206.3 L521.9 206.3 L522.15 206.3 L522.4 206.3 L522.65 206.3 L522.9 206.3 L523.15 206.3 L523.4 206.3 L523.65 206.3 L523.9 206.3 L524.15 206.3 L524.4 206.3 L524.65 206.3 L524.9 206.3 L525.15 206.3 L525.4 206.3 L525.65 206.3 L525.9 206.3 L526.15 206.3 L526.4 206.3 L526.65 206.3 L526.9 206.3 L527.15 206.3 L527.4 206.3 L527.65 206.3 L527.9 206.3 L528.15 206.3 L528.4 206.3 L528.65 206.3 L528.9 206.3 L529.15 206.3 L529.4 206.3 L529.65 206.3 L529.9 206.3 L530.15 206.3 L530.4 206.3 L530.65 206.3 L530.9 206.3 L531.15 206.3 L531.4 206.3 L531.65 206.3 L531.9 206.3 L532.15 206.3 L532.4 206.3 L532.65 206.3 L532.9 206.3 L533.15 206.3 L533.4 206.3 L533.65 206.3 L533.9 206.3 L534.15 206.3 L534.4 206.3 L534.65 206.3" fill="none" stroke="#f29a3c" stroke-width="1" stroke-opacity="0.85"/>
<path d="M423.4 204.4 L423.65 203.27 L423.9 201.79 L424.15 199.91 L424.4 197.57 L424.65 194.85 L424.9 192.16 L425.15 189.72 L425.4 187.1 L425.65 184.92 L425.9 183.1 L426.15 181.51 L426.4 180.57 L426.65 181.05 L426.9 183.29 L427.15 186.21 L427.4 190.3 L427.65 193.34 L427.9 196.84 L428.15 199.84 L428.4 202.09 L428.65 203.36 L428.9 204.06" fill="none" stroke="#f29a3c" stroke-width="1.05" stroke-linejoin="round" stroke-linecap="round"/>
<path d="M408.9 233.5 L409.15 233.5 L409.4 233.5 L409.65 233.5 L409.9 233.5 L410.15 233.5 L410.4 233.5 L410.65 233.5 L410.9 233.5 L411.15 233.5 L411.4 233.5 L411.65 233.5 L411.9 233.5 L412.15 233.5 L412.4 233.5 L412.65 233.5 L412.9 233.5 L413.15 233.5 L413.4 233.5 L413.65 233.5 L413.9 233.5 L414.15 233.5 L414.4 233.5 L414.65 233.5 L414.9 233.5 L415.15 233.5 L415.4 233.5 L415.65 233.5 L415.9 233.5 L416.15 233.5 L416.4 233.5 L416.65 233.5 L416.9 233.5 L417.15 233.5 L417.4 233.5 L417.65 233.5 L417.9 233.5 L418.15 233.5 L418.4 233.5 L418.65 233.5 L418.9 233.5 L419.15 233.5 L419.4 233.5 L419.65 233.5 L419.9 233.5 L420.15 233.5 L420.4 233.5 L420.65 233.5 L420.9 233.5 L421.15 233.5 L421.4 233.5 L421.65 233.48 L421.9 233.44 L422.15 233.37 L422.4 233.26 L422.65 233.12 L422.9 232.99 L423.15 232.8 L423.4 232.42 L423.65 231.75 L423.9 230.85 L424.15 229.68 L424.4 228.2 L424.65 226.19 L424.9 223.78 L425.15 221.42 L425.4 219.29 L425.65 217.25 L425.9 215.57 L426.15 214.19 L426.4 213.04 L426.65 212.57 L426.9 214.17 L427.15 217.1 L427.4 220.2 L427.65 222.04 L427.9 224.13 L428.15 225.93 L428.4 227.02 L428.65 227.64 L428.9 228.1 L429.15 228.51 L429.4 228.82 L429.65 229.1 L429.9 229.37 L430.15 229.64 L430.4 229.8 L430.65 229.93 L430.9 230.05 L431.15 230.18 L431.4 230.31 L431.65 230.43 L431.9 230.56 L432.15 230.68 L432.4 230.81 L432.65 230.93 L432.9 231.05 L433.15 231.15 L433.4 231.24 L433.65 231.34 L433.9 231.43 L434.15 231.52 L434.4 231.61 L434.65 231.7 L434.9 231.79 L435.15 231.88 L435.4 231.97 L435.65 232.05 L435.9 232.14 L436.15 232.21 L436.4 232.29 L436.65 232.36 L436.9 232.42 L437.15 232.47 L437.4 232.52 L437.65 232.57 L437.9 232.61 L438.15 232.66 L438.4 232.7 L438.65 232.74 L438.9 232.78 L439.15 232.81 L439.4 232.85 L439.65 232.88 L439.9 232.91 L440.15 232.95 L440.4 232.98 L440.65 233.01 L440.9 233.03 L441.15 233.06 L441.4 233.09 L441.65 233.12 L441.9 233.14 L442.15 233.17 L442.4 233.19 L442.65 233.21 L442.9 233.23 L443.15 233.25 L443.4 233.27 L443.65 233.28 L443.9 233.3 L444.15 233.31 L444.4 233.32 L444.65 233.34 L444.9 233.35 L445.15 233.36 L445.4 233.37 L445.65 233.38 L445.9 233.4 L446.15 233.41 L446.4 233.42 L446.65 233.43 L446.9 233.44 L447.15 233.45 L447.4 233.45 L447.65 233.46 L447.9 233.47 L448.15 233.47 L448.4 233.48 L448.65 233.48 L448.9 233.49 L449.15 233.49 L449.4 233.49 L449.65 233.5 L449.9 233.5 L450.15 233.5 L450.4 233.5 L450.65 233.5 L450.9 233.5 L451.15 233.5 L451.4 233.5 L451.65 233.5 L451.9 233.5 L452.15 233.5 L452.4 233.5 L452.65 233.5 L452.9 233.5 L453.15 233.5 L453.4 233.5 L453.65 233.5 L453.9 233.5 L454.15 233.5 L454.4 233.5 L454.65 233.5 L454.9 233.5 L455.15 233.5 L455.4 233.5 L455.65 233.5 L455.9 233.5 L456.15 233.5 L456.4 233.5 L456.65 233.5 L456.9 233.5 L457.15 233.5 L457.4 233.5 L457.65 233.5 L457.9 233.5 L458.15 233.5 L458.4 233.5 L458.65 233.5 L458.9 233.5 L459.15 233.5 L459.4 233.5 L459.65 233.5 L459.9 233.5 L460.15 233.5 L460.4 233.5 L460.65 233.5 L460.9 233.5 L461.15 233.5 L461.4 233.5 L461.65 233.5 L461.9 233.5 L462.15 233.5 L462.4 233.5 L462.65 233.5 L462.9 233.5 L463.15 233.5 L463.4 233.5 L463.65 233.5 L463.9 233.5 L464.15 233.5 L464.4 233.5 L464.65 233.5 L464.9 233.5 L465.15 233.5 L465.4 233.5 L465.65 233.5 L465.9 233.5 L466.15 233.5 L466.4 233.5 L466.65 233.5 L466.9 233.5 L467.15 233.5 L467.4 233.5 L467.65 233.5 L467.9 233.5 L468.15 233.5 L468.4 233.5 L468.65 233.5 L468.9 233.5 L469.15 233.5 L469.4 233.5 L469.65 233.5 L469.9 233.5 L470.15 233.5 L470.4 233.5 L470.65 233.5 L470.9 233.5 L471.15 233.5 L471.4 233.5 L471.65 233.5 L471.9 233.5 L472.15 233.5 L472.4 233.5 L472.65 233.5 L472.9 233.5 L473.15 233.5 L473.4 233.5 L473.65 233.5 L473.9 233.5 L474.15 233.5 L474.4 233.5 L474.65 233.5 L474.9 233.5 L475.15 233.5 L475.4 233.5 L475.65 233.5 L475.9 233.5 L476.15 233.5 L476.4 233.5 L476.65 233.5 L476.9 233.5 L477.15 233.5 L477.4 233.5 L477.65 233.5 L477.9 233.5 L478.15 233.5 L478.4 233.5 L478.65 233.5 L478.9 233.5 L479.15 233.5 L479.4 233.5 L479.65 233.5 L479.9 233.5 L480.15 233.5 L480.4 233.5 L480.65 233.5 L480.9 233.5 L481.15 233.5 L481.4 233.5 L481.65 233.5 L481.9 233.5 L482.15 233.5 L482.4 233.5 L482.65 233.5 L482.9 233.5 L483.15 233.5 L483.4 233.5 L483.65 233.5 L483.9 233.5 L484.15 233.5 L484.4 233.5 L484.65 233.5 L484.9 233.5 L485.15 233.5 L485.4 233.5 L485.65 233.5 L485.9 233.5 L486.15 233.5 L486.4 233.5 L486.65 233.5 L486.9 233.5 L487.15 233.5 L487.4 233.5 L487.65 233.5 L487.9 233.5 L488.15 233.5 L488.4 233.5 L488.65 233.5 L488.9 233.5 L489.15 233.5 L489.4 233.5 L489.65 233.5 L489.9 233.5 L490.15 233.5 L490.4 233.5 L490.65 233.5 L490.9 233.5 L491.15 233.5 L491.4 233.5 L491.65 233.5 L491.9 233.5 L492.15 233.5 L492.4 233.5 L492.65 233.5 L492.9 233.5 L493.15 233.5 L493.4 233.5 L493.65 233.5 L493.9 233.5 L494.15 233.5 L494.4 233.5 L494.65 233.5 L494.9 233.5 L495.15 233.5 L495.4 233.5 L495.65 233.5 L495.9 233.5 L496.15 233.5 L496.4 233.5 L496.65 233.5 L496.9 233.5 L497.15 233.5 L497.4 233.5 L497.65 233.5 L497.9 233.5 L498.15 233.5 L498.4 233.5 L498.65 233.5 L498.9 233.5 L499.15 233.5 L499.4 233.5 L499.65 233.5 L499.9 233.5 L500.15 233.5 L500.4 233.5 L500.65 233.5 L500.9 233.5 L501.15 233.5 L501.4 233.5 L501.65 233.5 L501.9 233.5 L502.15 233.5 L502.4 233.5 L502.65 233.5 L502.9 233.5 L503.15 233.5 L503.4 233.5 L503.65 233.5 L503.9 233.5 L504.15 233.5 L504.4 233.5 L504.65 233.5 L504.9 233.5 L505.15 233.5 L505.4 233.5 L505.65 233.5 L505.9 233.5 L506.15 233.5 L506.4 233.5 L506.65 233.5 L506.9 233.5 L507.15 233.5 L507.4 233.5 L507.65 233.5 L507.9 233.5 L508.15 233.5 L508.4 233.5 L508.65 233.5 L508.9 233.5 L509.15 233.5 L509.4 233.5 L509.65 233.5 L509.9 233.5 L510.15 233.5 L510.4 233.5 L510.65 233.5 L510.9 233.5 L511.15 233.5 L511.4 233.5 L511.65 233.5 L511.9 233.5 L512.15 233.5 L512.4 233.5 L512.65 233.5 L512.9 233.5 L513.15 233.5 L513.4 233.5 L513.65 233.5 L513.9 233.5 L514.15 233.5 L514.4 233.5 L514.65 233.5 L514.9 233.5 L515.15 233.5 L515.4 233.5 L515.65 233.5 L515.9 233.5 L516.15 233.5 L516.4 233.5 L516.65 233.5 L516.9 233.5 L517.15 233.5 L517.4 233.5 L517.65 233.5 L517.9 233.5 L518.15 233.5 L518.4 233.5 L518.65 233.5 L518.9 233.5 L519.15 233.5 L519.4 233.5 L519.65 233.5 L519.9 233.5 L520.15 233.5 L520.4 233.5 L520.65 233.5 L520.9 233.5 L521.15 233.5 L521.4 233.5 L521.65 233.5 L521.9 233.5 L522.15 233.5 L522.4 233.5 L522.65 233.5 L522.9 233.5 L523.15 233.5 L523.4 233.5 L523.65 233.5 L523.9 233.5 L524.15 233.5 L524.4 233.5 L524.65 233.5 L524.9 233.5 L525.15 233.5 L525.4 233.5 L525.65 233.5 L525.9 233.5 L526.15 233.5 L526.4 233.5 L526.65 233.5 L526.9 233.5 L527.15 233.5 L527.4 233.5 L527.65 233.5 L527.9 233.5 L528.15 233.5 L528.4 233.5 L528.65 233.5 L528.9 233.5 L529.15 233.5 L529.4 233.5 L529.65 233.5 L529.9 233.5 L530.15 233.5 L530.4 233.5 L530.65 233.5 L530.9 233.5 L531.15 233.5 L531.4 233.5 L531.65 233.5 L531.9 233.5 L532.15 233.5 L532.4 233.5 L532.65 233.5 L532.9 233.5 L533.15 233.5 L533.4 233.5 L533.65 233.5 L533.9 233.5 L534.15 233.5 L534.4 233.5 L534.65 233.5 L534.8 233.5 L408.9 233.5 Z" fill="#f8bab0" stroke="none"/>
<path d="M408.9 233.5 L409.15 233.5 L409.4 233.5 L409.65 233.5 L409.9 233.5 L410.15 233.5 L410.4 233.5 L410.65 233.5 L410.9 233.5 L411.15 233.5 L411.4 233.5 L411.65 233.5 L411.9 233.5 L412.15 233.5 L412.4 233.5 L412.65 233.5 L412.9 233.5 L413.15 233.5 L413.4 233.5 L413.65 233.5 L413.9 233.5 L414.15 233.5 L414.4 233.5 L414.65 233.5 L414.9 233.5 L415.15 233.5 L415.4 233.5 L415.65 233.5 L415.9 233.5 L416.15 233.5 L416.4 233.5 L416.65 233.5 L416.9 233.5 L417.15 233.5 L417.4 233.5 L417.65 233.5 L417.9 233.5 L418.15 233.5 L418.4 233.5 L418.65 233.5 L418.9 233.5 L419.15 233.5 L419.4 233.5 L419.65 233.5 L419.9 233.5 L420.15 233.5 L420.4 233.5 L420.65 233.5 L420.9 233.5 L421.15 233.5 L421.4 233.5 L421.65 233.48 L421.9 233.44 L422.15 233.37 L422.4 233.26 L422.65 233.12 L422.9 232.99 L423.15 232.8 L423.4 232.42 L423.65 231.75 L423.9 230.85 L424.15 229.68 L424.4 228.2 L424.65 226.19 L424.9 223.78 L425.15 221.42 L425.4 219.29 L425.65 217.25 L425.9 215.57 L426.15 214.19 L426.4 213.04 L426.65 212.57 L426.9 214.17 L427.15 217.1 L427.4 220.2 L427.65 222.04 L427.9 224.13 L428.15 225.93 L428.4 227.02 L428.65 227.64 L428.9 228.1 L429.15 228.51 L429.4 228.82 L429.65 229.1 L429.9 229.37 L430.15 229.64 L430.4 229.8 L430.65 229.93 L430.9 230.05 L431.15 230.18 L431.4 230.31 L431.65 230.43 L431.9 230.56 L432.15 230.68 L432.4 230.81 L432.65 230.93 L432.9 231.05 L433.15 231.15 L433.4 231.24 L433.65 231.34 L433.9 231.43 L434.15 231.52 L434.4 231.61 L434.65 231.7 L434.9 231.79 L435.15 231.88 L435.4 231.97 L435.65 232.05 L435.9 232.14 L436.15 232.21 L436.4 232.29 L436.65 232.36 L436.9 232.42 L437.15 232.47 L437.4 232.52 L437.65 232.57 L437.9 232.61 L438.15 232.66 L438.4 232.7 L438.65 232.74 L438.9 232.78 L439.15 232.81 L439.4 232.85 L439.65 232.88 L439.9 232.91 L440.15 232.95 L440.4 232.98 L440.65 233.01 L440.9 233.03 L441.15 233.06 L441.4 233.09 L441.65 233.12 L441.9 233.14 L442.15 233.17 L442.4 233.19 L442.65 233.21 L442.9 233.23 L443.15 233.25 L443.4 233.27 L443.65 233.28 L443.9 233.3 L444.15 233.31 L444.4 233.32 L444.65 233.34 L444.9 233.35 L445.15 233.36 L445.4 233.37 L445.65 233.38 L445.9 233.4 L446.15 233.41 L446.4 233.42 L446.65 233.43 L446.9 233.44 L447.15 233.45 L447.4 233.45 L447.65 233.46 L447.9 233.47 L448.15 233.47 L448.4 233.48 L448.65 233.48 L448.9 233.49 L449.15 233.49 L449.4 233.49 L449.65 233.5 L449.9 233.5 L450.15 233.5 L450.4 233.5 L450.65 233.5 L450.9 233.5 L451.15 233.5 L451.4 233.5 L451.65 233.5 L451.9 233.5 L452.15 233.5 L452.4 233.5 L452.65 233.5 L452.9 233.5 L453.15 233.5 L453.4 233.5 L453.65 233.5 L453.9 233.5 L454.15 233.5 L454.4 233.5 L454.65 233.5 L454.9 233.5 L455.15 233.5 L455.4 233.5 L455.65 233.5 L455.9 233.5 L456.15 233.5 L456.4 233.5 L456.65 233.5 L456.9 233.5 L457.15 233.5 L457.4 233.5 L457.65 233.5 L457.9 233.5 L458.15 233.5 L458.4 233.5 L458.65 233.5 L458.9 233.5 L459.15 233.5 L459.4 233.5 L459.65 233.5 L459.9 233.5 L460.15 233.5 L460.4 233.5 L460.65 233.5 L460.9 233.5 L461.15 233.5 L461.4 233.5 L461.65 233.5 L461.9 233.5 L462.15 233.5 L462.4 233.5 L462.65 233.5 L462.9 233.5 L463.15 233.5 L463.4 233.5 L463.65 233.5 L463.9 233.5 L464.15 233.5 L464.4 233.5 L464.65 233.5 L464.9 233.5 L465.15 233.5 L465.4 233.5 L465.65 233.5 L465.9 233.5 L466.15 233.5 L466.4 233.5 L466.65 233.5 L466.9 233.5 L467.15 233.5 L467.4 233.5 L467.65 233.5 L467.9 233.5 L468.15 233.5 L468.4 233.5 L468.65 233.5 L468.9 233.5 L469.15 233.5 L469.4 233.5 L469.65 233.5 L469.9 233.5 L470.15 233.5 L470.4 233.5 L470.65 233.5 L470.9 233.5 L471.15 233.5 L471.4 233.5 L471.65 233.5 L471.9 233.5 L472.15 233.5 L472.4 233.5 L472.65 233.5 L472.9 233.5 L473.15 233.5 L473.4 233.5 L473.65 233.5 L473.9 233.5 L474.15 233.5 L474.4 233.5 L474.65 233.5 L474.9 233.5 L475.15 233.5 L475.4 233.5 L475.65 233.5 L475.9 233.5 L476.15 233.5 L476.4 233.5 L476.65 233.5 L476.9 233.5 L477.15 233.5 L477.4 233.5 L477.65 233.5 L477.9 233.5 L478.15 233.5 L478.4 233.5 L478.65 233.5 L478.9 233.5 L479.15 233.5 L479.4 233.5 L479.65 233.5 L479.9 233.5 L480.15 233.5 L480.4 233.5 L480.65 233.5 L480.9 233.5 L481.15 233.5 L481.4 233.5 L481.65 233.5 L481.9 233.5 L482.15 233.5 L482.4 233.5 L482.65 233.5 L482.9 233.5 L483.15 233.5 L483.4 233.5 L483.65 233.5 L483.9 233.5 L484.15 233.5 L484.4 233.5 L484.65 233.5 L484.9 233.5 L485.15 233.5 L485.4 233.5 L485.65 233.5 L485.9 233.5 L486.15 233.5 L486.4 233.5 L486.65 233.5 L486.9 233.5 L487.15 233.5 L487.4 233.5 L487.65 233.5 L487.9 233.5 L488.15 233.5 L488.4 233.5 L488.65 233.5 L488.9 233.5 L489.15 233.5 L489.4 233.5 L489.65 233.5 L489.9 233.5 L490.15 233.5 L490.4 233.5 L490.65 233.5 L490.9 233.5 L491.15 233.5 L491.4 233.5 L491.65 233.5 L491.9 233.5 L492.15 233.5 L492.4 233.5 L492.65 233.5 L492.9 233.5 L493.15 233.5 L493.4 233.5 L493.65 233.5 L493.9 233.5 L494.15 233.5 L494.4 233.5 L494.65 233.5 L494.9 233.5 L495.15 233.5 L495.4 233.5 L495.65 233.5 L495.9 233.5 L496.15 233.5 L496.4 233.5 L496.65 233.5 L496.9 233.5 L497.15 233.5 L497.4 233.5 L497.65 233.5 L497.9 233.5 L498.15 233.5 L498.4 233.5 L498.65 233.5 L498.9 233.5 L499.15 233.5 L499.4 233.5 L499.65 233.5 L499.9 233.5 L500.15 233.5 L500.4 233.5 L500.65 233.5 L500.9 233.5 L501.15 233.5 L501.4 233.5 L501.65 233.5 L501.9 233.5 L502.15 233.5 L502.4 233.5 L502.65 233.5 L502.9 233.5 L503.15 233.5 L503.4 233.5 L503.65 233.5 L503.9 233.5 L504.15 233.5 L504.4 233.5 L504.65 233.5 L504.9 233.5 L505.15 233.5 L505.4 233.5 L505.65 233.5 L505.9 233.5 L506.15 233.5 L506.4 233.5 L506.65 233.5 L506.9 233.5 L507.15 233.5 L507.4 233.5 L507.65 233.5 L507.9 233.5 L508.15 233.5 L508.4 233.5 L508.65 233.5 L508.9 233.5 L509.15 233.5 L509.4 233.5 L509.65 233.5 L509.9 233.5 L510.15 233.5 L510.4 233.5 L510.65 233.5 L510.9 233.5 L511.15 233.5 L511.4 233.5 L511.65 233.5 L511.9 233.5 L512.15 233.5 L512.4 233.5 L512.65 233.5 L512.9 233.5 L513.15 233.5 L513.4 233.5 L513.65 233.5 L513.9 233.5 L514.15 233.5 L514.4 233.5 L514.65 233.5 L514.9 233.5 L515.15 233.5 L515.4 233.5 L515.65 233.5 L515.9 233.5 L516.15 233.5 L516.4 233.5 L516.65 233.5 L516.9 233.5 L517.15 233.5 L517.4 233.5 L517.65 233.5 L517.9 233.5 L518.15 233.5 L518.4 233.5 L518.65 233.5 L518.9 233.5 L519.15 233.5 L519.4 233.5 L519.65 233.5 L519.9 233.5 L520.15 233.5 L520.4 233.5 L520.65 233.5 L520.9 233.5 L521.15 233.5 L521.4 233.5 L521.65 233.5 L521.9 233.5 L522.15 233.5 L522.4 233.5 L522.65 233.5 L522.9 233.5 L523.15 233.5 L523.4 233.5 L523.65 233.5 L523.9 233.5 L524.15 233.5 L524.4 233.5 L524.65 233.5 L524.9 233.5 L525.15 233.5 L525.4 233.5 L525.65 233.5 L525.9 233.5 L526.15 233.5 L526.4 233.5 L526.65 233.5 L526.9 233.5 L527.15 233.5 L527.4 233.5 L527.65 233.5 L527.9 233.5 L528.15 233.5 L528.4 233.5 L528.65 233.5 L528.9 233.5 L529.15 233.5 L529.4 233.5 L529.65 233.5 L529.9 233.5 L530.15 233.5 L530.4 233.5 L530.65 233.5 L530.9 233.5 L531.15 233.5 L531.4 233.5 L531.65 233.5 L531.9 233.5 L532.15 233.5 L532.4 233.5 L532.65 233.5 L532.9 233.5 L533.15 233.5 L533.4 233.5 L533.65 233.5 L533.9 233.5 L534.15 233.5 L534.4 233.5 L534.65 233.5" fill="none" stroke="#e0363f" stroke-width="1" stroke-opacity="0.85"/>
<path d="M423.9 230.85 L424.15 229.68 L424.4 228.2 L424.65 226.19 L424.9 223.78 L425.15 221.42 L425.4 219.29 L425.65 217.25 L425.9 215.57 L426.15 214.19 L426.4 213.04 L426.65 212.57 L426.9 214.17 L427.15 217.1 L427.4 220.2 L427.65 222.04 L427.9 224.13 L428.15 225.93 L428.4 227.02 L428.65 227.64 L428.9 228.1 L429.15 228.51 L429.4 228.82 L429.65 229.1 L429.9 229.37 L430.15 229.64 L430.4 229.8" fill="none" stroke="#e0363f" stroke-width="1.05" stroke-linejoin="round" stroke-linecap="round"/>
<path d="M408.9 260.3 L409.15 260.3 L409.4 260.3 L409.65 260.3 L409.9 260.3 L410.15 260.3 L410.4 260.3 L410.65 260.3 L410.9 260.3 L411.15 260.3 L411.4 260.3 L411.65 260.3 L411.9 260.3 L412.15 260.3 L412.4 260.3 L412.65 260.3 L412.9 260.3 L413.15 260.3 L413.4 260.3 L413.65 260.3 L413.9 260.3 L414.15 260.3 L414.4 260.3 L414.65 260.3 L414.9 260.3 L415.15 260.3 L415.4 260.3 L415.65 260.3 L415.9 260.3 L416.15 260.3 L416.4 260.3 L416.65 260.3 L416.9 260.3 L417.15 260.3 L417.4 260.3 L417.65 260.3 L417.9 260.3 L418.15 260.3 L418.4 260.3 L418.65 260.3 L418.9 260.3 L419.15 260.3 L419.4 260.3 L419.65 260.3 L419.9 260.3 L420.15 260.3 L420.4 260.3 L420.65 260.3 L420.9 260.3 L421.15 260.3 L421.4 260.3 L421.65 260.3 L421.9 260.3 L422.15 260.3 L422.4 260.3 L422.65 260.26 L422.9 260.16 L423.15 259.97 L423.4 259.74 L423.65 259.43 L423.9 259.01 L424.15 258.44 L424.4 257.58 L424.65 256.45 L424.9 255.2 L425.15 253.97 L425.4 252.81 L425.65 251.46 L425.9 250.18 L426.15 249.25 L426.4 249 L426.65 249.6 L426.9 250.65 L427.15 251.65 L427.4 252.25 L427.65 252.79 L427.9 253.29 L428.15 253.75 L428.4 254.1 L428.65 254.33 L428.9 254.53 L429.15 254.71 L429.4 254.88 L429.65 255.05 L429.9 255.22 L430.15 255.39 L430.4 255.53 L430.65 255.67 L430.9 255.82 L431.15 255.96 L431.4 256.11 L431.65 256.25 L431.9 256.39 L432.15 256.52 L432.4 256.64 L432.65 256.75 L432.9 256.86 L433.15 256.96 L433.4 257.07 L433.65 257.17 L433.9 257.27 L434.15 257.37 L434.4 257.47 L434.65 257.56 L434.9 257.66 L435.15 257.74 L435.4 257.82 L435.65 257.89 L435.9 257.96 L436.15 258.04 L436.4 258.11 L436.65 258.18 L436.9 258.25 L437.15 258.32 L437.4 258.39 L437.65 258.46 L437.9 258.53 L438.15 258.6 L438.4 258.67 L438.65 258.73 L438.9 258.79 L439.15 258.85 L439.4 258.91 L439.65 258.97 L439.9 259.03 L440.15 259.09 L440.4 259.15 L440.65 259.21 L440.9 259.27 L441.15 259.33 L441.4 259.39 L441.65 259.44 L441.9 259.49 L442.15 259.55 L442.4 259.59 L442.65 259.64 L442.9 259.68 L443.15 259.72 L443.4 259.76 L443.65 259.79 L443.9 259.82 L444.15 259.85 L444.4 259.87 L444.65 259.9 L444.9 259.92 L445.15 259.95 L445.4 259.97 L445.65 259.99 L445.9 260.01 L446.15 260.03 L446.4 260.05 L446.65 260.06 L446.9 260.08 L447.15 260.1 L447.4 260.11 L447.65 260.13 L447.9 260.14 L448.15 260.16 L448.4 260.17 L448.65 260.18 L448.9 260.19 L449.15 260.19 L449.4 260.2 L449.65 260.21 L449.9 260.22 L450.15 260.22 L450.4 260.23 L450.65 260.24 L450.9 260.24 L451.15 260.25 L451.4 260.25 L451.65 260.26 L451.9 260.26 L452.15 260.26 L452.4 260.27 L452.65 260.27 L452.9 260.28 L453.15 260.28 L453.4 260.28 L453.65 260.28 L453.9 260.29 L454.15 260.29 L454.4 260.29 L454.65 260.3 L454.9 260.3 L455.15 260.3 L455.4 260.3 L455.65 260.3 L455.9 260.3 L456.15 260.3 L456.4 260.3 L456.65 260.3 L456.9 260.3 L457.15 260.3 L457.4 260.3 L457.65 260.3 L457.9 260.3 L458.15 260.3 L458.4 260.3 L458.65 260.3 L458.9 260.3 L459.15 260.3 L459.4 260.3 L459.65 260.3 L459.9 260.3 L460.15 260.3 L460.4 260.3 L460.65 260.3 L460.9 260.3 L461.15 260.3 L461.4 260.3 L461.65 260.3 L461.9 260.3 L462.15 260.3 L462.4 260.3 L462.65 260.3 L462.9 260.3 L463.15 260.3 L463.4 260.3 L463.65 260.3 L463.9 260.3 L464.15 260.3 L464.4 260.3 L464.65 260.3 L464.9 260.3 L465.15 260.3 L465.4 260.3 L465.65 260.3 L465.9 260.3 L466.15 260.3 L466.4 260.3 L466.65 260.3 L466.9 260.3 L467.15 260.3 L467.4 260.3 L467.65 260.3 L467.9 260.3 L468.15 260.3 L468.4 260.3 L468.65 260.3 L468.9 260.3 L469.15 260.3 L469.4 260.3 L469.65 260.3 L469.9 260.3 L470.15 260.3 L470.4 260.3 L470.65 260.3 L470.9 260.3 L471.15 260.3 L471.4 260.3 L471.65 260.3 L471.9 260.3 L472.15 260.3 L472.4 260.3 L472.65 260.3 L472.9 260.3 L473.15 260.3 L473.4 260.3 L473.65 260.3 L473.9 260.3 L474.15 260.3 L474.4 260.3 L474.65 260.3 L474.9 260.3 L475.15 260.3 L475.4 260.3 L475.65 260.3 L475.9 260.3 L476.15 260.3 L476.4 260.3 L476.65 260.3 L476.9 260.3 L477.15 260.3 L477.4 260.3 L477.65 260.3 L477.9 260.3 L478.15 260.3 L478.4 260.3 L478.65 260.3 L478.9 260.3 L479.15 260.3 L479.4 260.3 L479.65 260.3 L479.9 260.3 L480.15 260.3 L480.4 260.3 L480.65 260.3 L480.9 260.3 L481.15 260.3 L481.4 260.3 L481.65 260.3 L481.9 260.3 L482.15 260.3 L482.4 260.3 L482.65 260.3 L482.9 260.3 L483.15 260.3 L483.4 260.3 L483.65 260.3 L483.9 260.3 L484.15 260.3 L484.4 260.3 L484.65 260.3 L484.9 260.3 L485.15 260.3 L485.4 260.3 L485.65 260.3 L485.9 260.3 L486.15 260.3 L486.4 260.3 L486.65 260.3 L486.9 260.3 L487.15 260.3 L487.4 260.3 L487.65 260.3 L487.9 260.3 L488.15 260.3 L488.4 260.3 L488.65 260.3 L488.9 260.3 L489.15 260.3 L489.4 260.3 L489.65 260.3 L489.9 260.3 L490.15 260.3 L490.4 260.3 L490.65 260.3 L490.9 260.3 L491.15 260.3 L491.4 260.3 L491.65 260.3 L491.9 260.3 L492.15 260.3 L492.4 260.3 L492.65 260.3 L492.9 260.3 L493.15 260.3 L493.4 260.3 L493.65 260.3 L493.9 260.3 L494.15 260.3 L494.4 260.3 L494.65 260.3 L494.9 260.3 L495.15 260.3 L495.4 260.3 L495.65 260.3 L495.9 260.3 L496.15 260.3 L496.4 260.3 L496.65 260.3 L496.9 260.3 L497.15 260.3 L497.4 260.3 L497.65 260.3 L497.9 260.3 L498.15 260.3 L498.4 260.3 L498.65 260.3 L498.9 260.3 L499.15 260.3 L499.4 260.3 L499.65 260.3 L499.9 260.3 L500.15 260.3 L500.4 260.3 L500.65 260.3 L500.9 260.3 L501.15 260.3 L501.4 260.3 L501.65 260.3 L501.9 260.3 L502.15 260.3 L502.4 260.3 L502.65 260.3 L502.9 260.3 L503.15 260.3 L503.4 260.3 L503.65 260.3 L503.9 260.3 L504.15 260.3 L504.4 260.3 L504.65 260.3 L504.9 260.3 L505.15 260.3 L505.4 260.3 L505.65 260.3 L505.9 260.3 L506.15 260.3 L506.4 260.3 L506.65 260.3 L506.9 260.3 L507.15 260.3 L507.4 260.3 L507.65 260.3 L507.9 260.3 L508.15 260.3 L508.4 260.3 L508.65 260.3 L508.9 260.3 L509.15 260.3 L509.4 260.3 L509.65 260.3 L509.9 260.3 L510.15 260.3 L510.4 260.3 L510.65 260.3 L510.9 260.3 L511.15 260.3 L511.4 260.3 L511.65 260.3 L511.9 260.3 L512.15 260.3 L512.4 260.3 L512.65 260.3 L512.9 260.3 L513.15 260.3 L513.4 260.3 L513.65 260.3 L513.9 260.3 L514.15 260.3 L514.4 260.3 L514.65 260.3 L514.9 260.3 L515.15 260.3 L515.4 260.3 L515.65 260.3 L515.9 260.3 L516.15 260.3 L516.4 260.3 L516.65 260.3 L516.9 260.3 L517.15 260.3 L517.4 260.3 L517.65 260.3 L517.9 260.3 L518.15 260.3 L518.4 260.3 L518.65 260.3 L518.9 260.3 L519.15 260.3 L519.4 260.3 L519.65 260.3 L519.9 260.3 L520.15 260.3 L520.4 260.3 L520.65 260.3 L520.9 260.3 L521.15 260.3 L521.4 260.3 L521.65 260.3 L521.9 260.3 L522.15 260.3 L522.4 260.3 L522.65 260.3 L522.9 260.3 L523.15 260.3 L523.4 260.3 L523.65 260.3 L523.9 260.3 L524.15 260.3 L524.4 260.3 L524.65 260.3 L524.9 260.3 L525.15 260.3 L525.4 260.3 L525.65 260.3 L525.9 260.3 L526.15 260.3 L526.4 260.3 L526.65 260.3 L526.9 260.3 L527.15 260.3 L527.4 260.3 L527.65 260.3 L527.9 260.3 L528.15 260.3 L528.4 260.3 L528.65 260.3 L528.9 260.3 L529.15 260.3 L529.4 260.3 L529.65 260.3 L529.9 260.3 L530.15 260.3 L530.4 260.3 L530.65 260.3 L530.9 260.3 L531.15 260.3 L531.4 260.3 L531.65 260.3 L531.9 260.3 L532.15 260.3 L532.4 260.3 L532.65 260.3 L532.9 260.3 L533.15 260.3 L533.4 260.3 L533.65 260.3 L533.9 260.3 L534.15 260.3 L534.4 260.3 L534.65 260.3 L534.8 260.3 L408.9 260.3 Z" fill="#c5e5f6" stroke="none"/>
<path d="M408.9 260.3 L409.15 260.3 L409.4 260.3 L409.65 260.3 L409.9 260.3 L410.15 260.3 L410.4 260.3 L410.65 260.3 L410.9 260.3 L411.15 260.3 L411.4 260.3 L411.65 260.3 L411.9 260.3 L412.15 260.3 L412.4 260.3 L412.65 260.3 L412.9 260.3 L413.15 260.3 L413.4 260.3 L413.65 260.3 L413.9 260.3 L414.15 260.3 L414.4 260.3 L414.65 260.3 L414.9 260.3 L415.15 260.3 L415.4 260.3 L415.65 260.3 L415.9 260.3 L416.15 260.3 L416.4 260.3 L416.65 260.3 L416.9 260.3 L417.15 260.3 L417.4 260.3 L417.65 260.3 L417.9 260.3 L418.15 260.3 L418.4 260.3 L418.65 260.3 L418.9 260.3 L419.15 260.3 L419.4 260.3 L419.65 260.3 L419.9 260.3 L420.15 260.3 L420.4 260.3 L420.65 260.3 L420.9 260.3 L421.15 260.3 L421.4 260.3 L421.65 260.3 L421.9 260.3 L422.15 260.3 L422.4 260.3 L422.65 260.26 L422.9 260.16 L423.15 259.97 L423.4 259.74 L423.65 259.43 L423.9 259.01 L424.15 258.44 L424.4 257.58 L424.65 256.45 L424.9 255.2 L425.15 253.97 L425.4 252.81 L425.65 251.46 L425.9 250.18 L426.15 249.25 L426.4 249 L426.65 249.6 L426.9 250.65 L427.15 251.65 L427.4 252.25 L427.65 252.79 L427.9 253.29 L428.15 253.75 L428.4 254.1 L428.65 254.33 L428.9 254.53 L429.15 254.71 L429.4 254.88 L429.65 255.05 L429.9 255.22 L430.15 255.39 L430.4 255.53 L430.65 255.67 L430.9 255.82 L431.15 255.96 L431.4 256.11 L431.65 256.25 L431.9 256.39 L432.15 256.52 L432.4 256.64 L432.65 256.75 L432.9 256.86 L433.15 256.96 L433.4 257.07 L433.65 257.17 L433.9 257.27 L434.15 257.37 L434.4 257.47 L434.65 257.56 L434.9 257.66 L435.15 257.74 L435.4 257.82 L435.65 257.89 L435.9 257.96 L436.15 258.04 L436.4 258.11 L436.65 258.18 L436.9 258.25 L437.15 258.32 L437.4 258.39 L437.65 258.46 L437.9 258.53 L438.15 258.6 L438.4 258.67 L438.65 258.73 L438.9 258.79 L439.15 258.85 L439.4 258.91 L439.65 258.97 L439.9 259.03 L440.15 259.09 L440.4 259.15 L440.65 259.21 L440.9 259.27 L441.15 259.33 L441.4 259.39 L441.65 259.44 L441.9 259.49 L442.15 259.55 L442.4 259.59 L442.65 259.64 L442.9 259.68 L443.15 259.72 L443.4 259.76 L443.65 259.79 L443.9 259.82 L444.15 259.85 L444.4 259.87 L444.65 259.9 L444.9 259.92 L445.15 259.95 L445.4 259.97 L445.65 259.99 L445.9 260.01 L446.15 260.03 L446.4 260.05 L446.65 260.06 L446.9 260.08 L447.15 260.1 L447.4 260.11 L447.65 260.13 L447.9 260.14 L448.15 260.16 L448.4 260.17 L448.65 260.18 L448.9 260.19 L449.15 260.19 L449.4 260.2 L449.65 260.21 L449.9 260.22 L450.15 260.22 L450.4 260.23 L450.65 260.24 L450.9 260.24 L451.15 260.25 L451.4 260.25 L451.65 260.26 L451.9 260.26 L452.15 260.26 L452.4 260.27 L452.65 260.27 L452.9 260.28 L453.15 260.28 L453.4 260.28 L453.65 260.28 L453.9 260.29 L454.15 260.29 L454.4 260.29 L454.65 260.3 L454.9 260.3 L455.15 260.3 L455.4 260.3 L455.65 260.3 L455.9 260.3 L456.15 260.3 L456.4 260.3 L456.65 260.3 L456.9 260.3 L457.15 260.3 L457.4 260.3 L457.65 260.3 L457.9 260.3 L458.15 260.3 L458.4 260.3 L458.65 260.3 L458.9 260.3 L459.15 260.3 L459.4 260.3 L459.65 260.3 L459.9 260.3 L460.15 260.3 L460.4 260.3 L460.65 260.3 L460.9 260.3 L461.15 260.3 L461.4 260.3 L461.65 260.3 L461.9 260.3 L462.15 260.3 L462.4 260.3 L462.65 260.3 L462.9 260.3 L463.15 260.3 L463.4 260.3 L463.65 260.3 L463.9 260.3 L464.15 260.3 L464.4 260.3 L464.65 260.3 L464.9 260.3 L465.15 260.3 L465.4 260.3 L465.65 260.3 L465.9 260.3 L466.15 260.3 L466.4 260.3 L466.65 260.3 L466.9 260.3 L467.15 260.3 L467.4 260.3 L467.65 260.3 L467.9 260.3 L468.15 260.3 L468.4 260.3 L468.65 260.3 L468.9 260.3 L469.15 260.3 L469.4 260.3 L469.65 260.3 L469.9 260.3 L470.15 260.3 L470.4 260.3 L470.65 260.3 L470.9 260.3 L471.15 260.3 L471.4 260.3 L471.65 260.3 L471.9 260.3 L472.15 260.3 L472.4 260.3 L472.65 260.3 L472.9 260.3 L473.15 260.3 L473.4 260.3 L473.65 260.3 L473.9 260.3 L474.15 260.3 L474.4 260.3 L474.65 260.3 L474.9 260.3 L475.15 260.3 L475.4 260.3 L475.65 260.3 L475.9 260.3 L476.15 260.3 L476.4 260.3 L476.65 260.3 L476.9 260.3 L477.15 260.3 L477.4 260.3 L477.65 260.3 L477.9 260.3 L478.15 260.3 L478.4 260.3 L478.65 260.3 L478.9 260.3 L479.15 260.3 L479.4 260.3 L479.65 260.3 L479.9 260.3 L480.15 260.3 L480.4 260.3 L480.65 260.3 L480.9 260.3 L481.15 260.3 L481.4 260.3 L481.65 260.3 L481.9 260.3 L482.15 260.3 L482.4 260.3 L482.65 260.3 L482.9 260.3 L483.15 260.3 L483.4 260.3 L483.65 260.3 L483.9 260.3 L484.15 260.3 L484.4 260.3 L484.65 260.3 L484.9 260.3 L485.15 260.3 L485.4 260.3 L485.65 260.3 L485.9 260.3 L486.15 260.3 L486.4 260.3 L486.65 260.3 L486.9 260.3 L487.15 260.3 L487.4 260.3 L487.65 260.3 L487.9 260.3 L488.15 260.3 L488.4 260.3 L488.65 260.3 L488.9 260.3 L489.15 260.3 L489.4 260.3 L489.65 260.3 L489.9 260.3 L490.15 260.3 L490.4 260.3 L490.65 260.3 L490.9 260.3 L491.15 260.3 L491.4 260.3 L491.65 260.3 L491.9 260.3 L492.15 260.3 L492.4 260.3 L492.65 260.3 L492.9 260.3 L493.15 260.3 L493.4 260.3 L493.65 260.3 L493.9 260.3 L494.15 260.3 L494.4 260.3 L494.65 260.3 L494.9 260.3 L495.15 260.3 L495.4 260.3 L495.65 260.3 L495.9 260.3 L496.15 260.3 L496.4 260.3 L496.65 260.3 L496.9 260.3 L497.15 260.3 L497.4 260.3 L497.65 260.3 L497.9 260.3 L498.15 260.3 L498.4 260.3 L498.65 260.3 L498.9 260.3 L499.15 260.3 L499.4 260.3 L499.65 260.3 L499.9 260.3 L500.15 260.3 L500.4 260.3 L500.65 260.3 L500.9 260.3 L501.15 260.3 L501.4 260.3 L501.65 260.3 L501.9 260.3 L502.15 260.3 L502.4 260.3 L502.65 260.3 L502.9 260.3 L503.15 260.3 L503.4 260.3 L503.65 260.3 L503.9 260.3 L504.15 260.3 L504.4 260.3 L504.65 260.3 L504.9 260.3 L505.15 260.3 L505.4 260.3 L505.65 260.3 L505.9 260.3 L506.15 260.3 L506.4 260.3 L506.65 260.3 L506.9 260.3 L507.15 260.3 L507.4 260.3 L507.65 260.3 L507.9 260.3 L508.15 260.3 L508.4 260.3 L508.65 260.3 L508.9 260.3 L509.15 260.3 L509.4 260.3 L509.65 260.3 L509.9 260.3 L510.15 260.3 L510.4 260.3 L510.65 260.3 L510.9 260.3 L511.15 260.3 L511.4 260.3 L511.65 260.3 L511.9 260.3 L512.15 260.3 L512.4 260.3 L512.65 260.3 L512.9 260.3 L513.15 260.3 L513.4 260.3 L513.65 260.3 L513.9 260.3 L514.15 260.3 L514.4 260.3 L514.65 260.3 L514.9 260.3 L515.15 260.3 L515.4 260.3 L515.65 260.3 L515.9 260.3 L516.15 260.3 L516.4 260.3 L516.65 260.3 L516.9 260.3 L517.15 260.3 L517.4 260.3 L517.65 260.3 L517.9 260.3 L518.15 260.3 L518.4 260.3 L518.65 260.3 L518.9 260.3 L519.15 260.3 L519.4 260.3 L519.65 260.3 L519.9 260.3 L520.15 260.3 L520.4 260.3 L520.65 260.3 L520.9 260.3 L521.15 260.3 L521.4 260.3 L521.65 260.3 L521.9 260.3 L522.15 260.3 L522.4 260.3 L522.65 260.3 L522.9 260.3 L523.15 260.3 L523.4 260.3 L523.65 260.3 L523.9 260.3 L524.15 260.3 L524.4 260.3 L524.65 260.3 L524.9 260.3 L525.15 260.3 L525.4 260.3 L525.65 260.3 L525.9 260.3 L526.15 260.3 L526.4 260.3 L526.65 260.3 L526.9 260.3 L527.15 260.3 L527.4 260.3 L527.65 260.3 L527.9 260.3 L528.15 260.3 L528.4 260.3 L528.65 260.3 L528.9 260.3 L529.15 260.3 L529.4 260.3 L529.65 260.3 L529.9 260.3 L530.15 260.3 L530.4 260.3 L530.65 260.3 L530.9 260.3 L531.15 260.3 L531.4 260.3 L531.65 260.3 L531.9 260.3 L532.15 260.3 L532.4 260.3 L532.65 260.3 L532.9 260.3 L533.15 260.3 L533.4 260.3 L533.65 260.3 L533.9 260.3 L534.15 260.3 L534.4 260.3 L534.65 260.3" fill="none" stroke="#36b2e2" stroke-width="1" stroke-opacity="0.85"/>
<path d="M424.4 257.58 L424.65 256.45 L424.9 255.2 L425.15 253.97 L425.4 252.81 L425.65 251.46 L425.9 250.18 L426.15 249.25 L426.4 249 L426.65 249.6 L426.9 250.65 L427.15 251.65 L427.4 252.25 L427.65 252.79 L427.9 253.29 L428.15 253.75 L428.4 254.1 L428.65 254.33 L428.9 254.53 L429.15 254.71 L429.4 254.88 L429.65 255.05 L429.9 255.22 L430.15 255.39 L430.4 255.53 L430.65 255.67 L430.9 255.82 L431.15 255.96 L431.4 256.11 L431.65 256.25 L431.9 256.39 L432.15 256.52" fill="none" stroke="#36b2e2" stroke-width="1.05" stroke-linejoin="round" stroke-linecap="round"/>
<path d="M408.9 287 L409.15 287 L409.4 287 L409.65 287 L409.9 287 L410.15 287 L410.4 287 L410.65 287 L410.9 287 L411.15 287 L411.4 287 L411.65 287 L411.9 287 L412.15 287 L412.4 287 L412.65 287 L412.9 287 L413.15 287 L413.4 287 L413.65 287 L413.9 287 L414.15 287 L414.4 287 L414.65 287 L414.9 287 L415.15 287 L415.4 287 L415.65 287 L415.9 287 L416.15 287 L416.4 287 L416.65 287 L416.9 287 L417.15 287 L417.4 287 L417.65 287 L417.9 287 L418.15 287 L418.4 287 L418.65 287 L418.9 287 L419.15 287 L419.4 287 L419.65 287 L419.9 287 L420.15 287 L420.4 287 L420.65 287 L420.9 287 L421.15 286.99 L421.4 286.98 L421.65 286.98 L421.9 286.97 L422.15 286.96 L422.4 286.94 L422.65 286.92 L422.9 286.88 L423.15 286.82 L423.4 286.74 L423.65 286.53 L423.9 286.18 L424.15 285.75 L424.4 285.23 L424.65 284.6 L424.9 283.81 L425.15 282.98 L425.4 282.24 L425.65 281.61 L425.9 281.05 L426.15 280.73 L426.4 280.75 L426.65 281.1 L426.9 281.62 L427.15 282.19 L427.4 282.66 L427.65 283.09 L427.9 283.52 L428.15 283.94 L428.4 284.29 L428.65 284.47 L428.9 284.57 L429.15 284.66 L429.4 284.73 L429.65 284.79 L429.9 284.84 L430.15 284.88 L430.4 284.92 L430.65 284.95 L430.9 284.99 L431.15 285.02 L431.4 285.04 L431.65 285.05 L431.9 285.06 L432.15 285.07 L432.4 285.07 L432.65 285.08 L432.9 285.08 L433.15 285.08 L433.4 285.08 L433.65 285.09 L433.9 285.1 L434.15 285.11 L434.4 285.12 L434.65 285.13 L434.9 285.14 L435.15 285.15 L435.4 285.16 L435.65 285.17 L435.9 285.18 L436.15 285.2 L436.4 285.21 L436.65 285.22 L436.9 285.24 L437.15 285.25 L437.4 285.26 L437.65 285.28 L437.9 285.29 L438.15 285.31 L438.4 285.32 L438.65 285.34 L438.9 285.35 L439.15 285.37 L439.4 285.39 L439.65 285.4 L439.9 285.42 L440.15 285.44 L440.4 285.45 L440.65 285.47 L440.9 285.49 L441.15 285.51 L441.4 285.54 L441.65 285.56 L441.9 285.59 L442.15 285.62 L442.4 285.65 L442.65 285.68 L442.9 285.72 L443.15 285.75 L443.4 285.79 L443.65 285.83 L443.9 285.87 L444.15 285.91 L444.4 285.95 L444.65 285.99 L444.9 286.03 L445.15 286.07 L445.4 286.11 L445.65 286.15 L445.9 286.19 L446.15 286.22 L446.4 286.25 L446.65 286.29 L446.9 286.32 L447.15 286.36 L447.4 286.39 L447.65 286.42 L447.9 286.46 L448.15 286.49 L448.4 286.52 L448.65 286.55 L448.9 286.58 L449.15 286.61 L449.4 286.64 L449.65 286.66 L449.9 286.69 L450.15 286.71 L450.4 286.73 L450.65 286.75 L450.9 286.77 L451.15 286.79 L451.4 286.81 L451.65 286.82 L451.9 286.84 L452.15 286.86 L452.4 286.87 L452.65 286.89 L452.9 286.91 L453.15 286.92 L453.4 286.93 L453.65 286.95 L453.9 286.96 L454.15 286.97 L454.4 286.98 L454.65 286.99 L454.9 287 L455.15 287 L455.4 287 L455.65 287 L455.9 287 L456.15 287 L456.4 287 L456.65 287 L456.9 287 L457.15 287 L457.4 287 L457.65 287 L457.9 287 L458.15 287 L458.4 287 L458.65 287 L458.9 287 L459.15 287 L459.4 287 L459.65 287 L459.9 287 L460.15 287 L460.4 287 L460.65 287 L460.9 287 L461.15 287 L461.4 287 L461.65 287 L461.9 287 L462.15 287 L462.4 287 L462.65 287 L462.9 287 L463.15 287 L463.4 287 L463.65 287 L463.9 287 L464.15 287 L464.4 287 L464.65 287 L464.9 287 L465.15 287 L465.4 287 L465.65 287 L465.9 287 L466.15 287 L466.4 287 L466.65 287 L466.9 287 L467.15 287 L467.4 287 L467.65 287 L467.9 287 L468.15 287 L468.4 287 L468.65 287 L468.9 287 L469.15 287 L469.4 287 L469.65 287 L469.9 287 L470.15 287 L470.4 287 L470.65 287 L470.9 287 L471.15 287 L471.4 287 L471.65 287 L471.9 287 L472.15 287 L472.4 287 L472.65 287 L472.9 287 L473.15 287 L473.4 287 L473.65 287 L473.9 287 L474.15 287 L474.4 287 L474.65 287 L474.9 287 L475.15 287 L475.4 287 L475.65 287 L475.9 287 L476.15 287 L476.4 287 L476.65 287 L476.9 287 L477.15 287 L477.4 287 L477.65 287 L477.9 287 L478.15 287 L478.4 287 L478.65 287 L478.9 287 L479.15 287 L479.4 287 L479.65 287 L479.9 287 L480.15 287 L480.4 287 L480.65 287 L480.9 287 L481.15 287 L481.4 287 L481.65 287 L481.9 287 L482.15 287 L482.4 287 L482.65 287 L482.9 287 L483.15 287 L483.4 287 L483.65 287 L483.9 287 L484.15 287 L484.4 287 L484.65 287 L484.9 287 L485.15 287 L485.4 287 L485.65 287 L485.9 287 L486.15 287 L486.4 287 L486.65 287 L486.9 287 L487.15 287 L487.4 287 L487.65 287 L487.9 287 L488.15 287 L488.4 287 L488.65 287 L488.9 287 L489.15 287 L489.4 287 L489.65 287 L489.9 287 L490.15 287 L490.4 287 L490.65 287 L490.9 287 L491.15 287 L491.4 287 L491.65 287 L491.9 287 L492.15 287 L492.4 287 L492.65 287 L492.9 287 L493.15 287 L493.4 287 L493.65 287 L493.9 287 L494.15 287 L494.4 287 L494.65 287 L494.9 287 L495.15 287 L495.4 287 L495.65 287 L495.9 287 L496.15 287 L496.4 287 L496.65 287 L496.9 287 L497.15 287 L497.4 287 L497.65 287 L497.9 287 L498.15 287 L498.4 287 L498.65 287 L498.9 287 L499.15 287 L499.4 287 L499.65 287 L499.9 287 L500.15 287 L500.4 287 L500.65 287 L500.9 287 L501.15 287 L501.4 287 L501.65 287 L501.9 287 L502.15 287 L502.4 287 L502.65 287 L502.9 287 L503.15 287 L503.4 287 L503.65 287 L503.9 287 L504.15 287 L504.4 287 L504.65 287 L504.9 287 L505.15 287 L505.4 287 L505.65 287 L505.9 287 L506.15 287 L506.4 287 L506.65 287 L506.9 287 L507.15 287 L507.4 287 L507.65 287 L507.9 287 L508.15 287 L508.4 287 L508.65 287 L508.9 287 L509.15 287 L509.4 287 L509.65 287 L509.9 287 L510.15 287 L510.4 287 L510.65 287 L510.9 287 L511.15 287 L511.4 287 L511.65 287 L511.9 287 L512.15 287 L512.4 287 L512.65 287 L512.9 287 L513.15 287 L513.4 287 L513.65 287 L513.9 287 L514.15 287 L514.4 287 L514.65 287 L514.9 287 L515.15 287 L515.4 287 L515.65 287 L515.9 287 L516.15 287 L516.4 287 L516.65 287 L516.9 287 L517.15 287 L517.4 287 L517.65 287 L517.9 287 L518.15 287 L518.4 287 L518.65 287 L518.9 287 L519.15 287 L519.4 287 L519.65 287 L519.9 287 L520.15 287 L520.4 287 L520.65 287 L520.9 287 L521.15 287 L521.4 287 L521.65 287 L521.9 287 L522.15 287 L522.4 287 L522.65 287 L522.9 287 L523.15 287 L523.4 287 L523.65 287 L523.9 287 L524.15 287 L524.4 287 L524.65 287 L524.9 287 L525.15 287 L525.4 287 L525.65 287 L525.9 287 L526.15 287 L526.4 287 L526.65 287 L526.9 287 L527.15 287 L527.4 287 L527.65 287 L527.9 287 L528.15 287 L528.4 287 L528.65 287 L528.9 287 L529.15 287 L529.4 287 L529.65 287 L529.9 287 L530.15 287 L530.4 287 L530.65 287 L530.9 287 L531.15 287 L531.4 287 L531.65 287 L531.9 287 L532.15 287 L532.4 287 L532.65 287 L532.9 287 L533.15 287 L533.4 287 L533.65 287 L533.9 287 L534.15 287 L534.4 287 L534.65 287 L534.8 287 L408.9 287 Z" fill="#d9ebc4" stroke="none"/>
<path d="M408.9 287 L409.15 287 L409.4 287 L409.65 287 L409.9 287 L410.15 287 L410.4 287 L410.65 287 L410.9 287 L411.15 287 L411.4 287 L411.65 287 L411.9 287 L412.15 287 L412.4 287 L412.65 287 L412.9 287 L413.15 287 L413.4 287 L413.65 287 L413.9 287 L414.15 287 L414.4 287 L414.65 287 L414.9 287 L415.15 287 L415.4 287 L415.65 287 L415.9 287 L416.15 287 L416.4 287 L416.65 287 L416.9 287 L417.15 287 L417.4 287 L417.65 287 L417.9 287 L418.15 287 L418.4 287 L418.65 287 L418.9 287 L419.15 287 L419.4 287 L419.65 287 L419.9 287 L420.15 287 L420.4 287 L420.65 287 L420.9 287 L421.15 286.99 L421.4 286.98 L421.65 286.98 L421.9 286.97 L422.15 286.96 L422.4 286.94 L422.65 286.92 L422.9 286.88 L423.15 286.82 L423.4 286.74 L423.65 286.53 L423.9 286.18 L424.15 285.75 L424.4 285.23 L424.65 284.6 L424.9 283.81 L425.15 282.98 L425.4 282.24 L425.65 281.61 L425.9 281.05 L426.15 280.73 L426.4 280.75 L426.65 281.1 L426.9 281.62 L427.15 282.19 L427.4 282.66 L427.65 283.09 L427.9 283.52 L428.15 283.94 L428.4 284.29 L428.65 284.47 L428.9 284.57 L429.15 284.66 L429.4 284.73 L429.65 284.79 L429.9 284.84 L430.15 284.88 L430.4 284.92 L430.65 284.95 L430.9 284.99 L431.15 285.02 L431.4 285.04 L431.65 285.05 L431.9 285.06 L432.15 285.07 L432.4 285.07 L432.65 285.08 L432.9 285.08 L433.15 285.08 L433.4 285.08 L433.65 285.09 L433.9 285.1 L434.15 285.11 L434.4 285.12 L434.65 285.13 L434.9 285.14 L435.15 285.15 L435.4 285.16 L435.65 285.17 L435.9 285.18 L436.15 285.2 L436.4 285.21 L436.65 285.22 L436.9 285.24 L437.15 285.25 L437.4 285.26 L437.65 285.28 L437.9 285.29 L438.15 285.31 L438.4 285.32 L438.65 285.34 L438.9 285.35 L439.15 285.37 L439.4 285.39 L439.65 285.4 L439.9 285.42 L440.15 285.44 L440.4 285.45 L440.65 285.47 L440.9 285.49 L441.15 285.51 L441.4 285.54 L441.65 285.56 L441.9 285.59 L442.15 285.62 L442.4 285.65 L442.65 285.68 L442.9 285.72 L443.15 285.75 L443.4 285.79 L443.65 285.83 L443.9 285.87 L444.15 285.91 L444.4 285.95 L444.65 285.99 L444.9 286.03 L445.15 286.07 L445.4 286.11 L445.65 286.15 L445.9 286.19 L446.15 286.22 L446.4 286.25 L446.65 286.29 L446.9 286.32 L447.15 286.36 L447.4 286.39 L447.65 286.42 L447.9 286.46 L448.15 286.49 L448.4 286.52 L448.65 286.55 L448.9 286.58 L449.15 286.61 L449.4 286.64 L449.65 286.66 L449.9 286.69 L450.15 286.71 L450.4 286.73 L450.65 286.75 L450.9 286.77 L451.15 286.79 L451.4 286.81 L451.65 286.82 L451.9 286.84 L452.15 286.86 L452.4 286.87 L452.65 286.89 L452.9 286.91 L453.15 286.92 L453.4 286.93 L453.65 286.95 L453.9 286.96 L454.15 286.97 L454.4 286.98 L454.65 286.99 L454.9 287 L455.15 287 L455.4 287 L455.65 287 L455.9 287 L456.15 287 L456.4 287 L456.65 287 L456.9 287 L457.15 287 L457.4 287 L457.65 287 L457.9 287 L458.15 287 L458.4 287 L458.65 287 L458.9 287 L459.15 287 L459.4 287 L459.65 287 L459.9 287 L460.15 287 L460.4 287 L460.65 287 L460.9 287 L461.15 287 L461.4 287 L461.65 287 L461.9 287 L462.15 287 L462.4 287 L462.65 287 L462.9 287 L463.15 287 L463.4 287 L463.65 287 L463.9 287 L464.15 287 L464.4 287 L464.65 287 L464.9 287 L465.15 287 L465.4 287 L465.65 287 L465.9 287 L466.15 287 L466.4 287 L466.65 287 L466.9 287 L467.15 287 L467.4 287 L467.65 287 L467.9 287 L468.15 287 L468.4 287 L468.65 287 L468.9 287 L469.15 287 L469.4 287 L469.65 287 L469.9 287 L470.15 287 L470.4 287 L470.65 287 L470.9 287 L471.15 287 L471.4 287 L471.65 287 L471.9 287 L472.15 287 L472.4 287 L472.65 287 L472.9 287 L473.15 287 L473.4 287 L473.65 287 L473.9 287 L474.15 287 L474.4 287 L474.65 287 L474.9 287 L475.15 287 L475.4 287 L475.65 287 L475.9 287 L476.15 287 L476.4 287 L476.65 287 L476.9 287 L477.15 287 L477.4 287 L477.65 287 L477.9 287 L478.15 287 L478.4 287 L478.65 287 L478.9 287 L479.15 287 L479.4 287 L479.65 287 L479.9 287 L480.15 287 L480.4 287 L480.65 287 L480.9 287 L481.15 287 L481.4 287 L481.65 287 L481.9 287 L482.15 287 L482.4 287 L482.65 287 L482.9 287 L483.15 287 L483.4 287 L483.65 287 L483.9 287 L484.15 287 L484.4 287 L484.65 287 L484.9 287 L485.15 287 L485.4 287 L485.65 287 L485.9 287 L486.15 287 L486.4 287 L486.65 287 L486.9 287 L487.15 287 L487.4 287 L487.65 287 L487.9 287 L488.15 287 L488.4 287 L488.65 287 L488.9 287 L489.15 287 L489.4 287 L489.65 287 L489.9 287 L490.15 287 L490.4 287 L490.65 287 L490.9 287 L491.15 287 L491.4 287 L491.65 287 L491.9 287 L492.15 287 L492.4 287 L492.65 287 L492.9 287 L493.15 287 L493.4 287 L493.65 287 L493.9 287 L494.15 287 L494.4 287 L494.65 287 L494.9 287 L495.15 287 L495.4 287 L495.65 287 L495.9 287 L496.15 287 L496.4 287 L496.65 287 L496.9 287 L497.15 287 L497.4 287 L497.65 287 L497.9 287 L498.15 287 L498.4 287 L498.65 287 L498.9 287 L499.15 287 L499.4 287 L499.65 287 L499.9 287 L500.15 287 L500.4 287 L500.65 287 L500.9 287 L501.15 287 L501.4 287 L501.65 287 L501.9 287 L502.15 287 L502.4 287 L502.65 287 L502.9 287 L503.15 287 L503.4 287 L503.65 287 L503.9 287 L504.15 287 L504.4 287 L504.65 287 L504.9 287 L505.15 287 L505.4 287 L505.65 287 L505.9 287 L506.15 287 L506.4 287 L506.65 287 L506.9 287 L507.15 287 L507.4 287 L507.65 287 L507.9 287 L508.15 287 L508.4 287 L508.65 287 L508.9 287 L509.15 287 L509.4 287 L509.65 287 L509.9 287 L510.15 287 L510.4 287 L510.65 287 L510.9 287 L511.15 287 L511.4 287 L511.65 287 L511.9 287 L512.15 287 L512.4 287 L512.65 287 L512.9 287 L513.15 287 L513.4 287 L513.65 287 L513.9 287 L514.15 287 L514.4 287 L514.65 287 L514.9 287 L515.15 287 L515.4 287 L515.65 287 L515.9 287 L516.15 287 L516.4 287 L516.65 287 L516.9 287 L517.15 287 L517.4 287 L517.65 287 L517.9 287 L518.15 287 L518.4 287 L518.65 287 L518.9 287 L519.15 287 L519.4 287 L519.65 287 L519.9 287 L520.15 287 L520.4 287 L520.65 287 L520.9 287 L521.15 287 L521.4 287 L521.65 287 L521.9 287 L522.15 287 L522.4 287 L522.65 287 L522.9 287 L523.15 287 L523.4 287 L523.65 287 L523.9 287 L524.15 287 L524.4 287 L524.65 287 L524.9 287 L525.15 287 L525.4 287 L525.65 287 L525.9 287 L526.15 287 L526.4 287 L526.65 287 L526.9 287 L527.15 287 L527.4 287 L527.65 287 L527.9 287 L528.15 287 L528.4 287 L528.65 287 L528.9 287 L529.15 287 L529.4 287 L529.65 287 L529.9 287 L530.15 287 L530.4 287 L530.65 287 L530.9 287 L531.15 287 L531.4 287 L531.65 287 L531.9 287 L532.15 287 L532.4 287 L532.65 287 L532.9 287 L533.15 287 L533.4 287 L533.65 287 L533.9 287 L534.15 287 L534.4 287 L534.65 287" fill="none" stroke="#7cbf44" stroke-width="1" stroke-opacity="0.85"/>
<path d="M424.65 284.6 L424.9 283.81 L425.15 282.98 L425.4 282.24 L425.65 281.61 L425.9 281.05 L426.15 280.73 L426.4 280.75 L426.65 281.1 L426.9 281.62 L427.15 282.19 L427.4 282.66 L427.65 283.09 L427.9 283.52" fill="none" stroke="#7cbf44" stroke-width="1.05" stroke-linejoin="round" stroke-linecap="round"/>
<line x1="411.4" y1="287.3" x2="411.4" y2="289" stroke="#666" stroke-width="0.75"/>
<line x1="415.7" y1="287.3" x2="415.7" y2="289" stroke="#666" stroke-width="0.75"/>
<rect x="420.1" y="288.1" width="12" height="1.3" fill="#000" stroke="none" stroke-width="1"/>
<line x1="420.7" y1="287.3" x2="420.7" y2="290.9" stroke="#000" stroke-width="1"/>
<line x1="422.3" y1="287.3" x2="422.3" y2="290" stroke="#000" stroke-width="1"/>
<line x1="423.7" y1="287.3" x2="423.7" y2="290" stroke="#000" stroke-width="1"/>
<line x1="425.4" y1="287.3" x2="425.4" y2="290.9" stroke="#000" stroke-width="1"/>
<line x1="426.9" y1="287.3" x2="426.9" y2="290" stroke="#000" stroke-width="1"/>
<line x1="428.3" y1="287.3" x2="428.3" y2="290.9" stroke="#000" stroke-width="1"/>
<line x1="429.9" y1="287.3" x2="429.9" y2="290" stroke="#000" stroke-width="1"/>
<line x1="431.7" y1="287.3" x2="431.7" y2="290.9" stroke="#000" stroke-width="1"/>
<line x1="436.5" y1="287.3" x2="436.5" y2="289" stroke="#666" stroke-width="0.75"/>
<line x1="440.8" y1="287.3" x2="440.8" y2="289" stroke="#666" stroke-width="0.75"/>
<line x1="444.3" y1="287.3" x2="444.3" y2="289" stroke="#666" stroke-width="0.75"/>
<line x1="447.6" y1="287.3" x2="447.6" y2="289" stroke="#666" stroke-width="0.75"/>
<line x1="450.4" y1="287.3" x2="450.4" y2="289" stroke="#666" stroke-width="0.75"/>
<line x1="452.6" y1="287.3" x2="452.6" y2="289" stroke="#666" stroke-width="0.75"/>
<line x1="454.5" y1="287.3" x2="454.5" y2="289" stroke="#666" stroke-width="0.75"/>
<text x="428.5" y="297" font-family='"Liberation Sans", sans-serif' font-size="4" font-weight="normal" font-style="normal" text-anchor="middle" fill="#666" stroke="#666" stroke-width="0.18">0</text>
<line x1="457.1" y1="287.3" x2="457.1" y2="290.6" stroke="#000" stroke-width="1.4"/>
<text x="457.7" y="297.2" font-family='"Liberation Sans", sans-serif' font-size="4.6" font-weight="normal" font-style="normal" text-anchor="start" fill="#444" stroke="#444" stroke-width="0.18" textLength="4" lengthAdjust="spacingAndGlyphs">10</text>
<text x="462" y="294.6" font-family='"Liberation Sans", sans-serif' font-size="3.9" font-weight="normal" font-style="normal" text-anchor="start" fill="#444" stroke="#444" stroke-width="0.18">3</text>
<line x1="465.47" y1="287.3" x2="465.47" y2="289" stroke="#666" stroke-width="0.75"/>
<line x1="470.36" y1="287.3" x2="470.36" y2="289" stroke="#666" stroke-width="0.75"/>
<line x1="473.84" y1="287.3" x2="473.84" y2="289" stroke="#666" stroke-width="0.75"/>
<line x1="476.53" y1="287.3" x2="476.53" y2="289" stroke="#666" stroke-width="0.75"/>
<line x1="478.73" y1="287.3" x2="478.73" y2="289" stroke="#666" stroke-width="0.75"/>
<line x1="480.59" y1="287.3" x2="480.59" y2="289" stroke="#666" stroke-width="0.75"/>
<line x1="482.21" y1="287.3" x2="482.21" y2="289" stroke="#666" stroke-width="0.75"/>
<line x1="483.63" y1="287.3" x2="483.63" y2="289" stroke="#666" stroke-width="0.75"/>
<line x1="484.9" y1="287.3" x2="484.9" y2="290.6" stroke="#000" stroke-width="1.4"/>
<text x="485.5" y="297.2" font-family='"Liberation Sans", sans-serif' font-size="4.6" font-weight="normal" font-style="normal" text-anchor="start" fill="#444" stroke="#444" stroke-width="0.18" textLength="4" lengthAdjust="spacingAndGlyphs">10</text>
<text x="489.8" y="294.6" font-family='"Liberation Sans", sans-serif' font-size="3.9" font-weight="normal" font-style="normal" text-anchor="start" fill="#444" stroke="#444" stroke-width="0.18">4</text>
<line x1="492.79" y1="287.3" x2="492.79" y2="289" stroke="#666" stroke-width="0.75"/>
<line x1="497.4" y1="287.3" x2="497.4" y2="289" stroke="#666" stroke-width="0.75"/>
<line x1="500.67" y1="287.3" x2="500.67" y2="289" stroke="#666" stroke-width="0.75"/>
<line x1="503.21" y1="287.3" x2="503.21" y2="289" stroke="#666" stroke-width="0.75"/>
<line x1="505.29" y1="287.3" x2="505.29" y2="289" stroke="#666" stroke-width="0.75"/>
<line x1="507.04" y1="287.3" x2="507.04" y2="289" stroke="#666" stroke-width="0.75"/>
<line x1="508.56" y1="287.3" x2="508.56" y2="289" stroke="#666" stroke-width="0.75"/>
<line x1="509.9" y1="287.3" x2="509.9" y2="289" stroke="#666" stroke-width="0.75"/>
<line x1="511.1" y1="287.3" x2="511.1" y2="290.6" stroke="#000" stroke-width="1.4"/>
<text x="511.7" y="297.2" font-family='"Liberation Sans", sans-serif' font-size="4.6" font-weight="normal" font-style="normal" text-anchor="start" fill="#444" stroke="#444" stroke-width="0.18" textLength="4" lengthAdjust="spacingAndGlyphs">10</text>
<text x="516" y="294.6" font-family='"Liberation Sans", sans-serif' font-size="3.9" font-weight="normal" font-style="normal" text-anchor="start" fill="#444" stroke="#444" stroke-width="0.18">5</text>
<line x1="518.99" y1="287.3" x2="518.99" y2="289" stroke="#666" stroke-width="0.75"/>
<line x1="523.6" y1="287.3" x2="523.6" y2="289" stroke="#666" stroke-width="0.75"/>
<line x1="526.87" y1="287.3" x2="526.87" y2="289" stroke="#666" stroke-width="0.75"/>
<line x1="529.41" y1="287.3" x2="529.41" y2="289" stroke="#666" stroke-width="0.75"/>
<line x1="531.49" y1="287.3" x2="531.49" y2="289" stroke="#666" stroke-width="0.75"/>
<line x1="533.24" y1="287.3" x2="533.24" y2="289" stroke="#666" stroke-width="0.75"/>
<line x1="534.76" y1="287.3" x2="534.76" y2="289" stroke="#666" stroke-width="0.75"/>
<text x="471.3" y="308.9" font-family='"Liberation Sans", sans-serif' font-size="5.3" font-weight="normal" font-style="normal" text-anchor="middle" fill="#555" stroke="#555" stroke-width="0.1" textLength="33.9" lengthAdjust="spacing">Comp-F ITC-A</text>
<line x1="270.3" y1="39" x2="270.3" y2="154.6" stroke="#2a2a2a" stroke-width="0.85"/>
<line x1="268.7" y1="154.6" x2="270.3" y2="154.6" stroke="#2a2a2a" stroke-width="0.85"/>
<text x="268.6" y="156.7" font-family='"Liberation Serif", serif' font-size="6.9" font-weight="bold" font-style="normal" text-anchor="end" fill="#1a1a1a" stroke="#1a1a1a" stroke-width="0.18" textLength="3" lengthAdjust="spacingAndGlyphs">0</text>
<line x1="268.7" y1="131.56" x2="270.3" y2="131.56" stroke="#2a2a2a" stroke-width="0.85"/>
<text x="268.6" y="133.66" font-family='"Liberation Serif", serif' font-size="6.9" font-weight="bold" font-style="normal" text-anchor="end" fill="#1a1a1a" stroke="#1a1a1a" stroke-width="0.18" textLength="6" lengthAdjust="spacingAndGlyphs">20</text>
<line x1="268.7" y1="108.52" x2="270.3" y2="108.52" stroke="#2a2a2a" stroke-width="0.85"/>
<text x="268.6" y="110.62" font-family='"Liberation Serif", serif' font-size="6.9" font-weight="bold" font-style="normal" text-anchor="end" fill="#1a1a1a" stroke="#1a1a1a" stroke-width="0.18" textLength="6" lengthAdjust="spacingAndGlyphs">40</text>
<line x1="268.7" y1="85.48" x2="270.3" y2="85.48" stroke="#2a2a2a" stroke-width="0.85"/>
<text x="268.6" y="87.58" font-family='"Liberation Serif", serif' font-size="6.9" font-weight="bold" font-style="normal" text-anchor="end" fill="#1a1a1a" stroke="#1a1a1a" stroke-width="0.18" textLength="6" lengthAdjust="spacingAndGlyphs">60</text>
<line x1="268.7" y1="62.44" x2="270.3" y2="62.44" stroke="#2a2a2a" stroke-width="0.85"/>
<text x="268.6" y="64.54" font-family='"Liberation Serif", serif' font-size="6.9" font-weight="bold" font-style="normal" text-anchor="end" fill="#1a1a1a" stroke="#1a1a1a" stroke-width="0.18" textLength="6" lengthAdjust="spacingAndGlyphs">80</text>
<line x1="268.7" y1="39.4" x2="270.3" y2="39.4" stroke="#2a2a2a" stroke-width="0.85"/>
<text x="268.6" y="41.5" font-family='"Liberation Serif", serif' font-size="6.9" font-weight="bold" font-style="normal" text-anchor="end" fill="#1a1a1a" stroke="#1a1a1a" stroke-width="0.18" textLength="9" lengthAdjust="spacingAndGlyphs">100</text>
<line x1="270.3" y1="154.6" x2="380.8" y2="154.6" stroke="#2a2a2a" stroke-width="0.85"/>
<rect x="279.7" y="64.74" width="17.1" height="89.86" fill="#e8181f" stroke="#1e2438" stroke-width="0.9"/>
<line x1="288.25" y1="154.6" x2="288.25" y2="156.2" stroke="#2a2a2a" stroke-width="0.8"/>
<ellipse cx="288.25" cy="64.04" rx="1.7" ry="1.6" fill="#e8181f"/>
<rect x="306" y="64.51" width="16.8" height="90.09" fill="#bdb81c" stroke="#1e2438" stroke-width="0.9"/>
<line x1="314.4" y1="154.6" x2="314.4" y2="156.2" stroke="#2a2a2a" stroke-width="0.8"/>
<ellipse cx="314.4" cy="63.81" rx="1.7" ry="1.6" fill="#bdb81c"/>
<rect x="332.4" y="54.38" width="17.1" height="100.22" fill="#23915c" stroke="#1e2438" stroke-width="0.9"/>
<line x1="340.95" y1="154.6" x2="340.95" y2="156.2" stroke="#2a2a2a" stroke-width="0.8"/>
<ellipse cx="340.95" cy="53.68" rx="1.7" ry="1.6" fill="#23915c"/>
<rect x="358.6" y="71.2" width="17.2" height="83.4" fill="#0a2f8f" stroke="#1e2438" stroke-width="0.9"/>
<line x1="367.2" y1="154.6" x2="367.2" y2="156.2" stroke="#2a2a2a" stroke-width="0.8"/>
<ellipse cx="367.2" cy="70.5" rx="1.7" ry="1.6" fill="#0a2f8f"/>
<text x="288.2" y="162" font-family='"Liberation Serif", serif' font-size="6.9" font-weight="bold" font-style="normal" text-anchor="middle" fill="#1a1a1a" stroke="#1a1a1a" stroke-width="0.18" textLength="3" lengthAdjust="spacingAndGlyphs">0</text>
<text x="314.3" y="162" font-family='"Liberation Serif", serif' font-size="6.9" font-weight="bold" font-style="normal" text-anchor="middle" fill="#1a1a1a" stroke="#1a1a1a" stroke-width="0.18" textLength="9" lengthAdjust="spacingAndGlyphs">500</text>
<text x="340.3" y="162" font-family='"Liberation Serif", serif' font-size="6.9" font-weight="bold" font-style="normal" text-anchor="middle" fill="#1a1a1a" stroke="#1a1a1a" stroke-width="0.18" textLength="12" lengthAdjust="spacingAndGlyphs">1000</text>
<text x="366.5" y="162" font-family='"Liberation Serif", serif' font-size="6.9" font-weight="bold" font-style="normal" text-anchor="middle" fill="#1a1a1a" stroke="#1a1a1a" stroke-width="0.18" textLength="12" lengthAdjust="spacingAndGlyphs">1500</text>
<text x="327.3" y="169.6" font-family='"Liberation Serif", serif' font-size="6.6" font-weight="bold" font-style="normal" text-anchor="middle" fill="#111" stroke="#111" stroke-width="0.18" textLength="59.5" lengthAdjust="spacingAndGlyphs">Concentration (μg/mL)</text>
<text x="258" y="94.6" font-family='"Liberation Serif", serif' font-size="6.2" font-weight="bold" font-style="normal" text-anchor="middle" fill="#111" stroke="#111" stroke-width="0.18" textLength="16.9" lengthAdjust="spacingAndGlyphs" transform="rotate(-90 258 94.6)">FL1-H</text>
<line x1="573.4" y1="40" x2="573.4" y2="154.1" stroke="#2a2a2a" stroke-width="0.85"/>
<line x1="571.8" y1="154.1" x2="573.4" y2="154.1" stroke="#2a2a2a" stroke-width="0.85"/>
<text x="571.7" y="156.2" font-family='"Liberation Serif", serif' font-size="6.9" font-weight="bold" font-style="normal" text-anchor="end" fill="#1a1a1a" stroke="#1a1a1a" stroke-width="0.18" textLength="3" lengthAdjust="spacingAndGlyphs">0</text>
<line x1="571.8" y1="131.36" x2="573.4" y2="131.36" stroke="#2a2a2a" stroke-width="0.85"/>
<text x="571.7" y="133.46" font-family='"Liberation Serif", serif' font-size="6.9" font-weight="bold" font-style="normal" text-anchor="end" fill="#1a1a1a" stroke="#1a1a1a" stroke-width="0.18" textLength="12" lengthAdjust="spacingAndGlyphs">5000</text>
<line x1="571.8" y1="108.62" x2="573.4" y2="108.62" stroke="#2a2a2a" stroke-width="0.85"/>
<text x="571.7" y="110.72" font-family='"Liberation Serif", serif' font-size="6.9" font-weight="bold" font-style="normal" text-anchor="end" fill="#1a1a1a" stroke="#1a1a1a" stroke-width="0.18" textLength="15" lengthAdjust="spacingAndGlyphs">10000</text>
<line x1="571.8" y1="85.88" x2="573.4" y2="85.88" stroke="#2a2a2a" stroke-width="0.85"/>
<text x="571.7" y="87.98" font-family='"Liberation Serif", serif' font-size="6.9" font-weight="bold" font-style="normal" text-anchor="end" fill="#1a1a1a" stroke="#1a1a1a" stroke-width="0.18" textLength="15" lengthAdjust="spacingAndGlyphs">15000</text>
<line x1="571.8" y1="63.14" x2="573.4" y2="63.14" stroke="#2a2a2a" stroke-width="0.85"/>
<text x="571.7" y="65.24" font-family='"Liberation Serif", serif' font-size="6.9" font-weight="bold" font-style="normal" text-anchor="end" fill="#1a1a1a" stroke="#1a1a1a" stroke-width="0.18" textLength="15" lengthAdjust="spacingAndGlyphs">20000</text>
<line x1="571.8" y1="40.4" x2="573.4" y2="40.4" stroke="#2a2a2a" stroke-width="0.85"/>
<text x="571.7" y="42.5" font-family='"Liberation Serif", serif' font-size="6.9" font-weight="bold" font-style="normal" text-anchor="end" fill="#1a1a1a" stroke="#1a1a1a" stroke-width="0.18" textLength="15" lengthAdjust="spacingAndGlyphs">25000</text>
<line x1="573.4" y1="154.1" x2="679.8" y2="154.1" stroke="#2a2a2a" stroke-width="0.85"/>
<rect x="581.5" y="48.4" width="16.1" height="105.7" fill="#e8181f" stroke="#22305a" stroke-width="0.9"/>
<line x1="589.55" y1="154.1" x2="589.55" y2="155.7" stroke="#2a2a2a" stroke-width="0.8"/>
<ellipse cx="589.55" cy="47.7" rx="1.7" ry="1.6" fill="#e8181f"/>
<rect x="606.2" y="134.09" width="15.9" height="20.01" fill="#bdb81c" stroke="#22305a" stroke-width="0.9"/>
<line x1="614.15" y1="154.1" x2="614.15" y2="155.7" stroke="#2a2a2a" stroke-width="0.8"/>
<ellipse cx="614.15" cy="133.39" rx="1.7" ry="1.6" fill="#bdb81c"/>
<rect x="630.9" y="138.41" width="15.8" height="15.69" fill="#23915c" stroke="#22305a" stroke-width="0.9"/>
<line x1="638.8" y1="154.1" x2="638.8" y2="155.7" stroke="#2a2a2a" stroke-width="0.8"/>
<ellipse cx="638.8" cy="137.71" rx="1.7" ry="1.6" fill="#23915c"/>
<rect x="655.3" y="139.27" width="15.6" height="14.83" fill="#0a2f8f" stroke="#22305a" stroke-width="0.9"/>
<line x1="663.1" y1="154.1" x2="663.1" y2="155.7" stroke="#2a2a2a" stroke-width="0.8"/>
<ellipse cx="663.1" cy="138.57" rx="1.7" ry="1.6" fill="#0a2f8f"/>
<text x="589.5" y="162.6" font-family='"Liberation Serif", serif' font-size="6.9" font-weight="bold" font-style="normal" text-anchor="middle" fill="#1a1a1a" stroke="#1a1a1a" stroke-width="0.18" textLength="3" lengthAdjust="spacingAndGlyphs">0</text>
<text x="613.9" y="162.6" font-family='"Liberation Serif", serif' font-size="6.9" font-weight="bold" font-style="normal" text-anchor="middle" fill="#1a1a1a" stroke="#1a1a1a" stroke-width="0.18" textLength="9" lengthAdjust="spacingAndGlyphs">500</text>
<text x="638.9" y="162.6" font-family='"Liberation Serif", serif' font-size="6.9" font-weight="bold" font-style="normal" text-anchor="middle" fill="#1a1a1a" stroke="#1a1a1a" stroke-width="0.18" textLength="12" lengthAdjust="spacingAndGlyphs">1000</text>
<text x="663.3" y="162.6" font-family='"Liberation Serif", serif' font-size="6.9" font-weight="bold" font-style="normal" text-anchor="middle" fill="#1a1a1a" stroke="#1a1a1a" stroke-width="0.18" textLength="12" lengthAdjust="spacingAndGlyphs">1500</text>
<text x="626.6" y="170.8" font-family='"Liberation Serif", serif' font-size="6.6" font-weight="bold" font-style="normal" text-anchor="middle" fill="#111" stroke="#111" stroke-width="0.18" textLength="55.7" lengthAdjust="spacingAndGlyphs">Concentration (μg/mL)</text>
<text x="552.6" y="94.6" font-family='"Liberation Serif", serif' font-size="6.2" font-weight="bold" font-style="normal" text-anchor="middle" fill="#111" stroke="#111" stroke-width="0.18" textLength="38.4" lengthAdjust="spacingAndGlyphs" transform="rotate(-90 552.6 94.6)">Comp-FITC-A</text>
<line x1="275.3" y1="178.9" x2="275.3" y2="293.1" stroke="#2a2a2a" stroke-width="0.85"/>
<line x1="273.7" y1="293.1" x2="275.3" y2="293.1" stroke="#2a2a2a" stroke-width="0.85"/>
<text x="273.6" y="295.2" font-family='"Liberation Serif", serif' font-size="6.9" font-weight="bold" font-style="normal" text-anchor="end" fill="#1a1a1a" stroke="#1a1a1a" stroke-width="0.18" textLength="3" lengthAdjust="spacingAndGlyphs">0</text>
<line x1="273.7" y1="255.17" x2="275.3" y2="255.17" stroke="#2a2a2a" stroke-width="0.85"/>
<text x="273.6" y="257.27" font-family='"Liberation Serif", serif' font-size="6.9" font-weight="bold" font-style="normal" text-anchor="end" fill="#1a1a1a" stroke="#1a1a1a" stroke-width="0.18" textLength="9" lengthAdjust="spacingAndGlyphs">500</text>
<line x1="273.7" y1="217.23" x2="275.3" y2="217.23" stroke="#2a2a2a" stroke-width="0.85"/>
<text x="273.6" y="219.33" font-family='"Liberation Serif", serif' font-size="6.9" font-weight="bold" font-style="normal" text-anchor="end" fill="#1a1a1a" stroke="#1a1a1a" stroke-width="0.18" textLength="12" lengthAdjust="spacingAndGlyphs">1000</text>
<line x1="273.7" y1="179.3" x2="275.3" y2="179.3" stroke="#2a2a2a" stroke-width="0.85"/>
<text x="273.6" y="181.4" font-family='"Liberation Serif", serif' font-size="6.9" font-weight="bold" font-style="normal" text-anchor="end" fill="#1a1a1a" stroke="#1a1a1a" stroke-width="0.18" textLength="12" lengthAdjust="spacingAndGlyphs">1500</text>
<line x1="275.3" y1="293.1" x2="385" y2="293.1" stroke="#2a2a2a" stroke-width="0.85"/>
<rect x="284.1" y="187.65" width="16.2" height="105.45" fill="#e8181f" stroke="#1e2438" stroke-width="0.9"/>
<line x1="292.2" y1="293.1" x2="292.2" y2="294.7" stroke="#2a2a2a" stroke-width="0.8"/>
<ellipse cx="292.2" cy="186.95" rx="1.7" ry="1.6" fill="#e8181f"/>
<rect x="309.5" y="240.75" width="16" height="52.35" fill="#bdb81c" stroke="#1e2438" stroke-width="0.9"/>
<line x1="317.5" y1="293.1" x2="317.5" y2="294.7" stroke="#2a2a2a" stroke-width="0.8"/>
<ellipse cx="317.5" cy="240.05" rx="1.7" ry="1.6" fill="#bdb81c"/>
<rect x="334.9" y="237.19" width="16.4" height="55.91" fill="#23915c" stroke="#1e2438" stroke-width="0.9"/>
<line x1="343.1" y1="293.1" x2="343.1" y2="294.7" stroke="#2a2a2a" stroke-width="0.8"/>
<ellipse cx="343.1" cy="236.49" rx="1.7" ry="1.6" fill="#23915c"/>
<rect x="360.2" y="245.76" width="16.4" height="47.34" fill="#0a2f8f" stroke="#1e2438" stroke-width="0.9"/>
<line x1="368.4" y1="293.1" x2="368.4" y2="294.7" stroke="#2a2a2a" stroke-width="0.8"/>
<ellipse cx="368.4" cy="245.06" rx="1.7" ry="1.6" fill="#0a2f8f"/>
<text x="292.4" y="301.6" font-family='"Liberation Serif", serif' font-size="6.9" font-weight="bold" font-style="normal" text-anchor="middle" fill="#1a1a1a" stroke="#1a1a1a" stroke-width="0.18" textLength="3" lengthAdjust="spacingAndGlyphs">0</text>
<text x="317.7" y="301.6" font-family='"Liberation Serif", serif' font-size="6.9" font-weight="bold" font-style="normal" text-anchor="middle" fill="#1a1a1a" stroke="#1a1a1a" stroke-width="0.18" textLength="9" lengthAdjust="spacingAndGlyphs">500</text>
<text x="342.8" y="301.6" font-family='"Liberation Serif", serif' font-size="6.9" font-weight="bold" font-style="normal" text-anchor="middle" fill="#1a1a1a" stroke="#1a1a1a" stroke-width="0.18" textLength="12" lengthAdjust="spacingAndGlyphs">1000</text>
<text x="368.3" y="301.6" font-family='"Liberation Serif", serif' font-size="6.9" font-weight="bold" font-style="normal" text-anchor="middle" fill="#1a1a1a" stroke="#1a1a1a" stroke-width="0.18" textLength="12" lengthAdjust="spacingAndGlyphs">1500</text>
<text x="330.3" y="310.1" font-family='"Liberation Serif", serif' font-size="6.6" font-weight="bold" font-style="normal" text-anchor="middle" fill="#111" stroke="#111" stroke-width="0.18" textLength="56.9" lengthAdjust="spacingAndGlyphs">Concentration (μg/mL)</text>
<text x="257.9" y="234.1" font-family='"Liberation Serif", serif' font-size="6.2" font-weight="bold" font-style="normal" text-anchor="middle" fill="#111" stroke="#111" stroke-width="0.18" textLength="16.9" lengthAdjust="spacingAndGlyphs" transform="rotate(-90 257.9 234.1)">FL1-H</text>
<line x1="569.4" y1="181.9" x2="569.4" y2="297.2" stroke="#2a2a2a" stroke-width="0.85"/>
<line x1="567.8" y1="297.2" x2="569.4" y2="297.2" stroke="#2a2a2a" stroke-width="0.85"/>
<text x="567.7" y="299.3" font-family='"Liberation Serif", serif' font-size="6.9" font-weight="bold" font-style="normal" text-anchor="end" fill="#1a1a1a" stroke="#1a1a1a" stroke-width="0.18" textLength="3" lengthAdjust="spacingAndGlyphs">0</text>
<line x1="567.8" y1="268.47" x2="569.4" y2="268.47" stroke="#2a2a2a" stroke-width="0.85"/>
<text x="567.7" y="270.57" font-family='"Liberation Serif", serif' font-size="6.9" font-weight="bold" font-style="normal" text-anchor="end" fill="#1a1a1a" stroke="#1a1a1a" stroke-width="0.18" textLength="6" lengthAdjust="spacingAndGlyphs">50</text>
<line x1="567.8" y1="239.75" x2="569.4" y2="239.75" stroke="#2a2a2a" stroke-width="0.85"/>
<text x="567.7" y="241.85" font-family='"Liberation Serif", serif' font-size="6.9" font-weight="bold" font-style="normal" text-anchor="end" fill="#1a1a1a" stroke="#1a1a1a" stroke-width="0.18" textLength="9" lengthAdjust="spacingAndGlyphs">100</text>
<line x1="567.8" y1="211.02" x2="569.4" y2="211.02" stroke="#2a2a2a" stroke-width="0.85"/>
<text x="567.7" y="213.12" font-family='"Liberation Serif", serif' font-size="6.9" font-weight="bold" font-style="normal" text-anchor="end" fill="#1a1a1a" stroke="#1a1a1a" stroke-width="0.18" textLength="9" lengthAdjust="spacingAndGlyphs">150</text>
<line x1="567.8" y1="182.3" x2="569.4" y2="182.3" stroke="#2a2a2a" stroke-width="0.85"/>
<text x="567.7" y="184.4" font-family='"Liberation Serif", serif' font-size="6.9" font-weight="bold" font-style="normal" text-anchor="end" fill="#1a1a1a" stroke="#1a1a1a" stroke-width="0.18" textLength="9" lengthAdjust="spacingAndGlyphs">200</text>
<line x1="569.4" y1="297.2" x2="678.9" y2="297.2" stroke="#2a2a2a" stroke-width="0.85"/>
<rect x="578.2" y="204.13" width="15.9" height="93.07" fill="#e8181f" stroke="#1e2438" stroke-width="0.9"/>
<line x1="586.15" y1="297.2" x2="586.15" y2="298.8" stroke="#2a2a2a" stroke-width="0.8"/>
<ellipse cx="586.15" cy="203.43" rx="1.7" ry="1.6" fill="#9a8fe0"/>
<rect x="603.4" y="245.5" width="16" height="51.7" fill="#bdb81c" stroke="#1e2438" stroke-width="0.9"/>
<line x1="611.4" y1="297.2" x2="611.4" y2="298.8" stroke="#2a2a2a" stroke-width="0.8"/>
<ellipse cx="611.4" cy="244.8" rx="1.7" ry="1.6" fill="#bdb81c"/>
<rect x="628.6" y="268.47" width="16" height="28.73" fill="#23915c" stroke="#1e2438" stroke-width="0.9"/>
<line x1="636.6" y1="297.2" x2="636.6" y2="298.8" stroke="#2a2a2a" stroke-width="0.8"/>
<ellipse cx="636.6" cy="267.77" rx="1.7" ry="1.6" fill="#23915c"/>
<rect x="653.8" y="284.56" width="16.2" height="12.64" fill="#0a2f8f" stroke="#1e2438" stroke-width="0.9"/>
<line x1="661.9" y1="297.2" x2="661.9" y2="298.8" stroke="#2a2a2a" stroke-width="0.8"/>
<ellipse cx="661.9" cy="283.86" rx="1.7" ry="1.6" fill="#0a2f8f"/>
<text x="585.6" y="304.7" font-family='"Liberation Serif", serif' font-size="6.9" font-weight="bold" font-style="normal" text-anchor="middle" fill="#1a1a1a" stroke="#1a1a1a" stroke-width="0.18" textLength="3" lengthAdjust="spacingAndGlyphs">0</text>
<text x="611.4" y="304.7" font-family='"Liberation Serif", serif' font-size="6.9" font-weight="bold" font-style="normal" text-anchor="middle" fill="#1a1a1a" stroke="#1a1a1a" stroke-width="0.18" textLength="9" lengthAdjust="spacingAndGlyphs">500</text>
<text x="636.6" y="304.7" font-family='"Liberation Serif", serif' font-size="6.9" font-weight="bold" font-style="normal" text-anchor="middle" fill="#1a1a1a" stroke="#1a1a1a" stroke-width="0.18" textLength="12" lengthAdjust="spacingAndGlyphs">1000</text>
<text x="661.5" y="304.7" font-family='"Liberation Serif", serif' font-size="6.9" font-weight="bold" font-style="normal" text-anchor="middle" fill="#1a1a1a" stroke="#1a1a1a" stroke-width="0.18" textLength="12" lengthAdjust="spacingAndGlyphs">1500</text>
<text x="624" y="313" font-family='"Liberation Serif", serif' font-size="6.6" font-weight="bold" font-style="normal" text-anchor="middle" fill="#111" stroke="#111" stroke-width="0.18" textLength="57.3" lengthAdjust="spacingAndGlyphs">Concentration (μg/mL)</text>
<text x="555.6" y="237.1" font-family='"Liberation Serif", serif' font-size="6.2" font-weight="bold" font-style="normal" text-anchor="middle" fill="#111" stroke="#111" stroke-width="0.18" textLength="39.1" lengthAdjust="spacingAndGlyphs" transform="rotate(-90 555.6 237.1)">Comp-FITC-A</text></svg></body></html>
